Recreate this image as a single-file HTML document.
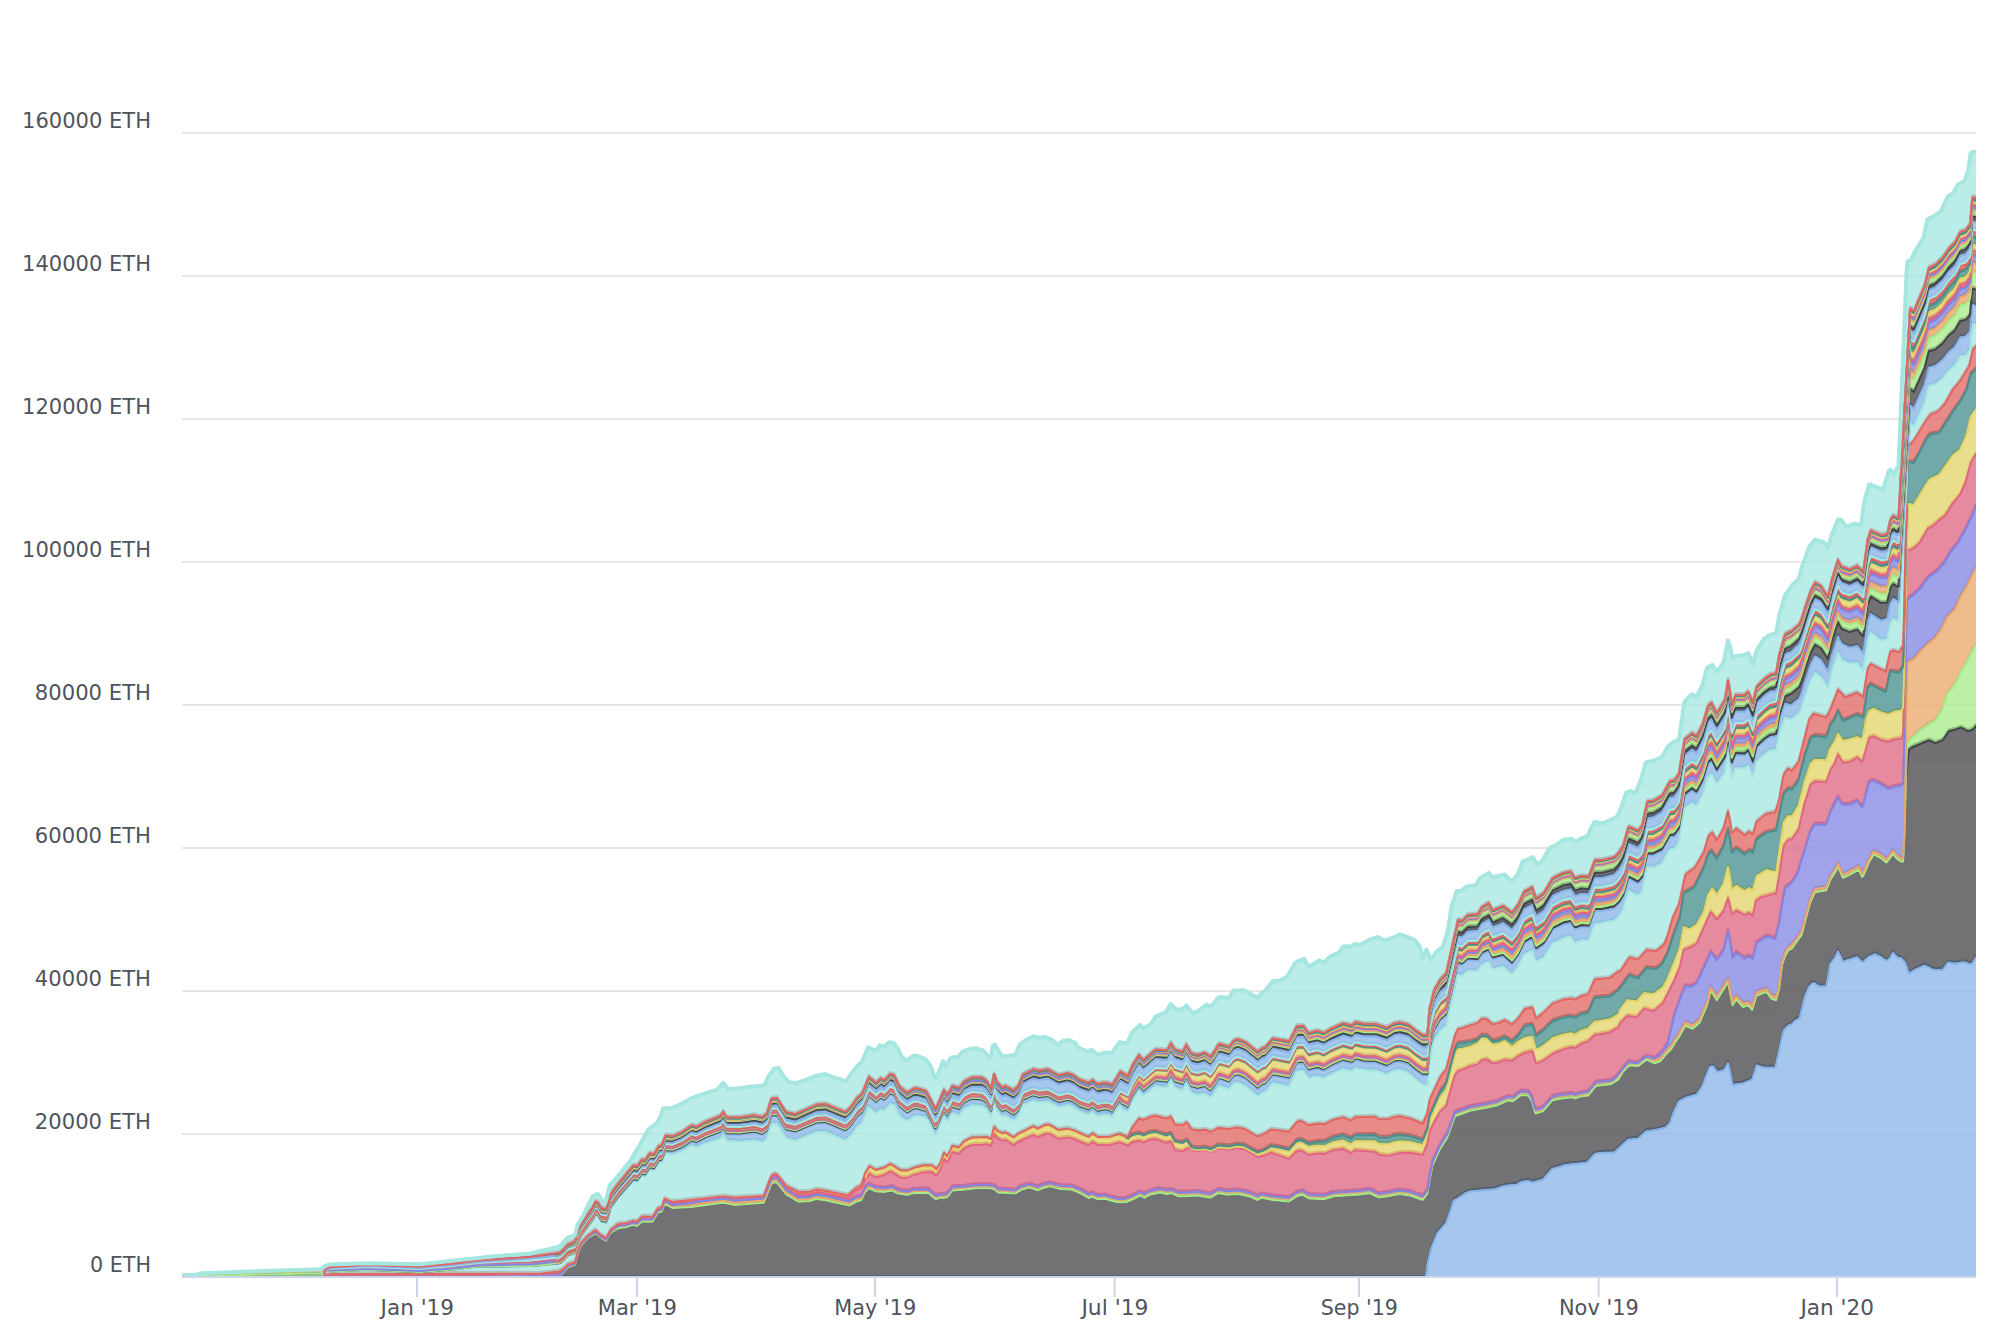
<!DOCTYPE html><html><head><meta charset="utf-8"><title>Chart</title><style>html,body{margin:0;padding:0;background:#fff}svg{display:block}text{font-family:"DejaVu Sans","Liberation Sans",sans-serif;font-size:22px;fill:#4e545c}</style></head><body>
<svg width="2002" height="1332" viewBox="0 0 2002 1332">
<rect width="2002" height="1332" fill="#fff"/>
<rect x="182" y="132" width="1794" height="2" fill="#e6e6e6"/>
<rect x="182" y="275" width="1794" height="2" fill="#e6e6e6"/>
<rect x="182" y="418" width="1794" height="2" fill="#e6e6e6"/>
<rect x="182" y="561" width="1794" height="2" fill="#e6e6e6"/>
<rect x="182" y="704" width="1794" height="2" fill="#e6e6e6"/>
<rect x="182" y="847" width="1794" height="2" fill="#e6e6e6"/>
<rect x="182" y="990" width="1794" height="2" fill="#e6e6e6"/>
<rect x="182" y="1133" width="1794" height="2" fill="#e6e6e6"/>
<defs><clipPath id="cp"><rect x="182" y="0" width="1794" height="1277"/></clipPath>
<path id="p0" d="M176,1283L176,1277 182,1277 1425.8,1276.9 1427.3,1264.2 1431.1,1247.5 1437.1,1232.6 1446.1,1222 1449.8,1211.7 1453.6,1199.6 1458,1197.4 1465.6,1192.1 1470,1190.6 1495.6,1188.3 1504.6,1184.9 1516.6,1183.8 1521.1,1180.9 1528.6,1180.1 1532.4,1181.6 1542.9,1178.6 1551.9,1168.1 1555.7,1167.3 1564.7,1164.3 1575,1162.9 1586,1162.1 1588,1160.4 1594.7,1153.1 1600.7,1151.9 1614.2,1151.6 1628,1138.8 1638,1137.8 1645.8,1130.5 1654.7,1129.3 1665.3,1126.8 1669.8,1122.3 1674.1,1110.1 1678.8,1100.5 1686,1096.7 1696.5,1093.7 1702.5,1084.7 1707,1072.7 1710,1066 1713,1065.2 1717.5,1071.1 1724.3,1068.9 1728,1062.1 1730,1070.3 1732.6,1083.9 1743.1,1082.4 1752.1,1078.6 1756.6,1064.4 1764.1,1066.7 1775,1066.7 1776.1,1063 1783,1031.7 1784,1028.7 1788.1,1024.6 1791,1023.9 1795.6,1019.4 1799.4,1017.7 1804.6,996.2 1809.1,985.7 1812.1,982.6 1813.6,982.6 1815.1,982.6 1818.9,985.6 1826,985.6 1827.9,976.6 1830.2,963 1834.7,957 1838,950.4 1841,956 1842.9,960.8 1857.2,956.3 1862,961.1 1863.2,960.9 1869.2,955.6 1875.2,953.3 1881,956.2 1886.5,960 1889,958.2 1893.2,951.8 1897.7,957 1901,957.1 1904.9,961.2 1909,972.8 1913.8,969.4 1924.7,964.6 1933.8,969.1 1942.8,968.7 1948,961.6 1954.8,962.8 1963.8,961.3 1970.7,963.6 1972.3,962.2 1976,956.3 1982,956.3 1982,1283"/>
<path id="p1" d="M176,1283L176,1277 182,1277 470,1277 500,1276.2 559.5,1275.5 564,1271 567.8,1266.4 575,1264 577.5,1254.6 580.5,1245.5 588,1236.9 595.6,1232.4 600.1,1236.4 606.1,1240.1 610.6,1231.9 618.1,1227.4 625.6,1226.3 633.1,1223.9 636.8,1225.1 642.1,1220.6 652.6,1220.9 657.9,1211.6 661.6,1210.9 664.6,1202.7 672.1,1207.1 690,1206.4 723.2,1201.9 735,1204.1 763.7,1201.9 771.2,1183.2 774.2,1181.3 777.2,1181.9 786.2,1193.6 798.3,1200.8 808.8,1200.4 816.3,1198.1 825.3,1199.3 849.3,1204.7 856,1200.9 861.3,1199.4 865,1191.3 868.8,1187.4 875,1190.2 876.3,1190.5 884,1191.1 892.1,1189.7 898.1,1192.7 907.1,1194.2 914,1192.1 928.1,1191.9 935,1197.8 936.4,1198.2 940.1,1197.2 947,1196.5 950,1192.9 952,1189.9 953,1189.6 964.1,1188.9 976.2,1187.4 989.7,1187.4 994,1188.1 998,1191.5 1015.2,1192.7 1021.2,1188.9 1029.5,1186.7 1037.7,1189.4 1042.2,1187.4 1049.7,1185.5 1060.2,1188.2 1072.3,1188.9 1081.3,1192.7 1088.8,1197.2 1091.8,1195.7 1097.8,1198.4 1105.3,1197.9 1109.8,1199.4 1118,1201.4 1125.5,1201.4 1133,1198.4 1140.5,1194.6 1144.3,1196.9 1149.5,1193.9 1160,1191.6 1166,1193.1 1172,1192.4 1178,1195.3 1185.6,1195.4 1197.6,1194.6 1210.4,1196.8 1217.9,1192.4 1227.6,1193.9 1238,1193.1 1248.6,1195.3 1257.7,1199.1 1261.4,1196.9 1271,1198.8 1289,1200.6 1296.7,1195.4 1302.7,1193.9 1308.7,1197.6 1323.7,1198.4 1334,1195.4 1358,1193.9 1370,1192.4 1379,1196.7 1388,1195.4 1399.5,1193.1 1410,1194.6 1422.8,1199.1 1427.3,1193.1 1429.5,1179.9 1432.6,1164.5 1440,1148.2 1447.6,1136 1455,1115.3 1470,1109.8 1485.1,1107.2 1497.1,1104.5 1507.6,1099.7 1512.9,1100.3 1521.1,1094 1528.6,1094.8 1531.7,1100.2 1535,1111.4 1536,1112.6 1542.9,1110.5 1552.7,1099.3 1560,1097.8 1572.2,1096.3 1575,1097.7 1581.2,1095.5 1588,1094.7 1596.2,1085 1611.2,1083.4 1618.7,1078.2 1623.2,1070.7 1629.2,1064.7 1638,1065.4 1646.5,1058.7 1654.7,1062.4 1660.8,1060.1 1666.8,1052.6 1671.3,1048.1 1675.8,1040.6 1678.8,1036.4 1685.3,1024.9 1692.8,1027.8 1699.5,1021.9 1707,1004.7 1710.8,989.6 1716.8,999.3 1728,981.4 1732.6,1004.5 1736.3,998.6 1743.1,1006.1 1748,1004.7 1749.1,1005.5 1752.1,1009 1756.6,994.8 1766,991.2 1767.1,992.1 1771.6,997.9 1776.1,999.3 1779.1,988.1 1782.1,964.1 1785.1,955.1 1788.1,949.8 1791.9,947.5 1801.6,934.1 1809.1,905.6 1812.1,897.3 1815.1,891.3 1826,889.7 1827.9,885.5 1830.2,879.1 1834.7,872.3 1838,865.8 1842.9,876.9 1849.7,873.9 1858.7,868.7 1862,876 1863.2,875.1 1869.2,861.1 1873.7,853.6 1881,857.3 1886.5,861.8 1893.2,852.9 1896.2,857.4 1901,860.8 1903,860.5 1904,842.9 1906.7,770.7 1909,749 1910.8,747.2 1913,746 1928.8,739.5 1930.2,739.8 1935.3,742.3 1942.8,739.2 1948.8,730.3 1954.8,728.8 1961,726.6 1968.3,730.3 1973,728.5 1976,725 1982,725 1982,1283"/>
<path id="p2" d="M324.6,1283L324.6,1276.9 470,1276.9 500,1276.1 559.5,1275.4 564,1270.9 567.8,1266.3 575,1263.9 577.5,1254.5 580.5,1245.4 588,1236.8 595.6,1232.3 600.1,1236.3 606.1,1240 610.6,1231.8 618.1,1227.3 625.6,1226.2 633.1,1223.8 636.8,1225 642.1,1220.5 652.6,1220.8 657.9,1211.5 661.6,1210.8 664.6,1202.6 672.1,1207 690,1206.3 723.2,1201.8 735,1204 763.7,1201.8 771.2,1183.1 774.2,1181.2 777.2,1181.8 786.2,1193.5 798.3,1200.7 808.8,1200.3 816.3,1198 825.3,1199.2 849.3,1204.6 856,1200.8 861.3,1199.3 865,1191.2 868.8,1187.3 875,1190.1 876.3,1190.4 884,1191 892.1,1189.6 898.1,1192.6 907.1,1194.1 914,1192 928.1,1191.8 935,1197.7 936.4,1198.1 940.1,1197.1 947,1196.4 950,1192.8 952,1189.8 953,1189.5 964.1,1188.8 976.2,1187.3 989.7,1187.3 994,1188 998,1191.4 1015.2,1192.6 1021.2,1188.8 1029.5,1186.6 1037.7,1189.3 1042.2,1187.3 1049.7,1185.4 1060.2,1188.1 1072.3,1188.8 1081.3,1192.6 1088.8,1197.1 1091.8,1195.6 1097.8,1198.3 1105.3,1197.8 1109.8,1199.3 1118,1201.3 1125.5,1201.3 1133,1198.3 1140.5,1194.5 1144.3,1196.8 1149.5,1193.8 1160,1191.5 1166,1193 1172,1192.3 1178,1195.2 1185.6,1195.3 1197.6,1194.5 1210.4,1196.7 1217.9,1192.3 1227.6,1193.8 1238,1193 1248.6,1195.2 1257.7,1199 1261.4,1196.8 1271,1198.7 1289,1200.5 1296.7,1195.3 1302.7,1193.8 1308.7,1197.5 1323.7,1198.3 1334,1195.3 1358,1193.8 1370,1192.3 1379,1196.6 1388,1195.3 1399.5,1193 1410,1194.5 1422.8,1199 1427.3,1193 1429.5,1179.8 1432.6,1164.4 1440,1148.1 1447.6,1135.9 1455,1115.2 1470,1109.7 1485.1,1107.1 1497.1,1104.4 1507.6,1099.6 1512.9,1100.2 1521.1,1093.9 1528.6,1094.7 1531.7,1100.1 1535,1111.3 1536,1112.5 1542.9,1110.4 1552.7,1099.2 1560,1097.7 1572.2,1096.2 1575,1097.6 1581.2,1095.4 1588,1094.6 1596.2,1084.9 1611.2,1083.3 1618.7,1078.1 1623.2,1070.6 1629.2,1064.6 1638,1065.3 1646.5,1058.6 1654.7,1062.3 1660.8,1060 1666.8,1052.5 1671.3,1048 1675.8,1040.5 1678.8,1036.3 1685.3,1024.8 1692.8,1027.7 1699.5,1021.8 1707,1004.6 1710.8,989.5 1716.8,999.2 1728,981.3 1732.6,1004.4 1736.3,998.5 1743.1,1006 1748,1004.6 1749.1,1005.4 1752.1,1008.9 1756.6,994.7 1766,991.1 1767.1,992 1771.6,997.8 1776.1,999.2 1779.1,988 1782.1,964 1785.1,955 1788.1,949.7 1791.9,947.4 1801.6,934 1809.1,905.5 1812.1,897.2 1815.1,891.2 1826,889.6 1827.9,885.4 1830.2,879 1834.7,872.2 1838,865.7 1842.9,876.8 1849.7,873.8 1858.7,868.6 1862,875.9 1863.2,875 1869.2,861 1873.7,853.5 1881,857.2 1886.5,861.7 1893.2,852.8 1896.2,857.3 1901,860.7 1903,860.4 1904,842.8 1904.9,815.8 1906.7,745.2 1909,740 1913.8,735.8 1920.2,729.5 1928,724.1 1935.3,719.9 1942.8,707.6 1947.3,692.6 1954.8,683.6 1961,671.3 1968.3,658.1 1973,648.8 1976,644 1982,644 1982,1283"/>
<path id="p3" d="M324.6,1283L324.6,1276.8 470,1276.6 500,1275.8 559.5,1274.9 564,1270.2 567.8,1265.5 575,1262.9 577.5,1253.3 580.5,1244.2 588,1236 595.6,1230.8 600.1,1235.3 606.1,1239 610.6,1230.8 618.1,1225.3 625.6,1224.3 633.1,1222 636.8,1223 642.1,1218.5 652.6,1218.8 657.9,1209.5 661.6,1208.8 664.6,1200.6 672.1,1205 690,1204.2 705.2,1201.9 723.2,1199.7 735,1201.9 763.7,1199.7 771.2,1181 774.2,1179.1 777.2,1179.7 786.2,1191.4 798.3,1198.6 808.8,1198.2 816.3,1195.9 825.3,1197.1 849.3,1202.5 856,1198.7 861.3,1197.2 865,1189.1 868.8,1185.2 875,1188 876.3,1188.3 884,1188.9 892.1,1187.5 898.1,1190.5 907.1,1192 914,1189.9 928.1,1189.7 935,1195.6 936.4,1196 940.1,1195 947,1194.3 950,1190.7 952,1187.7 953,1187.4 964.1,1186.7 976.2,1185.2 989.7,1185.2 994,1185.9 998,1189.3 1015.2,1190.4 1021.2,1186.6 1029.5,1184.4 1037.7,1187 1042.2,1185.1 1049.7,1183.1 1060.2,1185.7 1072.3,1186.5 1081.3,1190.2 1088.8,1194.6 1091.8,1193.1 1097.8,1195.8 1105.3,1195.3 1109.8,1196.8 1118,1198.7 1125.5,1198.7 1133,1195.7 1140.5,1191.9 1144.3,1194.1 1149.5,1191.1 1160,1188.8 1166,1190.2 1172,1189.5 1178,1192.4 1185.6,1192.4 1197.6,1191.6 1210.4,1193.8 1217.9,1189.3 1227.6,1190.8 1238,1190 1248.6,1192.2 1257.7,1196 1261.4,1193.8 1271,1195.7 1289,1197.5 1296.7,1192.3 1302.7,1190.8 1308.7,1194.5 1323.7,1195.3 1334,1192.3 1358,1190.8 1370,1189.3 1379,1193.6 1388,1192.3 1399.5,1190 1410,1191.5 1422.8,1196 1427.3,1190 1429.5,1176.8 1432.6,1161.4 1440,1145.1 1447.6,1132.9 1455,1112.2 1470,1106.7 1485.1,1104.1 1497.1,1101.4 1507.6,1096.6 1512.9,1097.2 1521.1,1090.9 1528.6,1091.7 1531.7,1097.1 1535,1108.3 1536,1109.5 1542.9,1107.4 1552.7,1096.2 1560,1094.7 1572.2,1093.2 1575,1094.6 1581.2,1092.4 1588,1091.6 1596.2,1081.9 1611.2,1080.3 1618.7,1075.1 1623.2,1067.6 1629.2,1061.6 1638,1062.3 1646.5,1055.6 1654.7,1059.3 1660.8,1057 1666.8,1049.5 1671.3,1045 1675.8,1037.5 1678.8,1033.3 1685.3,1021.8 1692.8,1024.7 1699.5,1018.8 1707,1001.6 1710.8,986.5 1716.8,996.2 1728,978.3 1732.6,1001.4 1736.3,995.5 1743.1,1003 1748,1001.6 1749.1,1002.4 1752.1,1005.9 1756.6,991.7 1766,988.1 1767.1,989 1771.6,994.8 1776.1,996.2 1779.1,985 1782.1,961 1785.1,952 1788.1,946.7 1791.9,944.4 1801.6,931 1809.1,902.5 1812.1,894.2 1815.1,888.2 1826,886.6 1827.9,882.4 1830.2,876 1834.7,869.2 1838,862.7 1842.9,873.8 1849.7,870.8 1858.7,865.6 1862,872.9 1863.2,872 1869.2,858 1873.7,850.5 1881,854.2 1886.5,858.7 1893.2,849.8 1896.2,854.3 1901,857.7 1903,857.4 1904,839.8 1904.9,812.8 1906.7,664.1 1907.6,662.4 1909,660.8 1913.8,658.4 1920.2,650.7 1927.3,643.6 1935.3,637 1941.3,628 1947.3,616.1 1954.8,608.5 1961,594.7 1968.3,583 1973,572.2 1976,567.4 1982,567.4 1982,1283"/>
<path id="p4" d="M324.6,1283L324.6,1276.6 470,1276.4 500,1275.6 559.5,1274.6 564,1269.9 567.8,1265.2 575,1262.9 577.5,1253.3 580.5,1244.2 588,1236 595.6,1230.8 600.1,1235.3 606.1,1239 610.6,1230.8 618.1,1225 625.6,1224.2 633.1,1222 636.8,1222.8 642.1,1218.2 652.6,1218.4 657.9,1209.5 661.6,1208.8 664.6,1199.9 672.1,1204.1 680,1203.6 690,1202.5 698,1200.7 723.2,1197.8 735,1199.6 763.7,1197.4 771.2,1178.7 774.2,1176.9 777.2,1177.4 786.2,1189.1 798.3,1196.4 808.8,1196 816.3,1193.8 825.3,1195 849.3,1200.4 856,1196.7 861.3,1195.2 865,1187.2 868.8,1183.4 875,1186.3 876.3,1186.6 884,1187.4 892.1,1186.1 898.1,1189.2 907.1,1190.8 914,1188.7 928.1,1188.6 935,1194.5 936.4,1194.8 940.1,1193.9 947,1193.2 950,1189.6 952,1186.6 953,1186.3 964.1,1185.7 976.2,1184.2 989.7,1184.2 994,1184.9 998,1188.3 1015.2,1189.5 1021.2,1185.7 1029.5,1183.4 1037.7,1186.1 1042.2,1184.2 1049.7,1182.2 1060.2,1184.9 1072.3,1185.6 1081.3,1189.4 1088.8,1193.8 1091.8,1192.3 1097.8,1195 1105.3,1194.6 1109.8,1196 1118,1198 1125.5,1197.9 1133,1194.9 1140.5,1191.2 1144.3,1193.4 1149.5,1190.4 1160,1188.1 1166,1189.6 1172,1188.9 1178,1191.8 1185.6,1191.8 1197.6,1191.1 1210.4,1193.3 1217.9,1188.8 1227.6,1190.3 1238,1189.5 1248.6,1191.7 1257.7,1195.5 1261.4,1193.3 1271,1195.2 1289,1197 1296.7,1191.8 1302.7,1190.3 1308.7,1194 1323.7,1194.8 1334,1191.8 1358,1190.3 1370,1188.8 1379,1193.1 1388,1191.8 1399.5,1189.5 1410,1191 1422.8,1195.5 1427.3,1189.5 1429.5,1176.3 1432.6,1160.9 1440,1144.6 1447.6,1132.4 1455,1111.7 1470,1106.2 1485.1,1103.6 1497.1,1100.9 1507.6,1096.1 1512.9,1096.7 1521.1,1090.4 1528.6,1091.2 1531.7,1096.6 1535,1107.8 1536,1109 1542.9,1106.9 1552.7,1095.7 1560,1094.2 1572.2,1092.7 1575,1094.1 1581.2,1091.9 1588,1091.1 1596.2,1081.4 1611.2,1079.8 1614.2,1077.8 1615,1076.7 1615.8,1076.6 1628,1061.4 1629.2,1061.1 1634,1062 1638,1062 1646.5,1055.6 1654.7,1057.7 1663.1,1050.3 1668,1041.5 1674.1,1015.3 1679.9,998.8 1685.3,985.2 1690.9,986.1 1696.5,982.7 1707,960.1 1710.8,951.1 1716.8,959.3 1723.5,949.6 1728,930.1 1730,939.7 1732.6,957 1736.3,951.8 1744.6,957.8 1748,955.7 1749.1,955.9 1752.8,957.8 1756.6,942 1767.1,935.3 1775,938.2 1776.1,935.1 1779.1,922.5 1782.1,903 1785.1,887.2 1791,882.8 1797.1,873.7 1810.6,830.2 1815.1,823.4 1826,824.1 1827.9,819.3 1830.2,812 1838,796.4 1842.2,803.8 1849.7,803.8 1857.2,800.1 1862,806.3 1863.2,803.9 1869.2,781.3 1873.7,779.8 1881,783.5 1888,788.1 1894.7,785.8 1901,785.1 1903,782.7 1904,750.5 1906.7,602.5 1907.6,599.3 1909,597.5 1913.8,593.9 1920.2,587.6 1928,576.9 1937.7,569.9 1944.3,562 1950.3,551.5 1957.8,542.5 1965.6,528.4 1972.3,515 1976,505 1982,505 1982,1283"/>
<path id="p5" d="M795.3,1283L795.3,1191.8 798.3,1193.3 808.8,1193.3 816.3,1191.1 825.3,1192.3 847.8,1196.9 856,1189.5 861.3,1187.2 865,1177.9 868,1175.3 869.5,1172.8 875,1176.1 876.3,1176.3 884,1174.3 890,1170.7 892.1,1171.3 901.1,1176.9 907.1,1176.8 914,1173.9 923,1171.4 931.9,1171.1 936.4,1174.7 940.1,1169.4 943.9,1158 947,1161.7 950,1156.4 952,1151.3 953,1151.3 958.9,1153 964.1,1147.5 971.7,1144.2 982.2,1143.7 986.7,1143.2 991.2,1145.2 994,1133.2 994.9,1133.6 997.2,1137.1 1002.4,1139.6 1005.4,1139 1013.7,1144.2 1018.2,1141 1033.2,1134.1 1037.7,1136.5 1045,1133.1 1046,1133 1049.7,1132.9 1058.7,1138 1067.7,1136.4 1075.3,1138.5 1079.8,1140.7 1088.8,1144.2 1092.5,1140.8 1097.8,1144.1 1109,1144.3 1119.5,1141.4 1127.8,1144.8 1132.3,1141.3 1139,1139.8 1143.5,1141.4 1149.5,1138.8 1155.6,1138.1 1166,1141.7 1170.9,1140.5 1175,1149.1 1181,1150.2 1182.6,1150.4 1186.3,1147.9 1187,1147.9 1190,1146.5 1191.6,1148.8 1197.6,1149.9 1205,1149 1210.4,1150.9 1214,1149.5 1217.9,1147.4 1220,1147.3 1229,1148.7 1236.6,1147 1244,1148.2 1257.7,1156 1265,1154.6 1271,1151.8 1289,1157.9 1296.7,1150.2 1301,1149.6 1308.7,1154 1317.7,1152.4 1325,1152.7 1332.7,1149.4 1343,1148 1350.8,1152.2 1355,1149.2 1374.8,1150.9 1379,1153.8 1388,1154.9 1399.5,1152.1 1410,1151.8 1422.8,1154 1427.3,1143.3 1429.5,1130.3 1440,1110.9 1446.1,1105.3 1450.6,1088.9 1455,1074.4 1458,1070.2 1464.1,1068.1 1470,1065.4 1477.6,1063.4 1482,1059.2 1487,1058.6 1493,1062.6 1498.6,1061.6 1504.6,1058.9 1512,1059.7 1518,1055.4 1524.9,1052 1531.7,1050.3 1532.4,1050.3 1536,1062.6 1536.9,1062.7 1543.7,1059.3 1552.7,1053 1563.2,1048.4 1571.4,1046.2 1575,1047.3 1581.2,1042.9 1588,1040.5 1594.7,1034 1596.2,1034.1 1609.7,1031.4 1618.7,1026.3 1620,1022.2 1627.2,1015 1636.8,1016.2 1644,1007.8 1653.3,1010.1 1654.7,1009.2 1663.1,1001.9 1674.1,980 1679.9,966.1 1683.7,948.9 1689.7,946.5 1696.5,943.1 1710.8,911.2 1716.8,918.7 1723.5,910.5 1728,897.2 1730,904.4 1731.8,913.4 1736.3,909.7 1744.6,914.2 1749.1,912 1752.8,914.9 1755.8,900.1 1761.1,896.2 1776.1,892.4 1779.1,875.2 1783,849.2 1784,844.6 1788.1,839.1 1791.9,838.3 1798.6,828.6 1804.6,802.5 1810.6,783.7 1815.1,780.6 1826,781.3 1827.9,776.8 1830.2,770 1834.7,762.4 1838,753.6 1842.9,761.8 1849.7,761 1857.2,756.6 1862,760.7 1863.2,758.3 1869.2,737 1873.7,735.5 1881,739.2 1888,740.8 1894.7,738.5 1901,737.8 1903,733.7 1904,701.2 1906.7,554.5 1907.6,549.3 1909,549.6 1913.8,547.2 1915.3,546 1920.2,541.1 1928,527.4 1930.2,526.7 1935.3,523 1939.2,519.2 1945.2,514.6 1952.7,502.6 1960.2,493.6 1965.6,481.5 1970.7,462.1 1976,453.1 1982,453.1 1982,1283"/>
<path id="q5" d="M795.3,1194.5L795.3,1191.8 798.3,1193.3 808.8,1193.3 816.3,1191.1 825.3,1192.3 847.8,1196.9 856,1189.5 861.3,1187.2 865,1177.9 868,1175.3 869.5,1172.8 875,1176.1 876.3,1176.3 884,1174.3 890,1170.7 892.1,1171.3 901.1,1176.9 907.1,1176.8 914,1173.9 923,1171.4 931.9,1171.1 936.4,1174.7 940.1,1169.4 943.9,1158 947,1161.7 950,1156.4 952,1151.3 953,1151.3 958.9,1153 964.1,1147.5 971.7,1144.2 982.2,1143.7 986.7,1143.2 991.2,1145.2 994,1133.2 994.9,1133.6 997.2,1137.1 1002.4,1139.6 1005.4,1139 1013.7,1144.2 1018.2,1141 1033.2,1134.1 1037.7,1136.5 1045,1133.1 1046,1133 1049.7,1132.9 1058.7,1138 1067.7,1136.4 1075.3,1138.5 1079.8,1140.7 1088.8,1144.2 1092.5,1140.8 1097.8,1144.1 1109,1144.3 1119.5,1141.4 1127.8,1144.8 1132.3,1141.3 1139,1139.8 1143.5,1141.4 1149.5,1138.8 1155.6,1138.1 1166,1141.7 1170.9,1140.5 1175,1149.1 1181,1150.2 1182.6,1150.4 1186.3,1147.9 1187,1147.9 1190,1146.5 1191.6,1148.8 1197.6,1149.9 1205,1149 1210.4,1150.9 1214,1149.5 1217.9,1147.4 1220,1147.3 1229,1148.7 1236.6,1147 1244,1148.2 1257.7,1156 1265,1154.6 1271,1151.8 1289,1157.9 1296.7,1150.2 1301,1149.6 1308.7,1154 1317.7,1152.4 1325,1152.7 1332.7,1149.4 1343,1148 1350.8,1152.2 1355,1149.2 1374.8,1150.9 1379,1153.8 1388,1154.9 1399.5,1152.1 1410,1151.8 1422.8,1154 1427.3,1143.3 1429.5,1130.3 1440,1110.9 1446.1,1105.3 1450.6,1088.9 1455,1074.4 1458,1070.2 1464.1,1068.1 1470,1065.4 1477.6,1063.4 1482,1059.2 1487,1058.6 1493,1062.6 1498.6,1061.6 1504.6,1058.9 1512,1059.7 1518,1055.4 1524.9,1052 1531.7,1050.3 1532.4,1050.3 1536,1062.6 1536.9,1062.7 1543.7,1059.3 1552.7,1053 1563.2,1048.4 1571.4,1046.2 1575,1047.3 1581.2,1042.9 1588,1040.5 1594.7,1034 1596.2,1034.1 1609.7,1031.4 1618.7,1026.3 1620,1022.2 1627.2,1015 1636.8,1016.2 1644,1007.8 1653.3,1010.1 1654.7,1009.2 1663.1,1001.9 1674.1,980 1679.9,966.1 1683.7,948.9 1689.7,946.5 1696.5,943.1 1710.8,911.2 1716.8,918.7 1723.5,910.5 1728,897.2 1730,904.4 1731.8,913.4 1736.3,909.7 1744.6,914.2 1749.1,912 1752.8,914.9 1755.8,900.1 1761.1,896.2 1776.1,892.4 1779.1,875.2 1783,849.2 1784,844.6 1788.1,839.1 1791.9,838.3 1798.6,828.6 1804.6,802.5 1810.6,783.7 1815.1,780.6 1826,781.3 1827.9,776.8 1830.2,770 1834.7,762.4 1838,753.6 1842.9,761.8 1849.7,761 1857.2,756.6 1862,760.7 1863.2,758.3 1869.2,737 1873.7,735.5 1881,739.2 1888,740.8 1894.7,738.5 1901,737.8 1903,733.7 1904,701.2 1906.7,554.5 1907.6,549.3 1909,549.6 1913.8,547.2 1915.3,546 1920.2,541.1 1928,527.4 1930.2,526.7 1935.3,523 1939.2,519.2 1945.2,514.6 1952.7,502.6 1960.2,493.6 1965.6,481.5 1970.7,462.1 1976,453.1 1982,453.1 1982,1283"/>
<path id="p6" d="M866,1283L866,1172.6 869.5,1166.8 875,1170.1 876.3,1170.3 884,1168.4 890,1164.8 892.1,1165.5 901.1,1171.2 907.1,1171.2 914,1168.5 923,1166.2 925.1,1166 931.9,1166 936.4,1169.7 940.1,1164.5 943.9,1153.3 947,1157 950,1151.8 952,1146.8 953,1146.7 958.9,1148 964.1,1142.1 971.7,1138.2 982.2,1138 986.7,1137.5 991.2,1139.6 994,1127.7 994.9,1128.1 997.2,1131.5 1002.4,1133.7 1005.4,1133 1013.7,1138 1018.2,1134.5 1033.2,1127 1037.7,1129.3 1045,1125.6 1046,1125.5 1049.7,1125.5 1058.7,1130.8 1067.7,1129.3 1075.3,1131.6 1079.8,1133.8 1088.8,1137.5 1092.5,1134.1 1097.8,1137.6 1109,1137.8 1119.5,1135.1 1127.8,1138.7 1132.3,1135.4 1139,1134.1 1143.5,1135.8 1149.5,1133.2 1155.6,1132.4 1166,1135.8 1170.9,1134.3 1175,1142.1 1182.6,1143.4 1186.3,1140.9 1187,1140.9 1191.6,1147.8 1197.6,1149 1205,1148.1 1210.4,1150 1214,1148.7 1217.9,1146.4 1220,1146.2 1229,1147.4 1236.6,1145.5 1244,1146.3 1257.7,1153.5 1265,1151 1271,1147.2 1280,1148.8 1289,1151.1 1296.7,1142.6 1301,1141.6 1308.7,1146.1 1317.7,1144.7 1325,1145.2 1332.7,1141.6 1343,1139.6 1350.8,1143.5 1355,1140.2 1374.8,1140.4 1379,1143 1388,1143.4 1394,1141.5 1399.5,1140.4 1410,1141.1 1422.8,1144.2 1427.3,1133.4 1429.5,1120.4 1440,1096.7 1446.1,1088.5 1455,1053.8 1458,1048.4 1464.1,1047.4 1470,1045.9 1477.6,1042.5 1482,1037.4 1487,1038.3 1492,1043.3 1493,1043.8 1498.6,1042.8 1504.6,1040.1 1512,1045.7 1518,1040.9 1524.9,1037.1 1531.7,1035.9 1532.4,1035.9 1536,1048.6 1536.9,1048.6 1543.7,1044.5 1552.7,1037.2 1563.2,1033.7 1571.4,1032.3 1575,1033.8 1581.2,1029.7 1588,1027.7 1594.7,1020.6 1596.2,1020.7 1609.7,1018.6 1618.7,1013.2 1620,1008.9 1627.2,999.3 1636.8,1000.5 1644,992.2 1653.3,993.3 1654.7,992.5 1663.1,986.2 1668,976.6 1674.1,962 1679.9,946.9 1683.7,926.1 1689.7,928.4 1696.5,923.9 1704,910.5 1707.8,894.6 1712.3,887.2 1716.8,893.9 1723.5,882.7 1728,866 1730,876.1 1731.8,888.7 1736.3,884.9 1744.6,890.2 1749.1,887.2 1752.8,889.4 1756.6,875.2 1766,869.4 1767.1,869.3 1776.1,871.4 1783,825.3 1784,820.6 1788.1,815.1 1791.9,815.8 1798.6,804.6 1804.6,780.7 1810.6,762.6 1815.1,758.8 1826,759.5 1827.9,754.7 1830.2,747.5 1834.7,740.7 1838,732.6 1842.9,740 1849.7,738.5 1857.2,736.3 1862,738.3 1863.2,734.2 1866.2,717.5 1869.2,710 1873.7,707.8 1881,711.4 1888,713.7 1894.7,710.8 1901,710.1 1903,706.5 1904,677.7 1907.6,504 1909,503 1913,504 1913.8,503.9 1926.4,483.1 1930.2,477.9 1939.2,474.1 1952.7,454.6 1960.2,448.6 1965.6,436.4 1967,431.6 1970.7,415.6 1976,408.1 1982,408.1 1982,1283"/>
<path id="q6" d="M866,1177L866,1172.6 869.5,1166.8 875,1170.1 876.3,1170.3 884,1168.4 890,1164.8 892.1,1165.5 901.1,1171.2 907.1,1171.2 914,1168.5 923,1166.2 925.1,1166 931.9,1166 936.4,1169.7 940.1,1164.5 943.9,1153.3 947,1157 950,1151.8 952,1146.8 953,1146.7 958.9,1148 964.1,1142.1 971.7,1138.2 982.2,1138 986.7,1137.5 991.2,1139.6 994,1127.7 994.9,1128.1 997.2,1131.5 1002.4,1133.7 1005.4,1133 1013.7,1138 1018.2,1134.5 1033.2,1127 1037.7,1129.3 1045,1125.6 1046,1125.5 1049.7,1125.5 1058.7,1130.8 1067.7,1129.3 1075.3,1131.6 1079.8,1133.8 1088.8,1137.5 1092.5,1134.1 1097.8,1137.6 1109,1137.8 1119.5,1135.1 1127.8,1138.7 1132.3,1135.4 1139,1134.1 1143.5,1135.8 1149.5,1133.2 1155.6,1132.4 1166,1135.8 1170.9,1134.3 1175,1142.1 1182.6,1143.4 1186.3,1140.9 1187,1140.9 1191.6,1147.8 1197.6,1149 1205,1148.1 1210.4,1150 1214,1148.7 1217.9,1146.4 1220,1146.2 1229,1147.4 1236.6,1145.5 1244,1146.3 1257.7,1153.5 1265,1151 1271,1147.2 1280,1148.8 1289,1151.1 1296.7,1142.6 1301,1141.6 1308.7,1146.1 1317.7,1144.7 1325,1145.2 1332.7,1141.6 1343,1139.6 1350.8,1143.5 1355,1140.2 1374.8,1140.4 1379,1143 1388,1143.4 1394,1141.5 1399.5,1140.4 1410,1141.1 1422.8,1144.2 1427.3,1133.4 1429.5,1120.4 1440,1096.7 1446.1,1088.5 1455,1053.8 1458,1048.4 1464.1,1047.4 1470,1045.9 1477.6,1042.5 1482,1037.4 1487,1038.3 1492,1043.3 1493,1043.8 1498.6,1042.8 1504.6,1040.1 1512,1045.7 1518,1040.9 1524.9,1037.1 1531.7,1035.9 1532.4,1035.9 1536,1048.6 1536.9,1048.6 1543.7,1044.5 1552.7,1037.2 1563.2,1033.7 1571.4,1032.3 1575,1033.8 1581.2,1029.7 1588,1027.7 1594.7,1020.6 1596.2,1020.7 1609.7,1018.6 1618.7,1013.2 1620,1008.9 1627.2,999.3 1636.8,1000.5 1644,992.2 1653.3,993.3 1654.7,992.5 1663.1,986.2 1668,976.6 1674.1,962 1679.9,946.9 1683.7,926.1 1689.7,928.4 1696.5,923.9 1704,910.5 1707.8,894.6 1712.3,887.2 1716.8,893.9 1723.5,882.7 1728,866 1730,876.1 1731.8,888.7 1736.3,884.9 1744.6,890.2 1749.1,887.2 1752.8,889.4 1756.6,875.2 1766,869.4 1767.1,869.3 1776.1,871.4 1783,825.3 1784,820.6 1788.1,815.1 1791.9,815.8 1798.6,804.6 1804.6,780.7 1810.6,762.6 1815.1,758.8 1826,759.5 1827.9,754.7 1830.2,747.5 1834.7,740.7 1838,732.6 1842.9,740 1849.7,738.5 1857.2,736.3 1862,738.3 1863.2,734.2 1866.2,717.5 1869.2,710 1873.7,707.8 1881,711.4 1888,713.7 1894.7,710.8 1901,710.1 1903,706.5 1904,677.7 1907.6,504 1909,503 1913,504 1913.8,503.9 1926.4,483.1 1930.2,477.9 1939.2,474.1 1952.7,454.6 1960.2,448.6 1965.6,436.4 1967,431.6 1970.7,415.6 1976,408.1 1982,408.1 1982,1283"/>
<path id="p7" d="M1127,1283L1127,1137.2 1127.8,1137.4 1132.3,1134 1139,1132.6 1143.5,1134.3 1149.5,1131.7 1155.6,1130.9 1166,1134.3 1170.9,1132.8 1175,1140.6 1182.6,1141.9 1186.3,1139.4 1187,1139.4 1191.6,1146.3 1197.6,1147.4 1205,1146.5 1210.4,1148.3 1214,1146.9 1217.9,1144.6 1220,1144.4 1229,1145.5 1236.6,1143.5 1244,1144.3 1257.7,1151.5 1265,1148.9 1271,1145.1 1280,1146.5 1289,1148.5 1296.7,1139.7 1301,1138.6 1308.7,1142.7 1317.7,1140.7 1325,1140.7 1332.7,1136.7 1343,1134.2 1350.8,1137.7 1355,1134.2 1374.8,1134.1 1379,1136.5 1388,1136.9 1394,1134.8 1399.5,1134 1410,1135.3 1422.8,1139.2 1427.3,1128.3 1429.5,1115.2 1440,1091.2 1446.1,1082.9 1455,1047.9 1458,1042.4 1464.1,1041.9 1470,1040.9 1477.6,1038.7 1482,1034.4 1487,1035.1 1492,1039.8 1493,1040.4 1498.6,1039 1504.6,1036.1 1512,1040.6 1518,1034.9 1524.9,1025.1 1532.4,1023.7 1536,1034.6 1536.9,1034.5 1543.7,1029.1 1552.7,1020.3 1563.2,1016.7 1571.4,1015.3 1575,1016.8 1581.2,1013.2 1588,1011.7 1594.7,996.9 1609.7,995.6 1618.7,989 1629.2,974.7 1630.8,974.6 1638,977.7 1646.5,966.9 1656,968.1 1662,963.3 1668,951.4 1674.1,932 1679.9,916.9 1683.7,892.4 1694,886.7 1696.5,882.1 1704,866.2 1708.5,852.7 1711.5,850.4 1716.8,857.9 1723.5,845.2 1728,828.4 1730,839 1731.8,851.9 1736.3,847.4 1744.6,853.4 1749.1,849.7 1752.8,851.9 1756.6,838.4 1766,831.9 1776.1,829.4 1783,795.6 1784,792.2 1788.1,788.1 1791.9,788.8 1798.6,779.1 1804.6,755.1 1810.6,737.1 1815.1,734.8 1826,736.2 1827.9,731.5 1830.2,724.2 1834.7,718.1 1838,710.1 1842.9,720 1857.2,713.8 1863.2,716.6 1867.7,686.7 1870.7,683.7 1885.7,691.2 1890.2,670.3 1899.2,671.7 1903,665.6 1904,636.9 1907.6,462 1909,461 1913,462 1913.8,461.8 1921.1,448.7 1926.4,438.1 1930.2,433.6 1939.2,432 1952.7,411 1960.2,400.5 1965.6,391.1 1967,387.1 1970.7,373.5 1976,368.3 1982,368.3 1982,1283"/>
<path id="q7" d="M1127,1138L1127,1137.2 1127.8,1137.4 1132.3,1134 1139,1132.6 1143.5,1134.3 1149.5,1131.7 1155.6,1130.9 1166,1134.3 1170.9,1132.8 1175,1140.6 1182.6,1141.9 1186.3,1139.4 1187,1139.4 1191.6,1146.3 1197.6,1147.4 1205,1146.5 1210.4,1148.3 1214,1146.9 1217.9,1144.6 1220,1144.4 1229,1145.5 1236.6,1143.5 1244,1144.3 1257.7,1151.5 1265,1148.9 1271,1145.1 1280,1146.5 1289,1148.5 1296.7,1139.7 1301,1138.6 1308.7,1142.7 1317.7,1140.7 1325,1140.7 1332.7,1136.7 1343,1134.2 1350.8,1137.7 1355,1134.2 1374.8,1134.1 1379,1136.5 1388,1136.9 1394,1134.8 1399.5,1134 1410,1135.3 1422.8,1139.2 1427.3,1128.3 1429.5,1115.2 1440,1091.2 1446.1,1082.9 1455,1047.9 1458,1042.4 1464.1,1041.9 1470,1040.9 1477.6,1038.7 1482,1034.4 1487,1035.1 1492,1039.8 1493,1040.4 1498.6,1039 1504.6,1036.1 1512,1040.6 1518,1034.9 1524.9,1025.1 1532.4,1023.7 1536,1034.6 1536.9,1034.5 1543.7,1029.1 1552.7,1020.3 1563.2,1016.7 1571.4,1015.3 1575,1016.8 1581.2,1013.2 1588,1011.7 1594.7,996.9 1609.7,995.6 1618.7,989 1629.2,974.7 1630.8,974.6 1638,977.7 1646.5,966.9 1656,968.1 1662,963.3 1668,951.4 1674.1,932 1679.9,916.9 1683.7,892.4 1694,886.7 1696.5,882.1 1704,866.2 1708.5,852.7 1711.5,850.4 1716.8,857.9 1723.5,845.2 1728,828.4 1730,839 1731.8,851.9 1736.3,847.4 1744.6,853.4 1749.1,849.7 1752.8,851.9 1756.6,838.4 1766,831.9 1776.1,829.4 1783,795.6 1784,792.2 1788.1,788.1 1791.9,788.8 1798.6,779.1 1804.6,755.1 1810.6,737.1 1815.1,734.8 1826,736.2 1827.9,731.5 1830.2,724.2 1834.7,718.1 1838,710.1 1842.9,720 1857.2,713.8 1863.2,716.6 1867.7,686.7 1870.7,683.7 1885.7,691.2 1890.2,670.3 1899.2,671.7 1903,665.6 1904,636.9 1907.6,462 1909,461 1913,462 1913.8,461.8 1921.1,448.7 1926.4,438.1 1930.2,433.6 1939.2,432 1952.7,411 1960.2,400.5 1965.6,391.1 1967,387.1 1970.7,373.5 1976,368.3 1982,368.3 1982,1283"/>
<path id="p8" d="M324.6,1283L324.6,1274.4 330,1273.3 540,1272.7 559.5,1270.4 564,1267.5 567.8,1263.7 575,1261.5 577.5,1251.8 580.5,1242.8 588,1234.5 592.6,1231.2 595.6,1229.2 600.1,1233.7 606.1,1237.3 610.6,1229.1 618.1,1223.1 625.6,1222.4 633.1,1220.1 636.8,1220.9 642.1,1215.6 652.6,1215.9 657.9,1207.4 661.6,1206.6 664.6,1197.7 672.1,1200.9 705.2,1197.6 723.2,1195.4 735,1196.8 763.7,1194.9 771.2,1175.2 774.2,1172.9 777.2,1173.6 786.2,1184.8 798.3,1190.9 808.8,1190.9 816.3,1188.6 825.3,1189.8 847.8,1194.4 856,1186.9 861.3,1184.6 865,1172.8 869.5,1165.2 875,1168.5 876.3,1168.7 884,1166.8 890,1163.2 892.1,1163.9 901.1,1169.6 907.1,1169.6 914,1166.9 923,1164.5 931.9,1164.4 936.4,1168.1 940.1,1162.9 943.9,1151.7 947,1155.4 950,1150.2 952,1145.2 953,1145.1 958.9,1146.4 964.1,1140.4 971.7,1136.6 982.2,1136.3 986.7,1135.9 991.2,1138 994,1126.1 994.9,1126.4 997.2,1129.9 1002.4,1132.1 1005.4,1131.4 1013.7,1136.3 1018.2,1132.9 1033.2,1125.4 1037.7,1127.6 1045,1124 1046,1123.8 1049.7,1123.8 1058.7,1129.1 1067.7,1127.6 1075.3,1129.9 1079.8,1132.1 1088.8,1135.8 1092.5,1132.4 1097.8,1135.9 1109,1135.9 1119.5,1132.8 1127.8,1136.2 1132.3,1126.5 1139,1117.6 1143.5,1119 1149.5,1116.1 1155.6,1114.8 1166,1117.5 1170.9,1115.8 1175,1123.4 1182.6,1124.3 1186.3,1121.6 1187,1121.6 1191.6,1128.3 1197.6,1129.5 1205,1128.8 1210.4,1130.8 1214,1129.4 1217.9,1127.2 1220,1127 1229,1128.3 1236.6,1126.5 1244,1127.7 1257.7,1135.5 1265,1132.6 1271,1128.5 1289,1130.7 1296.7,1121.3 1301,1119.8 1308.7,1124.3 1317.7,1122.8 1325,1123.2 1332.7,1119 1343,1116.4 1350.8,1119.7 1355,1116.2 1374.8,1115.7 1379,1118.1 1388,1118.3 1394,1116.1 1399.5,1115.2 1410,1117.5 1422.8,1122.7 1427.3,1112.2 1429.5,1099.3 1440,1076.3 1446.1,1068.5 1455,1034.4 1458,1028.3 1464.1,1026.6 1470,1024.4 1477.6,1022.1 1482,1017.7 1487,1018.3 1492,1023 1493,1023.5 1498.6,1022.1 1504.6,1019.1 1512,1023.5 1518,1017.8 1524.9,1007.9 1532.4,1006.4 1536,1017.2 1536.9,1017 1543.7,1011.6 1552.7,1002.6 1563.2,998.8 1571.4,997.4 1575,998.8 1581.2,995.1 1588,993.5 1594.7,978.6 1609.7,977.1 1618.7,970.4 1620,970.7 1629.2,956.9 1630.8,956.6 1638,958.7 1646.5,949.1 1656,950.3 1664,943.5 1665.3,940.8 1668,933.6 1672.9,916.6 1678.8,903.6 1685.3,874.2 1686,873.1 1694,867.7 1696.5,863.9 1704,850.9 1708.5,835.2 1712.3,831.4 1716.8,839.6 1723.5,827.7 1728,810.2 1730,820 1731.8,832.1 1736.3,827.6 1744.6,834.3 1749.1,830.6 1752.8,833.6 1756.6,820.8 1766,812.9 1775,811.2 1776.1,808.7 1779.1,799.1 1783,777 1784,773 1788.1,767.6 1791.9,769.8 1798.6,760.8 1809.1,718.9 1813.6,712.8 1826,716.4 1827.9,713.5 1830.2,708.9 1838,688.8 1845.2,696.2 1857.2,691.7 1863.2,696.1 1867.7,667.7 1870.7,663.2 1885.7,670.7 1890.2,651.2 1893.2,649.7 1899.2,651.2 1903,645.1 1904,616.8 1907.6,444.4 1909,443.1 1910.8,442.9 1913.8,439.8 1926.4,419.1 1930.2,413.8 1937.7,410.8 1945.2,402.5 1952.7,389 1960.2,380 1969.2,365 1973,348.5 1976,345.5 1982,345.5 1982,1283"/>
<path id="p9" d="M176,1283L176,1275.8 182,1275.8 200,1274.9 321,1272.4 324.6,1270.4 326,1270.1 330,1269.8 332,1270.7 367,1269 420,1271.4 455,1268.4 478,1265.7 530,1265.2 559.5,1262.7 562.5,1260.7 567.8,1255 575,1252.5 577.5,1243 580.5,1236.4 588,1225.5 592.6,1219.7 595.6,1213.9 597.8,1214.8 601.6,1221.1 606.1,1222 608,1217.5 610.6,1207.3 618.1,1197.3 633.1,1180.4 635,1180.2 636.8,1181.3 642.1,1174.9 645.1,1175.8 649.6,1169.1 654.1,1170 658.6,1162.5 661.6,1161.9 665.4,1152.4 672.1,1153.8 681.1,1150.9 691.7,1144.7 696.2,1146.6 705.2,1142.7 720.2,1138 723.2,1133.9 726.9,1140.1 739.7,1141.1 754.7,1139.4 762.2,1141.6 766.7,1138.4 771.2,1123.6 777.2,1123 786.2,1137.5 794,1139.5 795.3,1139.8 816.3,1131.2 825.3,1130.8 845,1139.5 846.3,1139 851,1134.6 857,1126.3 862,1122.2 868.8,1106.1 876.3,1112.6 880.8,1108.4 884,1110 887,1106.9 890,1103.1 894.3,1104.2 899,1113.8 900,1115.3 907.1,1120.3 913.1,1116.1 917,1115.1 926,1117 928.1,1120 935,1133.2 936.4,1132.7 943.9,1115.4 947,1120.5 950,1116.5 952,1112.3 953,1112.3 958.9,1114.5 964.1,1108 971.7,1104.5 982.2,1105.1 986.7,1108.4 991.2,1116 994,1102.2 994.9,1103.5 997.2,1110.5 1002.4,1116 1005.4,1114.8 1013.7,1119.7 1018.2,1115.5 1022.7,1104.5 1033.2,1099.9 1039.2,1101.7 1048.2,1100.6 1058.7,1106.5 1067.7,1104.2 1073.8,1106.4 1079.8,1110.8 1088.8,1113.7 1092.5,1110.7 1097.8,1115.2 1103.8,1113.7 1109,1114.3 1112,1116.1 1118,1106.6 1120.3,1105.2 1122,1107.9 1127.8,1111.1 1132.3,1100.5 1139,1089.9 1143.5,1094.9 1155.6,1085.3 1166.8,1087 1170.9,1079.9 1175,1086.8 1176.6,1087.5 1182.6,1089.8 1186.3,1082.7 1191.6,1092.1 1197.6,1094.1 1205,1092.5 1210.4,1096.9 1214,1092.6 1217.9,1085.9 1220,1085.1 1229,1088.5 1233.6,1082.9 1238,1081.8 1245.6,1085.4 1257.7,1095.6 1262.2,1092 1265,1091.3 1272.7,1082.3 1289,1085.5 1296.7,1070.6 1302.7,1070 1303.5,1070 1308.7,1077.5 1317.7,1075.4 1323.7,1077.7 1331,1073.5 1343,1068.3 1352,1070.5 1355,1067.2 1358,1067.6 1364,1069.3 1376,1069.7 1386.8,1073.7 1394,1069.6 1399.5,1068.9 1408.5,1072 1416,1078.7 1422.8,1083.9 1427.3,1084.3 1429.5,1058.1 1434.1,1039.9 1440,1030.1 1446.1,1025 1458,973.7 1461.8,975.2 1467.8,970 1477.6,970.4 1482,963.7 1488.9,960.8 1492,967.4 1493,968.6 1503.1,965.6 1512,973.4 1518,965.9 1524.1,953.6 1532.4,949.6 1536,960.7 1536.9,960.7 1543.7,956.5 1552.7,942.3 1560,939.2 1563.2,937.4 1570.7,935.5 1575,941.7 1575.9,941.7 1581.2,939.4 1588.7,939.7 1594.7,922.9 1602.2,922.4 1605,921.5 1614.2,919.7 1618.7,915.5 1623.2,908.2 1628,891.4 1629.2,890 1638,894.7 1642,890.1 1647.3,866.6 1653.3,866.6 1662,862.3 1669.8,848.4 1674.1,848.1 1675.8,845.9 1678.8,841.6 1684.5,807.5 1692,802.1 1696.5,805.4 1702.5,793.9 1707.8,776.3 1711.5,772.8 1716.8,783.7 1725,770.9 1728,751.6 1730,762.4 1731.8,776.6 1735.6,767.2 1744.6,767.8 1748,764.7 1749.1,766.4 1752.8,775.9 1756.6,760.5 1764.1,753.6 1770,749.6 1775,749 1776.1,749.4 1779.1,733.3 1785.1,716.6 1791,718.5 1799.4,712.2 1801.6,706.9 1804.6,697.2 1810.6,679.7 1815.1,671.8 1821.1,676 1827.9,687.3 1831.7,671 1838,651.7 1841,657.9 1842.2,659.1 1849.7,662.8 1857.2,661.9 1863.2,670 1867.7,639.5 1870.7,631.6 1881,639.9 1887.2,637.9 1890.2,623 1893.2,617.9 1897.7,620.3 1898.5,620.2 1906.7,481.5 1907.6,444.4 1909,440.5 1910,422.5 1910.8,422.8 1913.8,425.7 1924.7,401.6 1928.8,385 1935.3,383.4 1942.8,377.5 1948.8,369.7 1954.8,364.7 1960.2,355.2 1965.6,354.5 1970,349.5 1972.3,323.3 1973,323 1976,324.2 1982,324.2 1982,1283"/>
<path id="p10" d="M556,1283L556,1262.7 559.5,1262.4 562.5,1260.3 567.8,1254.6 575,1252.1 577.5,1242.5 580.5,1235.8 588,1225 592.6,1219 595.6,1213.2 597.8,1214.1 601.6,1220.4 606.1,1221.3 608,1216.7 610.6,1206.5 618.1,1196.4 633.1,1179.3 635,1179 636.8,1180 642.1,1173.4 645.1,1174.2 649.6,1167.3 654.1,1167.9 658.6,1160.3 661.6,1159.6 665.4,1149.9 672.1,1150.8 681.1,1147.3 691.7,1140.3 696.2,1141.9 705.2,1137.3 720.2,1131.6 723.2,1127.2 726.9,1133.2 739.7,1133.5 754.7,1131.6 762.2,1133.7 766.7,1130.4 771.2,1115.6 777.2,1114.9 786.2,1129.2 795.3,1131.4 816.3,1122.5 825.3,1121.9 845,1130.1 846.3,1129.5 851,1124.9 857,1116.3 862,1112 868.8,1095.6 876.3,1101.8 880.8,1097.4 884,1099.4 887,1096.7 890,1093.2 894.3,1094.7 899,1104.9 900,1106.5 907.1,1112.3 913.1,1108.7 917,1108.1 926,1111 928.1,1114.2 935,1128.2 936.4,1127.6 943.9,1110.2 947,1115.2 950,1111.1 952,1106.8 953,1106.8 958.9,1108.8 964.1,1102.1 971.7,1098.5 982.2,1099.4 986.7,1102.7 991.2,1110.4 994,1096.6 994.9,1098 997.2,1105.1 1002.4,1110.7 1005.4,1109.5 1013.7,1114.6 1018.2,1110.5 1022.7,1099.6 1033.2,1095.2 1039.2,1097.1 1048.2,1096.1 1058.7,1102 1067.7,1099.7 1073.8,1101.9 1079.8,1106.3 1088.8,1109.2 1092.5,1106.2 1097.8,1110.7 1103.8,1109.2 1109,1109.8 1112,1111.6 1118,1102.1 1120.3,1100.7 1122,1103.4 1127.8,1106.6 1132.3,1096 1139,1085.4 1143.5,1090.4 1155.6,1080.5 1166.8,1081.9 1170.9,1074.6 1175,1081.4 1176.6,1082.1 1182.6,1084.2 1186.3,1077 1191.6,1086.3 1197.6,1088.1 1205,1086.3 1210.4,1090.5 1214,1086.1 1217.9,1079.3 1220,1078.5 1229,1081.6 1233.6,1075.9 1238,1074.7 1245.6,1078 1257.7,1088.1 1262.2,1084.4 1265,1083.7 1272.7,1074.7 1289,1077.8 1296.7,1062.9 1302.7,1062.3 1303.5,1062.3 1308.7,1069.7 1317.7,1067.6 1323.7,1069.9 1331,1065.6 1343,1060.4 1352,1062.5 1355,1059.2 1358,1059.6 1364,1061.3 1376,1061.7 1386.8,1065.7 1394,1061.6 1399.5,1060.7 1408.5,1063.4 1416,1069.7 1422.8,1074.6 1427.3,1074.8 1429.5,1048.5 1434.1,1030 1440,1020 1446.1,1014.6 1458,962.7 1461.8,964.3 1467.8,959.1 1477.6,959.8 1482,953.1 1488.9,950.3 1492,957 1493,958.2 1503.1,955.4 1512,963.4 1518,955.4 1524.1,942.6 1524.9,942 1532.4,937.9 1536,948.7 1536.9,948.7 1543.7,943.9 1552.7,928.9 1563.2,923.5 1570.7,921.9 1575,928.2 1575.9,928.2 1581.2,926.1 1588.7,926.6 1594.7,910 1602.2,909.8 1614.2,907.4 1618.7,903.2 1623.2,896 1628,879.3 1629.2,877.9 1638,882.7 1642,878.1 1647.3,854.6 1653.3,854.6 1662,850.2 1669.8,836.3 1674.1,835.8 1678.8,829.3 1684.5,795.1 1692,789.6 1696.5,792.8 1702.5,781.3 1707.8,763.5 1711.5,760 1716.8,770.8 1725,757.9 1728,738.5 1730,749.3 1731.8,763.5 1735.6,754 1744.6,754.5 1748,751.3 1749.1,753 1752.8,762.5 1756.6,747 1764.1,740 1770,735.9 1775,735.3 1776.1,735.6 1779.1,719.5 1785.1,702.7 1791,704.5 1799.4,697.4 1801.6,691.8 1804.6,681.8 1810.6,663.7 1815.1,655.3 1818.9,657.6 1821.1,659.3 1827.9,670.8 1831.7,654.6 1838,635.5 1841,641.8 1842.2,643.1 1849.7,646.9 1857.2,645 1863.2,652.3 1867.7,621.2 1870.7,613 1881,619.9 1887.2,617.9 1890.2,603 1893.2,597.9 1894,598.1 1897.7,600.9 1898.5,600.9 1910,404.5 1910.8,404.7 1913.8,407.6 1924.7,383.3 1928.8,366.7 1935.3,365 1942.8,358.9 1948.8,351.1 1954.8,346 1960.2,336.5 1965.6,335.6 1970,330.5 1972.3,304.3 1973,304.1 1976,305.2 1982,305.2 1982,1283"/>
<path id="q10" d="M556,1263L556,1262.7 559.5,1262.4 562.5,1260.3 567.8,1254.6 575,1252.1 577.5,1242.5 580.5,1235.8 588,1225 592.6,1219 595.6,1213.2 597.8,1214.1 601.6,1220.4 606.1,1221.3 608,1216.7 610.6,1206.5 618.1,1196.4 633.1,1179.3 635,1179 636.8,1180 642.1,1173.4 645.1,1174.2 649.6,1167.3 654.1,1167.9 658.6,1160.3 661.6,1159.6 665.4,1149.9 672.1,1150.8 681.1,1147.3 691.7,1140.3 696.2,1141.9 705.2,1137.3 720.2,1131.6 723.2,1127.2 726.9,1133.2 739.7,1133.5 754.7,1131.6 762.2,1133.7 766.7,1130.4 771.2,1115.6 777.2,1114.9 786.2,1129.2 795.3,1131.4 816.3,1122.5 825.3,1121.9 845,1130.1 846.3,1129.5 851,1124.9 857,1116.3 862,1112 868.8,1095.6 876.3,1101.8 880.8,1097.4 884,1099.4 887,1096.7 890,1093.2 894.3,1094.7 899,1104.9 900,1106.5 907.1,1112.3 913.1,1108.7 917,1108.1 926,1111 928.1,1114.2 935,1128.2 936.4,1127.6 943.9,1110.2 947,1115.2 950,1111.1 952,1106.8 953,1106.8 958.9,1108.8 964.1,1102.1 971.7,1098.5 982.2,1099.4 986.7,1102.7 991.2,1110.4 994,1096.6 994.9,1098 997.2,1105.1 1002.4,1110.7 1005.4,1109.5 1013.7,1114.6 1018.2,1110.5 1022.7,1099.6 1033.2,1095.2 1039.2,1097.1 1048.2,1096.1 1058.7,1102 1067.7,1099.7 1073.8,1101.9 1079.8,1106.3 1088.8,1109.2 1092.5,1106.2 1097.8,1110.7 1103.8,1109.2 1109,1109.8 1112,1111.6 1118,1102.1 1120.3,1100.7 1122,1103.4 1127.8,1106.6 1132.3,1096 1139,1085.4 1143.5,1090.4 1155.6,1080.5 1166.8,1081.9 1170.9,1074.6 1175,1081.4 1176.6,1082.1 1182.6,1084.2 1186.3,1077 1191.6,1086.3 1197.6,1088.1 1205,1086.3 1210.4,1090.5 1214,1086.1 1217.9,1079.3 1220,1078.5 1229,1081.6 1233.6,1075.9 1238,1074.7 1245.6,1078 1257.7,1088.1 1262.2,1084.4 1265,1083.7 1272.7,1074.7 1289,1077.8 1296.7,1062.9 1302.7,1062.3 1303.5,1062.3 1308.7,1069.7 1317.7,1067.6 1323.7,1069.9 1331,1065.6 1343,1060.4 1352,1062.5 1355,1059.2 1358,1059.6 1364,1061.3 1376,1061.7 1386.8,1065.7 1394,1061.6 1399.5,1060.7 1408.5,1063.4 1416,1069.7 1422.8,1074.6 1427.3,1074.8 1429.5,1048.5 1434.1,1030 1440,1020 1446.1,1014.6 1458,962.7 1461.8,964.3 1467.8,959.1 1477.6,959.8 1482,953.1 1488.9,950.3 1492,957 1493,958.2 1503.1,955.4 1512,963.4 1518,955.4 1524.1,942.6 1524.9,942 1532.4,937.9 1536,948.7 1536.9,948.7 1543.7,943.9 1552.7,928.9 1563.2,923.5 1570.7,921.9 1575,928.2 1575.9,928.2 1581.2,926.1 1588.7,926.6 1594.7,910 1602.2,909.8 1614.2,907.4 1618.7,903.2 1623.2,896 1628,879.3 1629.2,877.9 1638,882.7 1642,878.1 1647.3,854.6 1653.3,854.6 1662,850.2 1669.8,836.3 1674.1,835.8 1678.8,829.3 1684.5,795.1 1692,789.6 1696.5,792.8 1702.5,781.3 1707.8,763.5 1711.5,760 1716.8,770.8 1725,757.9 1728,738.5 1730,749.3 1731.8,763.5 1735.6,754 1744.6,754.5 1748,751.3 1749.1,753 1752.8,762.5 1756.6,747 1764.1,740 1770,735.9 1775,735.3 1776.1,735.6 1779.1,719.5 1785.1,702.7 1791,704.5 1799.4,697.4 1801.6,691.8 1804.6,681.8 1810.6,663.7 1815.1,655.3 1818.9,657.6 1821.1,659.3 1827.9,670.8 1831.7,654.6 1838,635.5 1841,641.8 1842.2,643.1 1849.7,646.9 1857.2,645 1863.2,652.3 1867.7,621.2 1870.7,613 1881,619.9 1887.2,617.9 1890.2,603 1893.2,597.9 1894,598.1 1897.7,600.9 1898.5,600.9 1910,404.5 1910.8,404.7 1913.8,407.6 1924.7,383.3 1928.8,366.7 1935.3,365 1942.8,358.9 1948.8,351.1 1954.8,346 1960.2,336.5 1965.6,335.6 1970,330.5 1972.3,304.3 1973,304.1 1976,305.2 1982,305.2 1982,1283"/>
<path id="p11" d="M176,1283L176,1275.8 182,1275.8 200,1274.9 321,1272.3 324.6,1270.3 326,1270 330,1269.7 332,1270.6 367,1268.8 420,1271.2 455,1268.3 478,1265.5 530,1265 540,1264.3 559.5,1262.1 562.5,1260 567.8,1254.2 575,1251.6 577.5,1242 580.5,1235.3 588,1224.4 592.6,1218.4 595.6,1212.5 597.8,1213.5 601.6,1219.7 606.1,1220.5 608,1215.9 610.6,1205.7 618.1,1195.6 633.1,1178.3 635,1178 636.8,1179 642.1,1172.4 645.1,1173.2 649.6,1166.3 654.1,1166.9 658.6,1159.3 661.6,1158.6 665.4,1148.9 672.1,1149.8 681.1,1146.3 691.7,1139.3 696.2,1140.9 705.2,1136.3 720.2,1130.6 723.2,1126.2 726.9,1132.2 739.7,1132.5 754.7,1130.6 762.2,1132.7 766.7,1129.4 771.2,1114.6 773,1114.3 777.2,1113.9 786.2,1128.2 795.3,1130.4 816.3,1121.5 825.3,1120.9 845,1129.1 846.3,1128.5 851,1123.9 857,1115.3 862,1111 868.8,1094.6 876.3,1100.8 880.8,1096.4 884,1098.4 887,1095.7 890,1092.2 894.3,1093.7 899,1103.9 900,1105.5 907.1,1111.3 913.1,1107.7 917,1107.1 926,1110 928.1,1113.2 935,1127.2 936.4,1126.6 943.9,1109.2 947,1114.2 950,1110.1 952,1105.8 953,1105.8 958.9,1107.8 964.1,1101.1 971.7,1097.5 982.2,1098.4 986.7,1101.7 991.2,1109.4 994,1095.6 994.9,1097 997.2,1104.1 1002.4,1109.7 1005.4,1108.5 1013.7,1113.6 1018.2,1109.5 1022.7,1098.6 1033.2,1094.2 1039.2,1096.1 1048.2,1095.1 1058.7,1101 1067.7,1098.7 1073.8,1100.9 1079.8,1105.3 1088.8,1108.2 1092.5,1105.2 1097.8,1109.7 1103.8,1108.2 1109,1108.8 1112,1110.6 1118,1101 1120.3,1099.7 1122,1102.3 1127.8,1105.6 1132.3,1094.9 1139,1084.2 1143.5,1089.2 1155.6,1079.3 1166.8,1080.6 1170.9,1073.4 1175,1080.2 1176.6,1080.9 1182.6,1082.9 1186.3,1075.7 1191.6,1085 1197.6,1086.8 1205,1084.9 1210.4,1089.2 1214,1084.7 1217.9,1077.9 1220,1077.1 1229,1080.2 1233.6,1074.5 1238,1073.2 1245.6,1076.5 1257.7,1086.6 1262.2,1082.9 1265,1082.2 1272.7,1073.2 1289,1076.3 1296.7,1061.3 1302.7,1060.7 1303.5,1060.7 1308.7,1068.1 1317.7,1066 1323.7,1068.2 1331,1063.9 1343,1058.7 1352,1060.9 1355,1057.5 1358,1057.9 1364,1059.6 1376,1060 1386.8,1064 1394,1059.8 1399.5,1058.9 1408.5,1061.6 1416,1067.9 1422.8,1072.8 1427.3,1073 1429.5,1046.7 1434.1,1028.2 1440,1018.2 1446.1,1012.8 1458,960.8 1461.8,962.4 1467.8,957.3 1477.6,957.9 1482,951.2 1488.9,948.4 1492,955.1 1493,956.3 1503.1,953.5 1512,961.5 1518,953.5 1524.1,940.6 1524.9,940.1 1532.4,936 1536,946.7 1536.9,946.7 1543.7,941.9 1552.7,926.9 1563.2,921.5 1570.7,919.8 1575,926.1 1575.9,926.1 1581.2,924 1588.7,924.6 1594.7,907.9 1602.2,907.7 1614.2,905.2 1618.7,901.1 1623.2,893.9 1628,877.1 1629.2,875.8 1638,880.6 1642,875.9 1647.3,852.5 1653.3,852.4 1662,848 1669.8,834.1 1674.1,833.6 1678.8,827.1 1684.5,793 1692,787.4 1696.5,790.7 1702.5,779.1 1707.8,761.4 1711.5,757.9 1716.8,768.7 1725,755.8 1728,736.5 1730,747.2 1731.8,761.4 1735.6,751.9 1744.6,752.5 1748,749.3 1749.1,751 1752.8,760.5 1756.6,745 1764.1,738 1770,733.9 1776.1,733.1 1779.1,715.5 1785.1,695.2 1791,693 1799.4,685.9 1801.6,680.3 1804.6,670.3 1810.6,652.2 1815.1,643.8 1821.1,647.5 1827.9,658 1831.7,641.3 1838,621.3 1841,627.1 1842.2,628.2 1849.7,631.1 1857.2,628.6 1863.2,635.6 1867.7,604.1 1870.7,595.7 1881,601.9 1887.2,601.5 1890.2,587.4 1893.2,583 1897.7,585.7 1898.5,585.6 1910,388 1910.8,388.2 1913.8,391.1 1924.7,366.8 1928.8,350.2 1935.3,348.5 1942.8,342.4 1948.8,334.6 1954.8,329.5 1960.2,320 1965.6,319.1 1970,314 1972.3,287.8 1973,287.6 1976,288.7 1982,288.7 1982,1283"/>
<path id="p12" d="M176,1283L176,1275.8 182,1275.8 200,1274.8 321,1272.3 324.6,1270.2 326,1269.9 330,1269.6 332,1270.5 367,1268.8 420,1271.1 455,1268.2 478,1265.4 530,1264.9 540,1264.2 559.5,1261.8 562.5,1259.7 567.8,1253.8 575,1251.2 577.5,1241.6 580.5,1234.8 588,1223.8 592.6,1217.8 595.6,1211.9 597.8,1212.8 601.6,1218.9 606.1,1219.7 608,1215.2 610.6,1204.9 618.1,1194.7 633.1,1177.3 635,1177 636.8,1178 642.1,1171.4 645.1,1172.2 649.6,1165.3 654.1,1165.9 658.6,1158.3 661.6,1157.6 665.4,1147.9 672.1,1148.8 681.1,1145.3 691.7,1138.3 696.2,1139.9 705.2,1135.3 720.2,1129.6 723.2,1125.2 726.9,1131.2 739.7,1131.5 754.7,1129.6 762.2,1131.7 766.7,1128.4 771.2,1113.6 773,1113.3 777.2,1112.9 786.2,1127.2 795.3,1129.4 816.3,1120.5 825.3,1119.9 845,1128.1 846.3,1127.5 851,1122.9 857,1114.3 862,1110 868.8,1093.6 876.3,1099.8 880.8,1095.4 884,1097.4 887,1094.7 890,1091.2 894.3,1092.7 899,1102.9 900,1104.5 907.1,1110.3 913.1,1106.7 917,1106.1 926,1109 928.1,1112.2 935,1126.2 936.4,1125.6 943.9,1108.2 947,1113.2 950,1109.1 952,1104.8 953,1104.8 958.9,1106.8 964.1,1100.1 971.7,1096.5 982.2,1097.4 986.7,1100.7 991.2,1108.4 994,1094.6 994.9,1096 997.2,1103.1 1002.4,1108.7 1005.4,1107.5 1013.7,1112.6 1018.2,1108.5 1022.7,1097.6 1033.2,1093.2 1039.2,1095.1 1048.2,1094.1 1058.7,1100 1067.7,1097.7 1073.8,1099.9 1079.8,1104.3 1088.8,1107.2 1092.5,1104.2 1097.8,1108.7 1103.8,1107.2 1109,1107.8 1112,1109.6 1118,1100 1120.3,1098.7 1122,1101.3 1127.8,1104.6 1132.3,1093.9 1139,1083.2 1143.5,1088.2 1155.6,1078.3 1166.8,1079.6 1170.9,1072.4 1175,1079.2 1176.6,1079.9 1182.6,1081.9 1186.3,1074.7 1191.6,1084 1197.6,1085.8 1205,1083.9 1210.4,1088.2 1214,1083.7 1217.9,1076.9 1220,1076.1 1229,1079.2 1233.6,1073.5 1238,1072.2 1245.6,1075.5 1257.7,1085.6 1262.2,1081.9 1265,1081.2 1272.7,1072.2 1289,1075.2 1296.7,1060.3 1302.7,1059.6 1303.5,1059.6 1308.7,1067.1 1317.7,1064.9 1323.7,1067.1 1331,1062.8 1343,1057.6 1352,1059.7 1355,1056.4 1358,1056.8 1364,1058.4 1376,1058.8 1386.8,1062.8 1394,1058.6 1399.5,1057.7 1408.5,1060.3 1416,1066.6 1422.8,1071.5 1427.3,1071.6 1429.5,1045.3 1434.1,1026.8 1440,1016.8 1446.1,1011.3 1458,959.3 1461.8,960.9 1467.8,955.7 1477.6,956.3 1482,949.6 1488.9,946.7 1492,953.4 1493,954.6 1503.1,951.7 1512,959.6 1518,951.6 1524.1,938.6 1532.4,933.9 1536,944.7 1536.9,944.6 1543.7,939.8 1552.7,924.7 1563.2,919.3 1570.7,917.7 1575,924 1575.9,924 1581.2,921.9 1588.7,922.5 1594.7,905.9 1602.2,905.7 1614.2,902.9 1618.7,898.6 1623.2,891.3 1628,874.4 1629.2,873 1638,877.6 1642,872.9 1647.3,849.5 1653.3,849.4 1662,845 1669.8,830.9 1674.1,830.3 1678.8,823.7 1684.5,789.4 1692,783.7 1696.5,786.9 1702.5,775.2 1707.8,757.3 1711.5,753.7 1716.8,764.4 1725,751.3 1728,731.9 1730,742.6 1731.8,756.8 1735.6,747.2 1744.6,747.5 1748,744.3 1749.1,745.9 1752.8,755.4 1756.6,739.8 1764.1,732.6 1770,728.4 1776.1,727.4 1779.1,709.7 1785.1,689.4 1791,687 1799.4,679.6 1801.6,674 1804.6,663.8 1810.6,645.5 1815.1,637 1821.1,640.5 1827.9,651 1831.7,634.3 1838,614.3 1841,620.1 1842.2,621.2 1849.7,624 1857.2,621.3 1863.2,627.9 1867.7,596.3 1870.7,587.8 1881,593.5 1887.2,592.9 1890.2,578.7 1893.2,574.2 1897.7,576.7 1898.5,576.6 1910,376.8 1910.8,376.9 1913.8,379.5 1924.7,354.4 1928.8,337.5 1935.3,335.2 1942.8,328.6 1948.8,320.3 1954.8,314.7 1960.2,304.7 1965.6,303.5 1970,298 1972.3,271.6 1973,271.3 1976,272.2 1982,272.2 1982,1283"/>
<path id="p13" d="M556,1283L556,1261.9 559.5,1261.5 562.5,1259.3 567.8,1253.4 575,1250.7 577.5,1241 580.5,1234.2 588,1223.1 592.6,1217 595.6,1211.1 597.8,1212 601.6,1218.1 606.1,1218.8 608,1214.2 610.6,1204 618.1,1193.6 633.1,1176.1 635,1175.8 636.8,1176.8 642.1,1170.2 645.1,1171 649.6,1164.1 654.1,1164.7 658.6,1157.1 661.6,1156.4 665.4,1146.7 672.1,1147.6 681.1,1144.1 691.7,1137.1 696.2,1138.7 705.2,1134.1 720.2,1128.4 723.2,1124 726.9,1130 739.7,1130.3 754.7,1128.4 762.2,1130.5 766.7,1127.2 771.2,1112.4 777.2,1111.7 786.2,1126 795.3,1128.2 816.3,1119.3 825.3,1118.7 845,1126.9 846.3,1126.3 851,1121.7 857,1113.1 862,1108.8 868.8,1092.4 876.3,1098.6 880.8,1094.2 884,1096.2 887,1093.5 890,1090 894.3,1091.5 899,1101.7 900,1103.3 907.1,1109.1 913.1,1105.5 917,1104.9 926,1107.8 928.1,1111 935,1125 936.4,1124.4 943.9,1107 947,1112 950,1107.9 952,1103.6 953,1103.6 958.9,1105.6 964.1,1098.9 971.7,1095.3 982.2,1096.2 986.7,1099.5 991.2,1107.2 994,1093.4 994.9,1094.8 997.2,1101.9 1002.4,1107.5 1005.4,1106.3 1013.7,1111.4 1018.2,1107.3 1022.7,1096.4 1033.2,1092 1039.2,1093.9 1048.2,1092.9 1058.7,1098.8 1067.7,1096.5 1073.8,1098.7 1079.8,1103.1 1088.8,1106 1092.5,1103 1097.8,1107.5 1103.8,1106 1109,1106.6 1112,1108.4 1118,1098.8 1120.3,1097.5 1122,1100.1 1127.8,1103.4 1132.3,1092.7 1139,1082 1143.5,1087 1155.6,1077.1 1166.8,1078.4 1170.9,1071.2 1175,1078 1176.6,1078.7 1182.6,1080.7 1186.3,1073.5 1191.6,1082.8 1197.6,1084.6 1205,1082.7 1210.4,1087 1214,1082.5 1217.9,1075.7 1220,1074.9 1229,1078 1233.6,1072.3 1238,1071 1245.6,1074.3 1257.7,1084.4 1262.2,1080.7 1265,1080 1272.7,1071 1289,1074.1 1296.7,1059.1 1302.7,1058.5 1303.5,1058.5 1308.7,1065.9 1317.7,1063.8 1323.7,1066 1331,1061.7 1343,1056.5 1352,1058.7 1355,1055.3 1358,1055.7 1364,1057.4 1376,1057.8 1386.8,1061.8 1394,1057.6 1399.5,1056.7 1408.5,1059.2 1416,1065.5 1422.8,1070.3 1427.3,1070.4 1429.5,1044.1 1434.1,1025.5 1440,1015.4 1446.1,1009.9 1458,957.8 1461.8,959.2 1467.8,953.8 1477.6,953.9 1482,947.1 1488.9,943.9 1492,950.4 1493,951.6 1503.1,948.3 1512,955.8 1518,947.8 1524.1,934.9 1532.4,930.3 1536,941.1 1536.9,941 1543.7,936.2 1552.7,921.2 1563.2,915.8 1570.7,914.3 1575,920.7 1575.9,920.7 1581.2,918.6 1588.7,919.3 1594.7,902.8 1602.2,902.6 1614.2,899.9 1618.7,895.6 1623.2,888.3 1628,871.4 1629.2,870 1638,874.6 1642,869.9 1647.3,846.5 1653.3,846.4 1662,842 1669.8,827.8 1674.1,827.2 1678.8,820.6 1684.5,786.2 1692,780.5 1696.5,783.6 1702.5,771.8 1707.8,753.9 1711.5,750.4 1716.8,761 1725,747.8 1728,728.4 1730,739.1 1731.8,753.2 1735.6,743.6 1744.6,743.9 1748,740.6 1749.1,742.3 1752.8,751.6 1756.6,736 1764.1,728.8 1770,724.6 1776.1,723.5 1779.1,705.8 1785.1,685.4 1791,683 1799.4,675.8 1801.6,670.1 1804.6,660 1810.6,641.8 1815.1,633.4 1821.1,637 1827.9,647.6 1831.7,631 1838,611.1 1841,617 1842.2,618.1 1849.7,620.9 1857.2,617.3 1863.2,623.2 1867.7,591 1870.7,582 1881,586.5 1887.2,585.9 1890.2,571.7 1893.2,567.2 1897.7,569.7 1898.5,569.6 1910,370.2 1910.8,370.3 1913.8,372.8 1924.7,347.3 1928.8,330.2 1935.3,327.7 1942.8,320.8 1948.8,312.3 1954.8,306.5 1960.2,296.3 1965.6,294.8 1970,289.2 1972.3,262.7 1973,262.4 1976,263.2 1982,263.2 1982,1283"/>
<path id="q13" d="M556,1262.2L556,1261.9 559.5,1261.5 562.5,1259.3 567.8,1253.4 575,1250.7 577.5,1241 580.5,1234.2 588,1223.1 592.6,1217 595.6,1211.1 597.8,1212 601.6,1218.1 606.1,1218.8 608,1214.2 610.6,1204 618.1,1193.6 633.1,1176.1 635,1175.8 636.8,1176.8 642.1,1170.2 645.1,1171 649.6,1164.1 654.1,1164.7 658.6,1157.1 661.6,1156.4 665.4,1146.7 672.1,1147.6 681.1,1144.1 691.7,1137.1 696.2,1138.7 705.2,1134.1 720.2,1128.4 723.2,1124 726.9,1130 739.7,1130.3 754.7,1128.4 762.2,1130.5 766.7,1127.2 771.2,1112.4 777.2,1111.7 786.2,1126 795.3,1128.2 816.3,1119.3 825.3,1118.7 845,1126.9 846.3,1126.3 851,1121.7 857,1113.1 862,1108.8 868.8,1092.4 876.3,1098.6 880.8,1094.2 884,1096.2 887,1093.5 890,1090 894.3,1091.5 899,1101.7 900,1103.3 907.1,1109.1 913.1,1105.5 917,1104.9 926,1107.8 928.1,1111 935,1125 936.4,1124.4 943.9,1107 947,1112 950,1107.9 952,1103.6 953,1103.6 958.9,1105.6 964.1,1098.9 971.7,1095.3 982.2,1096.2 986.7,1099.5 991.2,1107.2 994,1093.4 994.9,1094.8 997.2,1101.9 1002.4,1107.5 1005.4,1106.3 1013.7,1111.4 1018.2,1107.3 1022.7,1096.4 1033.2,1092 1039.2,1093.9 1048.2,1092.9 1058.7,1098.8 1067.7,1096.5 1073.8,1098.7 1079.8,1103.1 1088.8,1106 1092.5,1103 1097.8,1107.5 1103.8,1106 1109,1106.6 1112,1108.4 1118,1098.8 1120.3,1097.5 1122,1100.1 1127.8,1103.4 1132.3,1092.7 1139,1082 1143.5,1087 1155.6,1077.1 1166.8,1078.4 1170.9,1071.2 1175,1078 1176.6,1078.7 1182.6,1080.7 1186.3,1073.5 1191.6,1082.8 1197.6,1084.6 1205,1082.7 1210.4,1087 1214,1082.5 1217.9,1075.7 1220,1074.9 1229,1078 1233.6,1072.3 1238,1071 1245.6,1074.3 1257.7,1084.4 1262.2,1080.7 1265,1080 1272.7,1071 1289,1074.1 1296.7,1059.1 1302.7,1058.5 1303.5,1058.5 1308.7,1065.9 1317.7,1063.8 1323.7,1066 1331,1061.7 1343,1056.5 1352,1058.7 1355,1055.3 1358,1055.7 1364,1057.4 1376,1057.8 1386.8,1061.8 1394,1057.6 1399.5,1056.7 1408.5,1059.2 1416,1065.5 1422.8,1070.3 1427.3,1070.4 1429.5,1044.1 1434.1,1025.5 1440,1015.4 1446.1,1009.9 1458,957.8 1461.8,959.2 1467.8,953.8 1477.6,953.9 1482,947.1 1488.9,943.9 1492,950.4 1493,951.6 1503.1,948.3 1512,955.8 1518,947.8 1524.1,934.9 1532.4,930.3 1536,941.1 1536.9,941 1543.7,936.2 1552.7,921.2 1563.2,915.8 1570.7,914.3 1575,920.7 1575.9,920.7 1581.2,918.6 1588.7,919.3 1594.7,902.8 1602.2,902.6 1614.2,899.9 1618.7,895.6 1623.2,888.3 1628,871.4 1629.2,870 1638,874.6 1642,869.9 1647.3,846.5 1653.3,846.4 1662,842 1669.8,827.8 1674.1,827.2 1678.8,820.6 1684.5,786.2 1692,780.5 1696.5,783.6 1702.5,771.8 1707.8,753.9 1711.5,750.4 1716.8,761 1725,747.8 1728,728.4 1730,739.1 1731.8,753.2 1735.6,743.6 1744.6,743.9 1748,740.6 1749.1,742.3 1752.8,751.6 1756.6,736 1764.1,728.8 1770,724.6 1776.1,723.5 1779.1,705.8 1785.1,685.4 1791,683 1799.4,675.8 1801.6,670.1 1804.6,660 1810.6,641.8 1815.1,633.4 1821.1,637 1827.9,647.6 1831.7,631 1838,611.1 1841,617 1842.2,618.1 1849.7,620.9 1857.2,617.3 1863.2,623.2 1867.7,591 1870.7,582 1881,586.5 1887.2,585.9 1890.2,571.7 1893.2,567.2 1897.7,569.7 1898.5,569.6 1910,370.2 1910.8,370.3 1913.8,372.8 1924.7,347.3 1928.8,330.2 1935.3,327.7 1942.8,320.8 1948.8,312.3 1954.8,306.5 1960.2,296.3 1965.6,294.8 1970,289.2 1972.3,262.7 1973,262.4 1976,263.2 1982,263.2 1982,1283"/>
<path id="p14" d="M324.6,1283L324.6,1270.1 330,1269 332,1269.6 367,1267.9 420,1270.1 455,1267.2 478,1264.4 530,1263.4 540,1262.6 559.5,1260.3 562.5,1258.1 567.8,1252.3 575,1249.7 577.5,1240 580.5,1233.3 588,1222.3 592.6,1216.3 595.6,1210.4 597.8,1211.3 601.6,1217.5 606.1,1218.3 608,1213.7 610.6,1203.5 618.1,1193.3 633.1,1175.9 635,1175.6 636.8,1176.6 642.1,1170 645.1,1170.8 649.6,1163.9 654.1,1164.5 658.6,1156.9 661.6,1156.2 665.4,1146.5 672.1,1147.4 681.1,1143.9 691.7,1136.9 696.2,1138.5 705.2,1133.9 720.2,1128.2 723.2,1123.8 726.9,1129.8 739.7,1130.1 754.7,1128.2 762.2,1130.3 766.7,1127 771.2,1112.2 773,1111.9 777.2,1111.5 786.2,1125.8 795.3,1128 816.3,1119.1 825.3,1118.5 845,1126.7 846.3,1126.1 851,1121.5 857,1112.9 862,1108.6 868.8,1092.2 876.3,1098.4 880.8,1094 884,1096 887,1093.3 890,1089.8 894.3,1091.3 899,1101.5 900,1103.1 907.1,1108.9 913.1,1105.3 917,1104.7 926,1107.6 928.1,1110.8 935,1124.8 936.4,1124.2 943.9,1106.8 947,1111.8 950,1107.7 952,1103.4 953,1103.4 958.9,1105.4 964.1,1098.7 971.7,1095.1 982.2,1096 986.7,1099.3 991.2,1107 994,1093.2 994.9,1094.6 997.2,1101.7 1002.4,1107.3 1005.4,1106.1 1013.7,1111.2 1018.2,1107.1 1022.7,1096.2 1033.2,1091.8 1039.2,1093.7 1048.2,1092.7 1058.7,1098.6 1067.7,1096.3 1073.8,1098.5 1079.8,1102.9 1088.8,1105.8 1092.5,1102.8 1097.8,1107.3 1103.8,1105.8 1109,1106.4 1112,1108.1 1118,1098.5 1120.3,1097.2 1122,1099.8 1127.8,1103 1132.3,1092.3 1139,1081.6 1143.5,1086.6 1155.6,1076.6 1166.8,1077.9 1170.9,1070.6 1175,1077.4 1176.6,1078.1 1182.6,1080.1 1186.3,1072.9 1191.6,1082.1 1197.6,1083.9 1205,1082 1210.4,1086.2 1214,1081.7 1217.9,1074.9 1220,1074.1 1229,1077.1 1233.6,1071.4 1238,1070.1 1245.6,1073.4 1257.7,1083.4 1262.2,1079.7 1265,1079 1272.7,1070 1289,1073.1 1296.7,1058.1 1302.7,1057.5 1303.5,1057.5 1308.7,1064.9 1317.7,1062.8 1323.7,1065 1331,1060.7 1343,1055.5 1352,1057.7 1355,1054.3 1358,1054.7 1364,1056.4 1376,1056.8 1386.8,1060.8 1394,1056.6 1399.5,1055.6 1408.5,1058.1 1416,1064.3 1422.8,1069 1427.3,1069.1 1429.5,1042.8 1434.1,1024.2 1440,1014 1446.1,1008.5 1458,956.3 1461.8,957.5 1467.8,951.7 1477.6,951.4 1482,944.2 1488.9,940.7 1492,947 1493,948.1 1503.1,944.2 1512,951.3 1518,943.2 1524.1,930.3 1532.4,925.6 1536,936.3 1536.9,936.2 1543.7,931.3 1552.7,916.2 1563.2,910.9 1570.7,909.5 1575,916 1575.9,916 1581.2,914.1 1588.7,914.9 1594.7,898.5 1602.2,898.6 1614.2,895.9 1618.7,891.6 1623.2,884.3 1628,867.4 1629.2,866 1638,870.4 1642,865.6 1647.3,842 1653.3,841.7 1662,836.9 1669.8,822.6 1674.1,822 1678.8,815.3 1684.5,780.9 1692,775 1696.5,778 1702.5,766.2 1707.8,748.2 1711.5,744.6 1716.8,755.1 1725,741.8 1728,722.4 1730,733 1731.8,747.1 1735.6,737.5 1744.6,737.6 1748,734.3 1749.1,735.9 1752.8,745.2 1756.6,729.6 1764.1,722.2 1770,717.9 1776.1,716.8 1779.1,699 1785.1,678.5 1791,676 1799.4,668.3 1801.6,662.6 1810.6,633.9 1815.1,625.2 1821.1,628.5 1827.9,638.9 1831.7,622.1 1838,602 1841,607.8 1842.2,608.9 1849.7,611.4 1857.2,607.8 1863.2,613.8 1867.7,581.7 1870.7,572.8 1881,577.3 1887.2,576.8 1890.2,562.6 1893.2,558.1 1897.7,560.7 1898.5,560.6 1910,361.3 1910.8,361.5 1913.8,364.1 1924.7,338.8 1928.8,321.8 1935.3,319.4 1942.8,312.6 1948.8,304.2 1954.8,298.6 1960.2,288.5 1965.6,287.1 1970,281.6 1972.3,255.2 1973,254.9 1976,255.7 1982,255.7 1982,1283"/>
<path id="p15" d="M556,1283L556,1260.5 559.5,1260.1 562.5,1258 567.8,1252.1 575,1249.5 577.5,1239.8 580.5,1233.1 588,1222.1 592.6,1216 595.6,1210.1 597.8,1211 601.6,1217.2 606.1,1218 608,1213.4 610.6,1203.1 618.1,1192.9 633.1,1175.5 635,1175.2 636.8,1176.2 642.1,1169.6 645.1,1170.4 649.6,1163.5 654.1,1164.1 658.6,1156.5 661.6,1155.8 665.4,1146.1 672.1,1147 681.1,1143.5 691.7,1136.5 696.2,1138.1 705.2,1133.5 720.2,1127.8 723.2,1123.4 726.9,1129.4 739.7,1129.7 754.7,1127.8 762.2,1129.9 766.7,1126.6 771.2,1111.8 777.2,1111.1 786.2,1125.4 795.3,1127.6 816.3,1118.7 825.3,1118.1 845,1126.3 846.3,1125.7 851,1121.1 857,1112.5 862,1108.2 868.8,1091.8 876.3,1098 880.8,1093.6 884,1095.6 887,1092.9 890,1089.4 894.3,1090.9 899,1101.1 900,1102.7 907.1,1108.5 913.1,1104.9 917,1104.3 926,1107.2 928.1,1110.4 935,1124.4 936.4,1123.8 943.9,1106.4 947,1111.4 950,1107.3 952,1103 953,1103 958.9,1105 964.1,1098.3 971.7,1094.7 982.2,1095.6 986.7,1098.9 991.2,1106.6 994,1092.8 994.9,1094.2 997.2,1101.3 1002.4,1106.9 1005.4,1105.7 1013.7,1110.8 1018.2,1106.7 1022.7,1095.8 1033.2,1091.4 1039.2,1093.3 1048.2,1092.3 1058.7,1098.2 1067.7,1095.9 1073.8,1098.1 1079.8,1102.5 1088.8,1105.4 1092.5,1102.4 1097.8,1106.9 1103.8,1105.4 1109,1105.9 1112,1107.6 1118,1098 1120.3,1096.7 1122,1099.3 1127.8,1102.5 1132.3,1091.8 1139,1081 1143.5,1086 1155.6,1075.9 1166.8,1077.1 1170.9,1069.8 1175,1076.6 1176.6,1077.2 1182.6,1079.3 1186.3,1072 1191.6,1081.2 1197.6,1082.9 1205,1081 1210.4,1085.2 1214,1080.7 1217.9,1073.8 1220,1073 1229,1076 1233.6,1070.2 1238,1068.9 1245.6,1072.2 1257.7,1082.2 1262.2,1078.5 1265,1077.8 1272.7,1068.8 1289,1071.9 1296.7,1056.9 1302.7,1056.3 1303.5,1056.3 1308.7,1063.7 1317.7,1061.6 1323.7,1063.8 1331,1059.5 1343,1054.3 1352,1056.5 1355,1053.1 1358,1053.5 1364,1055.2 1376,1055.6 1386.8,1059.6 1394,1055.4 1399.5,1054.4 1408.5,1056.9 1416,1063 1422.8,1067.7 1427.3,1067.8 1429.5,1041.4 1434.1,1022.8 1440,1012.6 1446.1,1007.1 1458,954.8 1461.8,956 1467.8,950.1 1477.6,949.6 1482,942.4 1488.9,938.8 1492,945.1 1493,946.2 1503.1,942.2 1512,949.1 1518,941 1524.1,928 1532.4,923.3 1536,934 1536.9,933.9 1543.7,929 1552.7,913.9 1563.2,908.5 1570.7,907.1 1575,913.6 1575.9,913.6 1581.2,911.7 1588.7,912.5 1594.7,896.1 1602.2,896.1 1614.2,893.4 1618.7,889.1 1623.2,881.7 1628,864.8 1629.2,863.4 1638,867.9 1642,863.1 1647.3,839.4 1653.3,839.1 1662,834.3 1669.8,820 1674.1,819.4 1678.8,812.6 1684.5,778.2 1692,772.3 1696.5,775.3 1702.5,763.5 1707.8,745.5 1711.5,741.8 1716.8,752.4 1725,739.1 1728,719.6 1730,730.3 1731.8,744.4 1735.6,734.7 1744.6,734.8 1748,731.5 1749.1,733.1 1752.8,742.4 1756.6,726.8 1764.1,719.4 1770,715 1776.1,713.9 1779.1,696.2 1785.1,675.6 1791,673.1 1799.4,665.4 1801.6,659.7 1810.6,630.9 1815.1,622.3 1821.1,625.6 1827.9,635.9 1831.7,619.2 1838,599 1841,604.8 1842.2,605.9 1849.7,608.4 1857.2,604.7 1863.2,610.6 1867.7,578.4 1870.7,569.4 1881,573.8 1887.2,573.2 1890.2,558.9 1893.2,554.4 1897.7,557 1898.5,556.8 1910,357.4 1910.8,357.5 1913.8,360 1924.7,334.6 1928.8,317.5 1935.3,315 1942.8,308.2 1948.8,299.7 1954.8,293.9 1960.2,283.7 1965.6,282.3 1970,276.7 1972.3,250.2 1973,249.9 1976,250.7 1982,250.7 1982,1283"/>
<path id="q15" d="M556,1260.6L556,1260.5 559.5,1260.1 562.5,1258 567.8,1252.1 575,1249.5 577.5,1239.8 580.5,1233.1 588,1222.1 592.6,1216 595.6,1210.1 597.8,1211 601.6,1217.2 606.1,1218 608,1213.4 610.6,1203.1 618.1,1192.9 633.1,1175.5 635,1175.2 636.8,1176.2 642.1,1169.6 645.1,1170.4 649.6,1163.5 654.1,1164.1 658.6,1156.5 661.6,1155.8 665.4,1146.1 672.1,1147 681.1,1143.5 691.7,1136.5 696.2,1138.1 705.2,1133.5 720.2,1127.8 723.2,1123.4 726.9,1129.4 739.7,1129.7 754.7,1127.8 762.2,1129.9 766.7,1126.6 771.2,1111.8 777.2,1111.1 786.2,1125.4 795.3,1127.6 816.3,1118.7 825.3,1118.1 845,1126.3 846.3,1125.7 851,1121.1 857,1112.5 862,1108.2 868.8,1091.8 876.3,1098 880.8,1093.6 884,1095.6 887,1092.9 890,1089.4 894.3,1090.9 899,1101.1 900,1102.7 907.1,1108.5 913.1,1104.9 917,1104.3 926,1107.2 928.1,1110.4 935,1124.4 936.4,1123.8 943.9,1106.4 947,1111.4 950,1107.3 952,1103 953,1103 958.9,1105 964.1,1098.3 971.7,1094.7 982.2,1095.6 986.7,1098.9 991.2,1106.6 994,1092.8 994.9,1094.2 997.2,1101.3 1002.4,1106.9 1005.4,1105.7 1013.7,1110.8 1018.2,1106.7 1022.7,1095.8 1033.2,1091.4 1039.2,1093.3 1048.2,1092.3 1058.7,1098.2 1067.7,1095.9 1073.8,1098.1 1079.8,1102.5 1088.8,1105.4 1092.5,1102.4 1097.8,1106.9 1103.8,1105.4 1109,1105.9 1112,1107.6 1118,1098 1120.3,1096.7 1122,1099.3 1127.8,1102.5 1132.3,1091.8 1139,1081 1143.5,1086 1155.6,1075.9 1166.8,1077.1 1170.9,1069.8 1175,1076.6 1176.6,1077.2 1182.6,1079.3 1186.3,1072 1191.6,1081.2 1197.6,1082.9 1205,1081 1210.4,1085.2 1214,1080.7 1217.9,1073.8 1220,1073 1229,1076 1233.6,1070.2 1238,1068.9 1245.6,1072.2 1257.7,1082.2 1262.2,1078.5 1265,1077.8 1272.7,1068.8 1289,1071.9 1296.7,1056.9 1302.7,1056.3 1303.5,1056.3 1308.7,1063.7 1317.7,1061.6 1323.7,1063.8 1331,1059.5 1343,1054.3 1352,1056.5 1355,1053.1 1358,1053.5 1364,1055.2 1376,1055.6 1386.8,1059.6 1394,1055.4 1399.5,1054.4 1408.5,1056.9 1416,1063 1422.8,1067.7 1427.3,1067.8 1429.5,1041.4 1434.1,1022.8 1440,1012.6 1446.1,1007.1 1458,954.8 1461.8,956 1467.8,950.1 1477.6,949.6 1482,942.4 1488.9,938.8 1492,945.1 1493,946.2 1503.1,942.2 1512,949.1 1518,941 1524.1,928 1532.4,923.3 1536,934 1536.9,933.9 1543.7,929 1552.7,913.9 1563.2,908.5 1570.7,907.1 1575,913.6 1575.9,913.6 1581.2,911.7 1588.7,912.5 1594.7,896.1 1602.2,896.1 1614.2,893.4 1618.7,889.1 1623.2,881.7 1628,864.8 1629.2,863.4 1638,867.9 1642,863.1 1647.3,839.4 1653.3,839.1 1662,834.3 1669.8,820 1674.1,819.4 1678.8,812.6 1684.5,778.2 1692,772.3 1696.5,775.3 1702.5,763.5 1707.8,745.5 1711.5,741.8 1716.8,752.4 1725,739.1 1728,719.6 1730,730.3 1731.8,744.4 1735.6,734.7 1744.6,734.8 1748,731.5 1749.1,733.1 1752.8,742.4 1756.6,726.8 1764.1,719.4 1770,715 1776.1,713.9 1779.1,696.2 1785.1,675.6 1791,673.1 1799.4,665.4 1801.6,659.7 1810.6,630.9 1815.1,622.3 1821.1,625.6 1827.9,635.9 1831.7,619.2 1838,599 1841,604.8 1842.2,605.9 1849.7,608.4 1857.2,604.7 1863.2,610.6 1867.7,578.4 1870.7,569.4 1881,573.8 1887.2,573.2 1890.2,558.9 1893.2,554.4 1897.7,557 1898.5,556.8 1910,357.4 1910.8,357.5 1913.8,360 1924.7,334.6 1928.8,317.5 1935.3,315 1942.8,308.2 1948.8,299.7 1954.8,293.9 1960.2,283.7 1965.6,282.3 1970,276.7 1972.3,250.2 1973,249.9 1976,250.7 1982,250.7 1982,1283"/>
<path id="p16" d="M556,1283L556,1260.2 559.5,1259.7 562.5,1257.5 567.8,1251.6 575,1248.8 577.5,1239.2 580.5,1232.4 588,1221.3 592.6,1215.2 595.6,1209.2 597.8,1210.1 601.6,1216.2 606.1,1216.9 608,1212.3 610.6,1202 618.1,1191.7 633.1,1174.1 635,1173.8 636.8,1174.7 642.1,1168.1 645.1,1168.9 649.6,1162 654.1,1162.7 658.6,1155 661.6,1154.3 665.4,1144.6 672.1,1145.4 681.1,1141.9 691.7,1134.9 696.2,1136.4 705.2,1131.8 720.2,1126.1 723.2,1121.7 726.9,1127.6 739.7,1127.9 754.7,1126 762.2,1128.1 766.7,1124.8 771.2,1110 777.2,1109.3 786.2,1123.6 795.3,1125.8 816.3,1116.9 825.3,1116.3 845,1124.5 846.3,1123.9 851,1119.3 857,1110.7 862,1106.4 868.8,1090 876.3,1096.2 880.8,1091.8 884,1093.8 887,1091.1 890,1087.6 894.3,1089.1 899,1099.3 900,1100.9 907.1,1106.7 913.1,1103.1 917,1102.5 926,1105.4 928.1,1108.6 935,1122.6 936.4,1122 943.9,1104.6 947,1109.6 950,1105.5 952,1101.2 953,1101.2 958.9,1103.2 964.1,1096.5 971.7,1092.9 982.2,1093.8 986.7,1097.1 991.2,1104.8 994,1091 994.9,1092.4 997.2,1099.5 1002.4,1105.1 1005.4,1103.9 1013.7,1109 1018.2,1104.9 1022.7,1094 1033.2,1089.6 1039.2,1091.5 1048.2,1090.5 1058.7,1096.4 1067.7,1094.1 1073.8,1096.3 1079.8,1100.7 1088.8,1103.6 1092.5,1100.6 1097.8,1105.1 1103.8,1103.6 1109,1104.1 1112,1105.8 1120.3,1092.4 1127.8,1096.5 1132.3,1085.8 1139,1075 1143.5,1080 1155.6,1069.5 1166.8,1070.3 1170.9,1062.8 1175,1069.5 1176.6,1070 1182.6,1071.8 1186.3,1064.4 1191.6,1073.4 1197.6,1074.9 1205,1072.7 1210.4,1076.7 1214,1072.1 1217.9,1065.1 1220,1064.2 1229,1066.8 1233.6,1060.9 1238,1059.4 1245.6,1062.4 1257.7,1072.3 1262.2,1068.7 1265,1068.1 1272.7,1059.2 1289,1062.6 1296.7,1047.8 1303.5,1047.3 1308.7,1054.9 1317.7,1052.9 1323.7,1055.2 1331,1051.1 1343,1046.1 1352,1048.4 1355,1045.1 1358,1045.5 1364,1047.2 1376,1047.6 1386.8,1051.6 1394,1047.4 1399.5,1046.4 1408.5,1048.9 1416,1055 1422.8,1059.7 1427.3,1059.8 1429.5,1033.4 1434.1,1014.8 1440,1004.6 1446.1,999.7 1458,948.8 1461.8,950.1 1467.8,944.3 1477.6,944 1482,936.9 1488.9,933.4 1492,939.7 1493,940.8 1503.1,937 1512,944.1 1518,936.1 1524.1,923.2 1532.4,918.5 1536,929.3 1536.9,929.2 1543.7,924.3 1552.7,909.3 1563.2,904 1570.7,902.6 1575,909.1 1575.9,909.1 1581.2,907.2 1588.7,908 1594.7,891.6 1602.2,891.6 1614.2,888.6 1618.7,884.1 1623.2,876.6 1628,859.6 1629.2,858.1 1638,862.3 1642,857.4 1647.3,833.6 1653.3,833.2 1662,828.3 1669.8,813.9 1674.1,813.2 1678.8,806.5 1684.5,772 1692,766.1 1696.5,769.1 1702.5,757.2 1707.8,739.1 1711.5,735.5 1716.8,746 1725,732.6 1728,713.1 1730,723.7 1731.8,737.8 1735.6,728.1 1744.6,728.2 1748,724.8 1749.1,726.4 1752.8,735.7 1756.6,720 1764.1,712.6 1770,708.2 1776.1,707 1779.1,689.3 1785.1,668.7 1791,666.1 1799.4,658.4 1801.6,652.7 1810.6,623.9 1815.1,615.3 1821.1,618.6 1827.9,628.9 1831.7,612.2 1838,592 1841,597.8 1842.2,598.9 1849.7,601.4 1857.2,597.8 1863.2,603.7 1867.7,571.5 1870.7,562.6 1881,567.1 1887.2,566.5 1890.2,552.3 1893.2,547.8 1897.7,550.3 1898.5,550.2 1910,350.9 1910.8,351 1913.8,353.6 1924.7,328.2 1928.8,311.1 1935.3,308.7 1942.8,301.9 1948.8,293.5 1954.8,287.8 1960.2,277.6 1965.6,276.2 1970,270.7 1972.3,244.2 1973,243.9 1976,244.7 1982,244.7 1982,1283"/>
<path id="q16" d="M556,1260.5L556,1260.2 559.5,1259.7 562.5,1257.5 567.8,1251.6 575,1248.8 577.5,1239.2 580.5,1232.4 588,1221.3 592.6,1215.2 595.6,1209.2 597.8,1210.1 601.6,1216.2 606.1,1216.9 608,1212.3 610.6,1202 618.1,1191.7 633.1,1174.1 635,1173.8 636.8,1174.7 642.1,1168.1 645.1,1168.9 649.6,1162 654.1,1162.7 658.6,1155 661.6,1154.3 665.4,1144.6 672.1,1145.4 681.1,1141.9 691.7,1134.9 696.2,1136.4 705.2,1131.8 720.2,1126.1 723.2,1121.7 726.9,1127.6 739.7,1127.9 754.7,1126 762.2,1128.1 766.7,1124.8 771.2,1110 777.2,1109.3 786.2,1123.6 795.3,1125.8 816.3,1116.9 825.3,1116.3 845,1124.5 846.3,1123.9 851,1119.3 857,1110.7 862,1106.4 868.8,1090 876.3,1096.2 880.8,1091.8 884,1093.8 887,1091.1 890,1087.6 894.3,1089.1 899,1099.3 900,1100.9 907.1,1106.7 913.1,1103.1 917,1102.5 926,1105.4 928.1,1108.6 935,1122.6 936.4,1122 943.9,1104.6 947,1109.6 950,1105.5 952,1101.2 953,1101.2 958.9,1103.2 964.1,1096.5 971.7,1092.9 982.2,1093.8 986.7,1097.1 991.2,1104.8 994,1091 994.9,1092.4 997.2,1099.5 1002.4,1105.1 1005.4,1103.9 1013.7,1109 1018.2,1104.9 1022.7,1094 1033.2,1089.6 1039.2,1091.5 1048.2,1090.5 1058.7,1096.4 1067.7,1094.1 1073.8,1096.3 1079.8,1100.7 1088.8,1103.6 1092.5,1100.6 1097.8,1105.1 1103.8,1103.6 1109,1104.1 1112,1105.8 1120.3,1092.4 1127.8,1096.5 1132.3,1085.8 1139,1075 1143.5,1080 1155.6,1069.5 1166.8,1070.3 1170.9,1062.8 1175,1069.5 1176.6,1070 1182.6,1071.8 1186.3,1064.4 1191.6,1073.4 1197.6,1074.9 1205,1072.7 1210.4,1076.7 1214,1072.1 1217.9,1065.1 1220,1064.2 1229,1066.8 1233.6,1060.9 1238,1059.4 1245.6,1062.4 1257.7,1072.3 1262.2,1068.7 1265,1068.1 1272.7,1059.2 1289,1062.6 1296.7,1047.8 1303.5,1047.3 1308.7,1054.9 1317.7,1052.9 1323.7,1055.2 1331,1051.1 1343,1046.1 1352,1048.4 1355,1045.1 1358,1045.5 1364,1047.2 1376,1047.6 1386.8,1051.6 1394,1047.4 1399.5,1046.4 1408.5,1048.9 1416,1055 1422.8,1059.7 1427.3,1059.8 1429.5,1033.4 1434.1,1014.8 1440,1004.6 1446.1,999.7 1458,948.8 1461.8,950.1 1467.8,944.3 1477.6,944 1482,936.9 1488.9,933.4 1492,939.7 1493,940.8 1503.1,937 1512,944.1 1518,936.1 1524.1,923.2 1532.4,918.5 1536,929.3 1536.9,929.2 1543.7,924.3 1552.7,909.3 1563.2,904 1570.7,902.6 1575,909.1 1575.9,909.1 1581.2,907.2 1588.7,908 1594.7,891.6 1602.2,891.6 1614.2,888.6 1618.7,884.1 1623.2,876.6 1628,859.6 1629.2,858.1 1638,862.3 1642,857.4 1647.3,833.6 1653.3,833.2 1662,828.3 1669.8,813.9 1674.1,813.2 1678.8,806.5 1684.5,772 1692,766.1 1696.5,769.1 1702.5,757.2 1707.8,739.1 1711.5,735.5 1716.8,746 1725,732.6 1728,713.1 1730,723.7 1731.8,737.8 1735.6,728.1 1744.6,728.2 1748,724.8 1749.1,726.4 1752.8,735.7 1756.6,720 1764.1,712.6 1770,708.2 1776.1,707 1779.1,689.3 1785.1,668.7 1791,666.1 1799.4,658.4 1801.6,652.7 1810.6,623.9 1815.1,615.3 1821.1,618.6 1827.9,628.9 1831.7,612.2 1838,592 1841,597.8 1842.2,598.9 1849.7,601.4 1857.2,597.8 1863.2,603.7 1867.7,571.5 1870.7,562.6 1881,567.1 1887.2,566.5 1890.2,552.3 1893.2,547.8 1897.7,550.3 1898.5,550.2 1910,350.9 1910.8,351 1913.8,353.6 1924.7,328.2 1928.8,311.1 1935.3,308.7 1942.8,301.9 1948.8,293.5 1954.8,287.8 1960.2,277.6 1965.6,276.2 1970,270.7 1972.3,244.2 1973,243.9 1976,244.7 1982,244.7 1982,1283"/>
<path id="p17" d="M556,1283L556,1260 559.5,1259.6 562.5,1257.4 567.8,1251.5 575,1248.7 577.5,1239 580.5,1232.3 588,1221.1 592.6,1215 595.6,1209.1 597.8,1209.9 601.6,1216 606.1,1216.7 608,1212.1 610.6,1201.8 618.1,1191.5 633.1,1173.9 635,1173.6 636.8,1174.5 642.1,1167.9 645.1,1168.7 649.6,1161.8 654.1,1162.5 658.6,1154.8 661.6,1154.1 665.4,1144.4 672.1,1145.2 681.1,1141.7 691.7,1134.7 696.2,1136.2 705.2,1131.6 720.2,1125.9 723.2,1121.5 726.9,1127.4 739.7,1127.7 754.7,1125.8 762.2,1127.9 766.7,1124.6 771.2,1109.8 777.2,1109.1 786.2,1123.4 795.3,1125.6 816.3,1116.7 825.3,1116.1 845,1124.3 846.3,1123.7 851,1119.1 857,1110.5 862,1106.2 868.8,1089.8 876.3,1096 880.8,1091.6 884,1093.6 887,1090.9 890,1087.4 894.3,1088.9 899,1099.1 900,1100.7 907.1,1106.5 913.1,1102.9 917,1102.3 926,1105.2 928.1,1108.4 935,1122.4 936.4,1121.8 943.9,1104.4 947,1109.4 950,1105.3 952,1101 953,1101 958.9,1103 964.1,1096.3 971.7,1092.7 982.2,1093.6 986.7,1096.9 991.2,1104.6 994,1090.8 994.9,1092.2 997.2,1099.3 1002.4,1104.9 1005.4,1103.7 1013.7,1108.8 1018.2,1104.7 1022.7,1093.8 1033.2,1089.4 1039.2,1091.3 1048.2,1090.3 1058.7,1096.2 1067.7,1093.9 1073.8,1096.1 1079.8,1100.5 1088.8,1103.4 1092.5,1100.4 1097.8,1104.9 1103.8,1103.4 1109,1103.8 1112,1105.5 1120.3,1092.1 1127.8,1096.1 1132.3,1085.4 1139,1074.6 1143.5,1079.5 1155.6,1069 1166.8,1069.7 1170.9,1062.3 1175,1068.9 1176.6,1069.4 1182.6,1071.2 1186.3,1063.8 1191.6,1072.7 1197.6,1074.2 1205,1072 1210.4,1075.9 1214,1071.2 1217.9,1064.2 1220,1063.3 1229,1065.9 1233.6,1060 1238,1058.5 1245.6,1061.4 1257.7,1071.3 1262.2,1067.7 1265,1067.1 1272.7,1058.3 1289,1061.6 1296.7,1046.9 1303.5,1046.4 1308.7,1053.9 1317.7,1051.9 1323.7,1054.3 1331,1050.2 1343,1045.2 1352,1047.5 1355,1044.2 1358,1044.7 1364,1046.3 1376,1046.7 1386.8,1050.7 1394,1046.6 1399.5,1045.6 1408.5,1048 1416,1054.2 1422.8,1058.9 1427.3,1059 1429.5,1032.6 1434.1,1014 1440,1003.8 1446.1,999 1458,948.3 1461.8,949.6 1467.8,944 1477.6,943.7 1482,936.6 1488.9,933.1 1492,939.4 1493,940.5 1503.1,936.7 1512,943.8 1518,935.8 1524.1,922.9 1532.4,918.2 1536,929 1536.9,928.9 1543.7,924 1552.7,909 1563.2,903.7 1570.7,902.3 1575,908.8 1575.9,908.8 1581.2,906.9 1588.7,907.7 1594.7,891.3 1602.2,891.3 1614.2,888.3 1618.7,883.8 1623.2,876.3 1628,859.3 1629.2,857.8 1638,862 1642,857.1 1647.3,833.3 1653.3,832.9 1662,828 1669.8,813.5 1674.1,812.8 1678.8,806 1684.5,771.4 1692,765.4 1696.5,768.4 1702.5,756.4 1707.8,738.3 1711.5,734.6 1716.8,745.1 1725,731.6 1728,712.1 1730,722.7 1731.8,736.8 1735.6,727 1744.6,727 1748,723.5 1749.1,725.2 1752.8,734.4 1756.6,718.7 1764.1,711.2 1770,706.7 1776.1,705.5 1779.1,687.7 1785.1,667 1791,664.4 1799.4,656.6 1801.6,650.9 1810.6,622 1815.1,613.3 1821.1,616.6 1827.9,626.9 1831.7,610.2 1838,590 1841,595.8 1842.2,596.9 1849.7,599.4 1857.2,595.6 1863.2,601.4 1867.7,569.2 1870.7,560.2 1881,564.5 1887.2,563.7 1890.2,549.5 1893.2,544.9 1897.7,547.4 1898.5,547.2 1910,345.8 1910.8,345.9 1913.8,348.3 1924.7,322.5 1928.8,305.3 1935.3,302.7 1942.8,295.6 1948.8,286.9 1954.8,281 1960.2,270.7 1965.6,269.1 1970,263.4 1972.3,236.8 1973,236.5 1976,237.2 1982,237.2 1982,1283"/>
<path id="q17" d="M556,1260.2L556,1260 559.5,1259.6 562.5,1257.4 567.8,1251.5 575,1248.7 577.5,1239 580.5,1232.3 588,1221.1 592.6,1215 595.6,1209.1 597.8,1209.9 601.6,1216 606.1,1216.7 608,1212.1 610.6,1201.8 618.1,1191.5 633.1,1173.9 635,1173.6 636.8,1174.5 642.1,1167.9 645.1,1168.7 649.6,1161.8 654.1,1162.5 658.6,1154.8 661.6,1154.1 665.4,1144.4 672.1,1145.2 681.1,1141.7 691.7,1134.7 696.2,1136.2 705.2,1131.6 720.2,1125.9 723.2,1121.5 726.9,1127.4 739.7,1127.7 754.7,1125.8 762.2,1127.9 766.7,1124.6 771.2,1109.8 777.2,1109.1 786.2,1123.4 795.3,1125.6 816.3,1116.7 825.3,1116.1 845,1124.3 846.3,1123.7 851,1119.1 857,1110.5 862,1106.2 868.8,1089.8 876.3,1096 880.8,1091.6 884,1093.6 887,1090.9 890,1087.4 894.3,1088.9 899,1099.1 900,1100.7 907.1,1106.5 913.1,1102.9 917,1102.3 926,1105.2 928.1,1108.4 935,1122.4 936.4,1121.8 943.9,1104.4 947,1109.4 950,1105.3 952,1101 953,1101 958.9,1103 964.1,1096.3 971.7,1092.7 982.2,1093.6 986.7,1096.9 991.2,1104.6 994,1090.8 994.9,1092.2 997.2,1099.3 1002.4,1104.9 1005.4,1103.7 1013.7,1108.8 1018.2,1104.7 1022.7,1093.8 1033.2,1089.4 1039.2,1091.3 1048.2,1090.3 1058.7,1096.2 1067.7,1093.9 1073.8,1096.1 1079.8,1100.5 1088.8,1103.4 1092.5,1100.4 1097.8,1104.9 1103.8,1103.4 1109,1103.8 1112,1105.5 1120.3,1092.1 1127.8,1096.1 1132.3,1085.4 1139,1074.6 1143.5,1079.5 1155.6,1069 1166.8,1069.7 1170.9,1062.3 1175,1068.9 1176.6,1069.4 1182.6,1071.2 1186.3,1063.8 1191.6,1072.7 1197.6,1074.2 1205,1072 1210.4,1075.9 1214,1071.2 1217.9,1064.2 1220,1063.3 1229,1065.9 1233.6,1060 1238,1058.5 1245.6,1061.4 1257.7,1071.3 1262.2,1067.7 1265,1067.1 1272.7,1058.3 1289,1061.6 1296.7,1046.9 1303.5,1046.4 1308.7,1053.9 1317.7,1051.9 1323.7,1054.3 1331,1050.2 1343,1045.2 1352,1047.5 1355,1044.2 1358,1044.7 1364,1046.3 1376,1046.7 1386.8,1050.7 1394,1046.6 1399.5,1045.6 1408.5,1048 1416,1054.2 1422.8,1058.9 1427.3,1059 1429.5,1032.6 1434.1,1014 1440,1003.8 1446.1,999 1458,948.3 1461.8,949.6 1467.8,944 1477.6,943.7 1482,936.6 1488.9,933.1 1492,939.4 1493,940.5 1503.1,936.7 1512,943.8 1518,935.8 1524.1,922.9 1532.4,918.2 1536,929 1536.9,928.9 1543.7,924 1552.7,909 1563.2,903.7 1570.7,902.3 1575,908.8 1575.9,908.8 1581.2,906.9 1588.7,907.7 1594.7,891.3 1602.2,891.3 1614.2,888.3 1618.7,883.8 1623.2,876.3 1628,859.3 1629.2,857.8 1638,862 1642,857.1 1647.3,833.3 1653.3,832.9 1662,828 1669.8,813.5 1674.1,812.8 1678.8,806 1684.5,771.4 1692,765.4 1696.5,768.4 1702.5,756.4 1707.8,738.3 1711.5,734.6 1716.8,745.1 1725,731.6 1728,712.1 1730,722.7 1731.8,736.8 1735.6,727 1744.6,727 1748,723.5 1749.1,725.2 1752.8,734.4 1756.6,718.7 1764.1,711.2 1770,706.7 1776.1,705.5 1779.1,687.7 1785.1,667 1791,664.4 1799.4,656.6 1801.6,650.9 1810.6,622 1815.1,613.3 1821.1,616.6 1827.9,626.9 1831.7,610.2 1838,590 1841,595.8 1842.2,596.9 1849.7,599.4 1857.2,595.6 1863.2,601.4 1867.7,569.2 1870.7,560.2 1881,564.5 1887.2,563.7 1890.2,549.5 1893.2,544.9 1897.7,547.4 1898.5,547.2 1910,345.8 1910.8,345.9 1913.8,348.3 1924.7,322.5 1928.8,305.3 1935.3,302.7 1942.8,295.6 1948.8,286.9 1954.8,281 1960.2,270.7 1965.6,269.1 1970,263.4 1972.3,236.8 1973,236.5 1976,237.2 1982,237.2 1982,1283"/>
<path id="p18" d="M556,1283L556,1259.9 559.5,1259.5 562.5,1257.3 567.8,1251.3 575,1248.6 577.5,1238.9 580.5,1232.1 588,1221 592.6,1214.9 595.6,1208.9 597.8,1209.8 601.6,1215.8 606.1,1216.6 608,1212 610.6,1201.7 618.1,1191.3 633.1,1173.7 635,1173.4 636.8,1174.3 642.1,1167.7 645.1,1168.5 649.6,1161.6 654.1,1162.3 658.6,1154.6 661.6,1153.9 665.4,1144.2 672.1,1145 681.1,1141.5 691.7,1134.5 696.2,1136 705.2,1131.4 720.2,1125.7 723.2,1121.3 726.9,1127.2 739.7,1127.5 754.7,1125.6 762.2,1127.7 766.7,1124.4 771.2,1109.6 777.2,1108.9 786.2,1123.2 795.3,1125.4 816.3,1116.5 825.3,1115.9 845,1124.1 846.3,1123.5 851,1118.9 857,1110.3 862,1106 868.8,1089.6 876.3,1095.8 880.8,1091.4 884,1093.4 887,1090.7 890,1087.2 894.3,1088.7 899,1098.9 900,1100.5 907.1,1106.3 913.1,1102.7 917,1102.1 926,1105 928.1,1108.2 935,1122.2 936.4,1121.6 943.9,1104.2 947,1109.2 950,1105.1 952,1100.8 953,1100.8 958.9,1102.8 964.1,1096.1 971.7,1092.5 982.2,1093.4 986.7,1096.7 991.2,1104.4 994,1090.6 994.9,1092 997.2,1099.1 1002.4,1104.7 1005.4,1103.5 1013.7,1108.6 1018.2,1104.5 1022.7,1093.6 1033.2,1089.2 1039.2,1091.1 1048.2,1090.1 1058.7,1096 1067.7,1093.7 1073.8,1095.9 1079.8,1100.3 1088.8,1103.2 1092.5,1100.2 1097.8,1104.7 1103.8,1103.1 1109,1103.6 1112,1105.2 1120.3,1091.7 1127.8,1095.8 1132.3,1085 1139,1074.2 1143.5,1079.1 1155.6,1068.5 1166.8,1069.2 1170.9,1061.7 1175,1068.3 1176.6,1068.8 1182.6,1070.5 1186.3,1063.1 1191.6,1072 1197.6,1073.5 1205,1071.2 1210.4,1075.1 1214,1070.4 1217.9,1063.4 1220,1062.5 1229,1065 1233.6,1059 1238,1057.5 1245.6,1060.4 1257.7,1070.3 1262.2,1066.7 1265,1066 1272.7,1057.2 1289,1060.5 1296.7,1045.7 1303.5,1045.2 1308.7,1052.7 1317.7,1050.7 1323.7,1053.1 1331,1048.9 1343,1043.9 1352,1046.2 1355,1042.9 1358,1043.3 1364,1044.9 1376,1045.3 1386.8,1049.2 1394,1045.1 1399.5,1044.1 1408.5,1046.5 1416,1052.6 1422.8,1057.3 1427.3,1057.3 1429.5,1031 1434.1,1012.4 1440,1002.2 1446.1,997.4 1458,946.6 1461.8,947.9 1467.8,942.2 1477.6,941.9 1482,934.8 1488.9,931.2 1492,937.6 1493,938.7 1503.1,934.8 1512,941.9 1518,933.9 1524.1,920.9 1532.4,916.2 1536,927 1536.9,926.9 1543.7,922 1552.7,907 1563.2,901.7 1570.7,900.2 1575,906.7 1575.9,906.7 1581.2,904.8 1588.7,905.5 1594.7,889.1 1602.2,889.1 1614.2,886.1 1618.7,881.6 1623.2,874.1 1628,857 1629.2,855.5 1638,859.7 1642,854.8 1647.3,831 1653.3,830.5 1662,825.6 1669.8,811.1 1674.1,810.4 1678.8,803.6 1684.5,769 1692,762.9 1696.5,765.9 1702.5,753.9 1707.8,735.8 1711.5,732.1 1716.8,742.5 1725,729 1728,709.5 1730,720.1 1731.8,734.2 1735.6,724.4 1744.6,724.3 1748,720.9 1749.1,722.5 1752.8,731.7 1756.6,716 1764.1,708.5 1770,704 1776.1,702.7 1779.1,684.9 1785.1,664.2 1791,661.6 1799.4,653.8 1801.6,648.1 1810.6,619.2 1815.1,610.4 1821.1,613.6 1827.9,624 1831.7,607.2 1838,587 1841,592.8 1842.2,593.9 1849.7,596.4 1857.2,592.6 1863.2,598.4 1867.7,566.2 1870.7,557.2 1881,561.5 1887.2,560.7 1890.2,546.5 1893.2,541.9 1897.7,544.4 1898.5,544.2 1910,340.7 1910.8,340.8 1913.8,343.3 1924.7,317.4 1928.8,300.2 1935.3,297.5 1942.8,290.3 1948.8,281.6 1954.8,275.7 1960.2,265.3 1965.6,263.7 1970,257.9 1972.3,231.4 1973,231 1976,231.7 1982,231.7 1982,1283"/>
<path id="q18" d="M556,1260L556,1259.9 559.5,1259.5 562.5,1257.3 567.8,1251.3 575,1248.6 577.5,1238.9 580.5,1232.1 588,1221 592.6,1214.9 595.6,1208.9 597.8,1209.8 601.6,1215.8 606.1,1216.6 608,1212 610.6,1201.7 618.1,1191.3 633.1,1173.7 635,1173.4 636.8,1174.3 642.1,1167.7 645.1,1168.5 649.6,1161.6 654.1,1162.3 658.6,1154.6 661.6,1153.9 665.4,1144.2 672.1,1145 681.1,1141.5 691.7,1134.5 696.2,1136 705.2,1131.4 720.2,1125.7 723.2,1121.3 726.9,1127.2 739.7,1127.5 754.7,1125.6 762.2,1127.7 766.7,1124.4 771.2,1109.6 777.2,1108.9 786.2,1123.2 795.3,1125.4 816.3,1116.5 825.3,1115.9 845,1124.1 846.3,1123.5 851,1118.9 857,1110.3 862,1106 868.8,1089.6 876.3,1095.8 880.8,1091.4 884,1093.4 887,1090.7 890,1087.2 894.3,1088.7 899,1098.9 900,1100.5 907.1,1106.3 913.1,1102.7 917,1102.1 926,1105 928.1,1108.2 935,1122.2 936.4,1121.6 943.9,1104.2 947,1109.2 950,1105.1 952,1100.8 953,1100.8 958.9,1102.8 964.1,1096.1 971.7,1092.5 982.2,1093.4 986.7,1096.7 991.2,1104.4 994,1090.6 994.9,1092 997.2,1099.1 1002.4,1104.7 1005.4,1103.5 1013.7,1108.6 1018.2,1104.5 1022.7,1093.6 1033.2,1089.2 1039.2,1091.1 1048.2,1090.1 1058.7,1096 1067.7,1093.7 1073.8,1095.9 1079.8,1100.3 1088.8,1103.2 1092.5,1100.2 1097.8,1104.7 1103.8,1103.1 1109,1103.6 1112,1105.2 1120.3,1091.7 1127.8,1095.8 1132.3,1085 1139,1074.2 1143.5,1079.1 1155.6,1068.5 1166.8,1069.2 1170.9,1061.7 1175,1068.3 1176.6,1068.8 1182.6,1070.5 1186.3,1063.1 1191.6,1072 1197.6,1073.5 1205,1071.2 1210.4,1075.1 1214,1070.4 1217.9,1063.4 1220,1062.5 1229,1065 1233.6,1059 1238,1057.5 1245.6,1060.4 1257.7,1070.3 1262.2,1066.7 1265,1066 1272.7,1057.2 1289,1060.5 1296.7,1045.7 1303.5,1045.2 1308.7,1052.7 1317.7,1050.7 1323.7,1053.1 1331,1048.9 1343,1043.9 1352,1046.2 1355,1042.9 1358,1043.3 1364,1044.9 1376,1045.3 1386.8,1049.2 1394,1045.1 1399.5,1044.1 1408.5,1046.5 1416,1052.6 1422.8,1057.3 1427.3,1057.3 1429.5,1031 1434.1,1012.4 1440,1002.2 1446.1,997.4 1458,946.6 1461.8,947.9 1467.8,942.2 1477.6,941.9 1482,934.8 1488.9,931.2 1492,937.6 1493,938.7 1503.1,934.8 1512,941.9 1518,933.9 1524.1,920.9 1532.4,916.2 1536,927 1536.9,926.9 1543.7,922 1552.7,907 1563.2,901.7 1570.7,900.2 1575,906.7 1575.9,906.7 1581.2,904.8 1588.7,905.5 1594.7,889.1 1602.2,889.1 1614.2,886.1 1618.7,881.6 1623.2,874.1 1628,857 1629.2,855.5 1638,859.7 1642,854.8 1647.3,831 1653.3,830.5 1662,825.6 1669.8,811.1 1674.1,810.4 1678.8,803.6 1684.5,769 1692,762.9 1696.5,765.9 1702.5,753.9 1707.8,735.8 1711.5,732.1 1716.8,742.5 1725,729 1728,709.5 1730,720.1 1731.8,734.2 1735.6,724.4 1744.6,724.3 1748,720.9 1749.1,722.5 1752.8,731.7 1756.6,716 1764.1,708.5 1770,704 1776.1,702.7 1779.1,684.9 1785.1,664.2 1791,661.6 1799.4,653.8 1801.6,648.1 1810.6,619.2 1815.1,610.4 1821.1,613.6 1827.9,624 1831.7,607.2 1838,587 1841,592.8 1842.2,593.9 1849.7,596.4 1857.2,592.6 1863.2,598.4 1867.7,566.2 1870.7,557.2 1881,561.5 1887.2,560.7 1890.2,546.5 1893.2,541.9 1897.7,544.4 1898.5,544.2 1910,340.7 1910.8,340.8 1913.8,343.3 1924.7,317.4 1928.8,300.2 1935.3,297.5 1942.8,290.3 1948.8,281.6 1954.8,275.7 1960.2,265.3 1965.6,263.7 1970,257.9 1972.3,231.4 1973,231 1976,231.7 1982,231.7 1982,1283"/>
<path id="p19" d="M324.6,1283L324.6,1269.8 330,1267.6 332,1267.8 367,1265.9 420,1267.9 455,1264.8 478,1261.9 530,1259.3 559.5,1256.1 562.5,1254 567.8,1248.2 575,1245.7 577.5,1236.1 580.5,1229.4 588,1218.4 592.6,1212.5 595.6,1206.6 597.8,1207.6 601.6,1213.8 606.1,1214.6 608,1210.1 610.6,1199.9 618.1,1189.7 633.1,1172.5 635,1172.2 636.8,1173.1 642.1,1166.5 645.1,1167.3 649.6,1160.3 654.1,1161 658.6,1153.3 661.6,1152.6 665.4,1142.9 672.1,1143.7 681.1,1140.1 691.7,1133.1 696.2,1134.7 705.2,1130 720.2,1124.2 723.2,1119.8 726.9,1125.8 739.7,1126 754.7,1124.1 762.2,1126.2 766.7,1122.9 771.2,1108.1 773,1107.8 777.2,1107.4 786.2,1121.7 795.3,1123.9 816.3,1115 825.3,1114.4 845,1122.6 846.3,1122 851,1117.4 857,1108.8 862,1104.5 868.8,1088.1 876.3,1094.3 880.8,1089.9 884,1091.9 887,1089.2 890,1085.7 894.3,1087.2 899,1097.4 900,1099 907.1,1104.8 913.1,1101.2 917,1100.6 926,1103.5 928.1,1106.7 935,1120.7 936.4,1120.1 943.9,1102.7 947,1107.7 950,1103.6 952,1099.3 953,1099.3 958.9,1101.3 964.1,1094.6 971.7,1091 982.2,1091.9 986.7,1095.2 991.2,1102.9 994,1089.1 994.9,1090.5 997.2,1097.6 1002.4,1103.2 1005.4,1102 1013.7,1107.1 1018.2,1103 1022.7,1092.1 1033.2,1087.7 1039.2,1089.6 1048.2,1088.6 1058.7,1094.5 1067.7,1092.2 1073.8,1094.4 1079.8,1098.8 1088.8,1101.7 1092.5,1098.7 1097.8,1103.2 1103.8,1101.6 1109,1102.1 1112,1103.7 1120.3,1090.2 1127.8,1094.3 1132.3,1083.5 1139,1072.7 1143.5,1077.6 1155.6,1067 1166.8,1067.7 1170.9,1060.2 1175,1066.8 1176.6,1067.3 1182.6,1069 1186.3,1061.6 1191.6,1070.5 1197.6,1072 1205,1069.7 1210.4,1073.6 1214,1068.9 1217.9,1061.9 1220,1061 1229,1063.5 1233.6,1057.5 1238,1056 1245.6,1058.9 1257.7,1068.8 1262.2,1065.2 1265,1064.5 1272.7,1055.7 1289,1059 1296.7,1044.2 1303.5,1043.7 1308.7,1051.2 1317.7,1049.2 1323.7,1051.6 1331,1047.4 1343,1042.4 1352,1044.7 1355,1041.4 1358,1041.8 1364,1043.4 1376,1043.8 1386.8,1047.7 1394,1043.6 1399.5,1042.5 1408.5,1044.8 1416,1050.9 1422.8,1055.5 1427.3,1055.5 1429.5,1029.1 1434.1,1010.5 1440,1000.2 1446.1,995.3 1458,944.4 1461.8,945.7 1467.8,940 1477.6,939.6 1482,932.4 1488.9,928.9 1492,935.2 1493,936.3 1503.1,932.4 1512,939.4 1518,931.3 1524.1,918.4 1532.4,913.6 1536,924.4 1536.9,924.3 1543.7,919.4 1552.7,904.3 1563.2,898.9 1570.7,897.4 1575,903.8 1575.9,903.9 1581.2,901.9 1588.7,902.6 1594.7,886.2 1602.2,886.1 1614.2,883.2 1618.7,878.8 1623.2,871.3 1628,854.3 1629.2,852.9 1638,857.1 1642,852.3 1647.3,828.6 1653.3,828.2 1662,823.3 1669.8,808.8 1674.1,808.1 1678.8,801.3 1684.5,766.7 1692,760.6 1696.5,763.6 1702.5,751.6 1707.8,733.5 1711.5,729.8 1716.8,740.2 1725,726.7 1728,707.2 1730,717.8 1731.8,731.9 1735.6,722.1 1744.6,722 1748,718.6 1749.1,720.2 1752.8,729.4 1756.6,713.7 1764.1,706.2 1770,701.7 1776.1,700.4 1779.1,682.6 1785.1,661.9 1791,659.3 1799.4,651.5 1801.6,645.8 1810.6,616.9 1815.1,608.1 1821.1,611.3 1827.9,621.7 1831.7,604.9 1838,584.7 1841,590.5 1842.2,591.6 1849.7,594.1 1857.2,590.3 1863.2,596.1 1867.7,563.9 1870.7,554.9 1881,559.2 1887.2,558.4 1890.2,544.2 1893.2,539.6 1897.7,542.1 1898.5,541.9 1910,338.4 1910.8,338.5 1913.8,341 1924.7,315.1 1928.8,297.9 1935.3,295.2 1942.8,288 1948.8,279.3 1954.8,273.4 1960.2,263 1965.6,261.4 1970,255.6 1972.3,229.1 1973,228.7 1976,229.4 1982,229.4 1982,1283"/>
<path id="p20" d="M324.6,1283L324.6,1269.7 330,1267 367,1265 420,1267 455,1263.8 478,1260.9 530,1257.6 559.5,1254.4 562.5,1252.3 567.8,1246.5 575,1244 577.5,1234.4 580.5,1227.7 588,1216.8 592.6,1210.9 595.6,1205 597.8,1206 601.6,1212.2 606.1,1213 608,1208.5 610.6,1198.3 618.1,1188.2 633.1,1171 635,1170.7 636.8,1171.6 642.1,1165 645.1,1165.7 649.6,1158.8 654.1,1159.4 658.6,1151.7 661.6,1151 665.4,1141.3 672.1,1142.1 681.1,1138.5 691.7,1131.4 696.2,1133 705.2,1128.3 720.2,1122.4 723.2,1118 726.9,1124 739.7,1124.1 754.7,1121.9 762.2,1123.8 766.7,1120.4 771.2,1105.5 773,1105.1 777.2,1104.6 786.2,1118.8 795.3,1120.8 816.3,1111.4 825.3,1110.6 845,1118.5 846.3,1117.9 851,1113.2 857,1104.6 862,1100.2 868.8,1083.7 876.3,1089.8 880.8,1085.4 884,1087.4 887,1084.7 890,1081.1 894.3,1082.6 899,1092.8 900,1094.3 907.1,1100.1 913.1,1096.5 917,1095.9 926,1098.8 928.1,1102 935,1115.9 936.4,1115.3 943.9,1097.8 947,1102.8 950,1098.7 952,1094.4 953,1094.4 958.9,1096.3 964.1,1089.7 971.7,1085.9 982.2,1085.9 986.7,1088.9 991.2,1096.2 994,1082.2 994.9,1083.5 997.2,1090.4 1002.4,1095.6 1005.4,1094.1 1013.7,1098.6 1018.2,1094.1 1022.7,1082.9 1033.2,1077.6 1039.2,1079.1 1048.2,1077.6 1058.7,1083.6 1067.7,1081.4 1073.8,1083.6 1079.8,1088.1 1088.8,1091.1 1092.5,1088.1 1097.8,1092.6 1103.8,1091.1 1109,1091.6 1112,1093.2 1120.3,1079.8 1127.8,1084.2 1132.3,1073.8 1139,1063.4 1143.5,1068.5 1155.6,1058.1 1166.8,1058.9 1170.9,1051.4 1175,1058 1176.6,1058.6 1182.6,1060.4 1186.3,1053 1191.6,1062 1197.6,1063.5 1205,1061.3 1210.4,1065.3 1214,1060.6 1217.9,1053.6 1220,1052.7 1229,1055.3 1233.6,1049.4 1238,1047.9 1245.6,1050.9 1257.7,1060.8 1262.2,1057.2 1265,1056.6 1272.7,1047.8 1289,1051.2 1296.7,1036.4 1303.5,1035.9 1308.7,1043.5 1317.7,1041.5 1323.7,1043.9 1331,1039.8 1343,1034.8 1352,1037.1 1355,1033.9 1358,1034.2 1364,1035.6 1376,1035.5 1386.8,1039.1 1394,1034.6 1399.5,1033.5 1408.5,1035.8 1416,1041.9 1422.8,1046.5 1427.3,1046.5 1429.5,1020.1 1434.1,1001.5 1440,991.2 1446.1,986.3 1458,935.4 1461.8,936.6 1467.8,930.7 1477.6,930 1482,922.8 1488.9,919 1492,925.3 1493,926.3 1503.1,922.1 1512,928.9 1518,921 1524.1,908.3 1524.9,907.8 1532.4,903.8 1536,914.6 1536.9,914.6 1543.7,909.9 1552.7,895 1563.2,889.9 1570.7,888.4 1575,894.8 1575.9,894.9 1581.2,892.9 1588.7,893.6 1594.7,877.2 1602.2,877.1 1614.2,873.9 1618.7,869.3 1623.2,861.7 1628,844.5 1629.2,843 1638,846.9 1642,841.7 1647.3,817.5 1653.3,816.6 1662,811.3 1669.8,796.9 1674.1,796.2 1678.8,789.4 1684.5,754.9 1692,748.9 1696.5,751.9 1702.5,740 1707.8,721.9 1711.5,718.2 1716.8,728.7 1725,715.3 1728,695.8 1730,706.4 1731.8,720.5 1735.6,710.8 1744.6,710.8 1748,707.4 1749.1,709 1752.8,718.3 1756.6,702.6 1764.1,695.1 1770,690.7 1776.1,690.3 1779.1,672.9 1785.1,653.1 1791,651.3 1799.4,642.9 1801.6,637 1810.6,607.5 1815.1,598.4 1818.9,600 1821.1,601.4 1827.9,612 1831.7,595.4 1838,575.4 1841,581.3 1842.2,582.4 1849.7,585.1 1857.2,581.5 1863.2,587.4 1867.7,555.2 1870.7,546.3 1881,550.8 1887.2,550.2 1890.2,536 1893.2,531.5 1897.7,534 1898.5,533.9 1910,329.5 1910.8,329.6 1913.8,332.1 1924.7,306.4 1928.8,289.2 1935.3,286.6 1942.8,279.6 1948.8,270.9 1954.8,265.1 1960.2,254.8 1965.6,253.2 1970,247.5 1972.3,221 1973,220.7 1976,221.4 1982,221.4 1982,1283"/>
<path id="p21" d="M556,1283L556,1254.3 559.5,1253.9 562.5,1251.8 567.8,1245.9 575,1243.3 577.5,1233.7 580.5,1226.9 588,1215.9 592.6,1209.9 595.6,1204 597.8,1204.9 601.6,1211 606.1,1211.8 608,1207.3 610.6,1197 618.1,1186.8 633.1,1169.3 635,1169 636.8,1169.9 642.1,1163.2 645.1,1163.9 649.6,1156.9 654.1,1157.5 658.6,1149.7 661.6,1148.9 665.4,1139.2 672.1,1139.9 681.1,1136.2 691.7,1129 696.2,1130.4 705.2,1125.6 720.2,1119.6 723.2,1115.2 726.9,1121.1 739.7,1121.1 754.7,1118.9 762.2,1120.8 766.7,1117.4 771.2,1102.5 777.2,1101.6 786.2,1115.8 795.3,1117.8 816.3,1108.4 825.3,1107.6 845,1115.5 846.3,1114.9 851,1110.2 857,1101.6 862,1097.2 868.8,1080.7 876.3,1086.8 880.8,1082.4 884,1084.4 887,1081.7 890,1078.1 894.3,1079.6 899,1089.8 900,1091.3 907.1,1097.1 913.1,1093.5 917,1092.9 926,1095.8 928.1,1099 935,1112.9 936.4,1112.3 943.9,1094.8 947,1099.8 950,1095.7 952,1091.4 953,1091.4 958.9,1093.3 964.1,1086.7 971.7,1082.9 982.2,1082.9 986.7,1085.9 991.2,1093.2 994,1079.2 994.9,1080.5 997.2,1087.4 1002.4,1092.6 1005.4,1091.1 1013.7,1095.6 1018.2,1091.1 1022.7,1079.9 1033.2,1074.6 1039.2,1076.1 1048.2,1074.6 1058.7,1080.6 1067.7,1078.4 1073.8,1080.6 1079.8,1085.1 1088.8,1088.1 1092.5,1085.1 1097.8,1089.6 1103.8,1088.1 1109,1088.6 1112,1090.2 1120.3,1076.8 1127.8,1081.2 1132.3,1070.8 1139,1060.4 1143.5,1065.5 1155.6,1055.1 1166.8,1055.9 1170.9,1048.4 1175,1055 1176.6,1055.6 1182.6,1057.4 1186.3,1050 1191.6,1059 1197.6,1060.5 1205,1058.3 1210.4,1062.3 1214,1057.6 1217.9,1050.6 1220,1049.7 1229,1052.3 1233.6,1046.4 1238,1044.9 1245.6,1047.9 1257.7,1057.8 1262.2,1054.2 1265,1053.6 1272.7,1044.8 1289,1048.2 1296.7,1033.4 1303.5,1032.9 1308.7,1040.5 1317.7,1038.5 1323.7,1040.9 1331,1036.8 1343,1031.8 1352,1034.1 1355,1030.9 1358,1031.2 1364,1032.6 1376,1032.5 1386.8,1036.1 1394,1031.6 1399.5,1030.4 1408.5,1032.5 1416,1038.4 1422.8,1042.8 1427.3,1042.7 1429.5,1016.3 1434.1,997.5 1440,987.1 1446.1,982.1 1458,930.9 1461.8,932 1467.8,926.1 1477.6,925.4 1482,918.1 1488.9,914.2 1492,920.5 1493,921.5 1503.1,917.2 1512,923.9 1518,916 1524.1,903.2 1524.9,902.7 1532.4,898.6 1536,909.4 1536.9,909.4 1543.7,904.6 1552.7,889.7 1563.2,884.5 1570.7,883 1575,889.4 1575.9,889.5 1581.2,887.5 1588.7,888.2 1594.7,871.8 1602.2,871.7 1614.2,868.6 1618.7,864.1 1623.2,856.6 1628,839.5 1629.2,838 1638,842 1642,836.9 1647.3,812.8 1653.3,812 1662,806.8 1669.8,792.5 1674.1,791.8 1678.8,785.1 1684.5,750.7 1692,744.7 1696.5,747.8 1702.5,735.9 1707.8,717.9 1711.5,714.2 1716.8,724.7 1725,711.4 1728,691.9 1730,702.6 1731.8,716.7 1735.6,707 1744.6,707 1748,703.7 1749.1,705.3 1752.8,714.6 1756.6,698.9 1764.1,691.5 1770,687.2 1776.1,686.1 1779.1,668.3 1785.1,647.8 1791,645.3 1799.4,637.7 1801.6,631.9 1810.6,603.2 1815.1,594.6 1821.1,597.9 1827.9,608.5 1831.7,591.9 1838,571.9 1841,577.8 1842.2,578.9 1849.7,581.6 1857.2,578 1863.2,583.9 1867.7,551.7 1870.7,542.8 1881,547.3 1887.2,546.7 1890.2,532.5 1893.2,528 1897.7,530.5 1898.5,530.4 1910,325.8 1910.8,325.9 1913.8,328.3 1924.7,302.4 1928.8,285.1 1935.3,282.4 1942.8,275.2 1948.8,266.5 1954.8,260.5 1960.2,250.1 1965.6,248.4 1970,242.7 1972.3,216.1 1973,215.7 1976,216.4 1982,216.4 1982,1283"/>
<path id="q21" d="M556,1254.7L556,1254.3 559.5,1253.9 562.5,1251.8 567.8,1245.9 575,1243.3 577.5,1233.7 580.5,1226.9 588,1215.9 592.6,1209.9 595.6,1204 597.8,1204.9 601.6,1211 606.1,1211.8 608,1207.3 610.6,1197 618.1,1186.8 633.1,1169.3 635,1169 636.8,1169.9 642.1,1163.2 645.1,1163.9 649.6,1156.9 654.1,1157.5 658.6,1149.7 661.6,1148.9 665.4,1139.2 672.1,1139.9 681.1,1136.2 691.7,1129 696.2,1130.4 705.2,1125.6 720.2,1119.6 723.2,1115.2 726.9,1121.1 739.7,1121.1 754.7,1118.9 762.2,1120.8 766.7,1117.4 771.2,1102.5 777.2,1101.6 786.2,1115.8 795.3,1117.8 816.3,1108.4 825.3,1107.6 845,1115.5 846.3,1114.9 851,1110.2 857,1101.6 862,1097.2 868.8,1080.7 876.3,1086.8 880.8,1082.4 884,1084.4 887,1081.7 890,1078.1 894.3,1079.6 899,1089.8 900,1091.3 907.1,1097.1 913.1,1093.5 917,1092.9 926,1095.8 928.1,1099 935,1112.9 936.4,1112.3 943.9,1094.8 947,1099.8 950,1095.7 952,1091.4 953,1091.4 958.9,1093.3 964.1,1086.7 971.7,1082.9 982.2,1082.9 986.7,1085.9 991.2,1093.2 994,1079.2 994.9,1080.5 997.2,1087.4 1002.4,1092.6 1005.4,1091.1 1013.7,1095.6 1018.2,1091.1 1022.7,1079.9 1033.2,1074.6 1039.2,1076.1 1048.2,1074.6 1058.7,1080.6 1067.7,1078.4 1073.8,1080.6 1079.8,1085.1 1088.8,1088.1 1092.5,1085.1 1097.8,1089.6 1103.8,1088.1 1109,1088.6 1112,1090.2 1120.3,1076.8 1127.8,1081.2 1132.3,1070.8 1139,1060.4 1143.5,1065.5 1155.6,1055.1 1166.8,1055.9 1170.9,1048.4 1175,1055 1176.6,1055.6 1182.6,1057.4 1186.3,1050 1191.6,1059 1197.6,1060.5 1205,1058.3 1210.4,1062.3 1214,1057.6 1217.9,1050.6 1220,1049.7 1229,1052.3 1233.6,1046.4 1238,1044.9 1245.6,1047.9 1257.7,1057.8 1262.2,1054.2 1265,1053.6 1272.7,1044.8 1289,1048.2 1296.7,1033.4 1303.5,1032.9 1308.7,1040.5 1317.7,1038.5 1323.7,1040.9 1331,1036.8 1343,1031.8 1352,1034.1 1355,1030.9 1358,1031.2 1364,1032.6 1376,1032.5 1386.8,1036.1 1394,1031.6 1399.5,1030.4 1408.5,1032.5 1416,1038.4 1422.8,1042.8 1427.3,1042.7 1429.5,1016.3 1434.1,997.5 1440,987.1 1446.1,982.1 1458,930.9 1461.8,932 1467.8,926.1 1477.6,925.4 1482,918.1 1488.9,914.2 1492,920.5 1493,921.5 1503.1,917.2 1512,923.9 1518,916 1524.1,903.2 1524.9,902.7 1532.4,898.6 1536,909.4 1536.9,909.4 1543.7,904.6 1552.7,889.7 1563.2,884.5 1570.7,883 1575,889.4 1575.9,889.5 1581.2,887.5 1588.7,888.2 1594.7,871.8 1602.2,871.7 1614.2,868.6 1618.7,864.1 1623.2,856.6 1628,839.5 1629.2,838 1638,842 1642,836.9 1647.3,812.8 1653.3,812 1662,806.8 1669.8,792.5 1674.1,791.8 1678.8,785.1 1684.5,750.7 1692,744.7 1696.5,747.8 1702.5,735.9 1707.8,717.9 1711.5,714.2 1716.8,724.7 1725,711.4 1728,691.9 1730,702.6 1731.8,716.7 1735.6,707 1744.6,707 1748,703.7 1749.1,705.3 1752.8,714.6 1756.6,698.9 1764.1,691.5 1770,687.2 1776.1,686.1 1779.1,668.3 1785.1,647.8 1791,645.3 1799.4,637.7 1801.6,631.9 1810.6,603.2 1815.1,594.6 1821.1,597.9 1827.9,608.5 1831.7,591.9 1838,571.9 1841,577.8 1842.2,578.9 1849.7,581.6 1857.2,578 1863.2,583.9 1867.7,551.7 1870.7,542.8 1881,547.3 1887.2,546.7 1890.2,532.5 1893.2,528 1897.7,530.5 1898.5,530.4 1910,325.8 1910.8,325.9 1913.8,328.3 1924.7,302.4 1928.8,285.1 1935.3,282.4 1942.8,275.2 1948.8,266.5 1954.8,260.5 1960.2,250.1 1965.6,248.4 1970,242.7 1972.3,216.1 1973,215.7 1976,216.4 1982,216.4 1982,1283"/>
<path id="p22" d="M556,1283L556,1254 559.5,1253.6 562.5,1251.4 567.8,1245.5 575,1242.8 577.5,1233.1 580.5,1226.3 588,1215.2 592.6,1209.1 595.6,1203.2 597.8,1204.1 601.6,1210.2 606.1,1210.9 608,1206.3 610.6,1196.1 618.1,1185.7 633.1,1168.1 635,1167.8 636.8,1168.7 642.1,1162 645.1,1162.7 649.6,1155.7 654.1,1156.3 658.6,1148.5 661.6,1147.7 665.4,1138 672.1,1138.7 681.1,1135 691.7,1127.8 696.2,1129.2 705.2,1124.4 720.2,1118.4 723.2,1114 726.9,1119.9 739.7,1119.9 754.7,1117.7 762.2,1119.6 766.7,1116.2 771.2,1101.3 777.2,1100.4 786.2,1114.6 795.3,1116.6 816.3,1107.2 825.3,1106.4 845,1114.3 846.3,1113.7 851,1109 857,1100.4 862,1096 868.8,1079.5 876.3,1085.6 880.8,1081.2 884,1083.2 887,1080.5 890,1076.9 894.3,1078.4 899,1088.6 900,1090.1 907.1,1095.9 913.1,1092.3 917,1091.7 926,1094.6 928.1,1097.8 935,1111.7 936.4,1111.1 943.9,1093.6 947,1098.6 950,1094.5 952,1090.2 953,1090.2 958.9,1092.1 964.1,1085.5 971.7,1081.7 982.2,1081.7 986.7,1084.7 991.2,1092 994,1078 994.9,1079.3 997.2,1086.2 1002.4,1091.4 1005.4,1089.9 1013.7,1094.4 1018.2,1089.9 1022.7,1078.7 1033.2,1073.4 1039.2,1074.9 1048.2,1073.4 1058.7,1079.4 1067.7,1077.2 1073.8,1079.4 1079.8,1083.9 1088.8,1086.9 1092.5,1083.9 1097.8,1088.4 1103.8,1086.9 1109,1087.4 1112,1089 1120.3,1075.6 1127.8,1080 1132.3,1069.6 1139,1059.2 1143.5,1064.3 1155.6,1053.9 1166.8,1054.7 1170.9,1047.2 1175,1053.8 1176.6,1054.4 1182.6,1056.2 1186.3,1048.8 1191.6,1057.8 1197.6,1059.3 1205,1057.1 1210.4,1061.1 1214,1056.4 1217.9,1049.4 1220,1048.5 1229,1051.1 1233.6,1045.2 1238,1043.7 1245.6,1046.7 1257.7,1056.6 1262.2,1053 1265,1052.4 1272.7,1043.5 1289,1046.9 1296.7,1032.1 1303.5,1031.6 1308.7,1039.2 1317.7,1037.2 1323.7,1039.6 1331,1035.4 1343,1030.4 1352,1032.7 1355,1029.5 1358,1029.8 1364,1031.2 1376,1031 1386.8,1034.6 1394,1030.2 1399.5,1029 1408.5,1031.1 1416,1036.9 1422.8,1041.3 1427.3,1041.2 1429.5,1014.8 1434.1,996 1440,985.6 1446.1,979.2 1458,925.4 1461.8,926.5 1467.8,920.6 1477.6,919.8 1482,912.4 1488.9,908.6 1492,914.8 1493,915.9 1503.1,911.5 1512,918.2 1518,910.2 1524.1,897.3 1532.4,892.7 1536,903.5 1536.9,903.5 1543.7,898.7 1552.7,883.7 1563.2,878.5 1570.7,877 1575,883.4 1575.9,883.5 1581.2,881.5 1588.7,882.2 1594.7,865.8 1602.2,865.7 1614.2,862.7 1618.7,858.3 1623.2,850.8 1628,833.7 1629.2,832.3 1638,836.3 1642,831.2 1647.3,807.2 1653.3,806.4 1662,801.3 1669.8,787 1674.1,786.3 1678.8,779.5 1684.5,745 1692,739.1 1696.5,742.1 1702.5,730.2 1707.8,712.1 1711.5,708.5 1716.8,719 1725,705.6 1728,686.1 1730,696.7 1731.8,710.8 1735.6,701.1 1744.6,701.2 1748,697.8 1749.1,699.4 1752.8,708.7 1756.6,693 1764.1,685.6 1770,681.2 1776.1,679.6 1779.1,661.7 1785.1,640.7 1791,637.8 1799.4,630.9 1801.6,625.4 1804.6,615.4 1810.6,597.5 1815.1,589.2 1821.1,592.9 1827.9,603.5 1831.7,586.9 1838,566.9 1841,572.8 1842.2,573.9 1849.7,576.6 1857.2,573 1863.2,578.9 1867.7,546.7 1870.7,537.8 1881,542.3 1887.2,541.7 1890.2,527.5 1893.2,523 1897.7,525.5 1898.5,525.4 1910,319.9 1910.8,320 1913.8,322.5 1924.7,296.9 1928.8,279.8 1935.3,277.2 1942.8,270.2 1948.8,261.7 1954.8,255.9 1960.2,245.6 1965.6,244.1 1970,238.5 1972.3,212 1973,211.6 1976,212.4 1982,212.4 1982,1283"/>
<path id="q22" d="M556,1254.3L556,1254 559.5,1253.6 562.5,1251.4 567.8,1245.5 575,1242.8 577.5,1233.1 580.5,1226.3 588,1215.2 592.6,1209.1 595.6,1203.2 597.8,1204.1 601.6,1210.2 606.1,1210.9 608,1206.3 610.6,1196.1 618.1,1185.7 633.1,1168.1 635,1167.8 636.8,1168.7 642.1,1162 645.1,1162.7 649.6,1155.7 654.1,1156.3 658.6,1148.5 661.6,1147.7 665.4,1138 672.1,1138.7 681.1,1135 691.7,1127.8 696.2,1129.2 705.2,1124.4 720.2,1118.4 723.2,1114 726.9,1119.9 739.7,1119.9 754.7,1117.7 762.2,1119.6 766.7,1116.2 771.2,1101.3 777.2,1100.4 786.2,1114.6 795.3,1116.6 816.3,1107.2 825.3,1106.4 845,1114.3 846.3,1113.7 851,1109 857,1100.4 862,1096 868.8,1079.5 876.3,1085.6 880.8,1081.2 884,1083.2 887,1080.5 890,1076.9 894.3,1078.4 899,1088.6 900,1090.1 907.1,1095.9 913.1,1092.3 917,1091.7 926,1094.6 928.1,1097.8 935,1111.7 936.4,1111.1 943.9,1093.6 947,1098.6 950,1094.5 952,1090.2 953,1090.2 958.9,1092.1 964.1,1085.5 971.7,1081.7 982.2,1081.7 986.7,1084.7 991.2,1092 994,1078 994.9,1079.3 997.2,1086.2 1002.4,1091.4 1005.4,1089.9 1013.7,1094.4 1018.2,1089.9 1022.7,1078.7 1033.2,1073.4 1039.2,1074.9 1048.2,1073.4 1058.7,1079.4 1067.7,1077.2 1073.8,1079.4 1079.8,1083.9 1088.8,1086.9 1092.5,1083.9 1097.8,1088.4 1103.8,1086.9 1109,1087.4 1112,1089 1120.3,1075.6 1127.8,1080 1132.3,1069.6 1139,1059.2 1143.5,1064.3 1155.6,1053.9 1166.8,1054.7 1170.9,1047.2 1175,1053.8 1176.6,1054.4 1182.6,1056.2 1186.3,1048.8 1191.6,1057.8 1197.6,1059.3 1205,1057.1 1210.4,1061.1 1214,1056.4 1217.9,1049.4 1220,1048.5 1229,1051.1 1233.6,1045.2 1238,1043.7 1245.6,1046.7 1257.7,1056.6 1262.2,1053 1265,1052.4 1272.7,1043.5 1289,1046.9 1296.7,1032.1 1303.5,1031.6 1308.7,1039.2 1317.7,1037.2 1323.7,1039.6 1331,1035.4 1343,1030.4 1352,1032.7 1355,1029.5 1358,1029.8 1364,1031.2 1376,1031 1386.8,1034.6 1394,1030.2 1399.5,1029 1408.5,1031.1 1416,1036.9 1422.8,1041.3 1427.3,1041.2 1429.5,1014.8 1434.1,996 1440,985.6 1446.1,979.2 1458,925.4 1461.8,926.5 1467.8,920.6 1477.6,919.8 1482,912.4 1488.9,908.6 1492,914.8 1493,915.9 1503.1,911.5 1512,918.2 1518,910.2 1524.1,897.3 1532.4,892.7 1536,903.5 1536.9,903.5 1543.7,898.7 1552.7,883.7 1563.2,878.5 1570.7,877 1575,883.4 1575.9,883.5 1581.2,881.5 1588.7,882.2 1594.7,865.8 1602.2,865.7 1614.2,862.7 1618.7,858.3 1623.2,850.8 1628,833.7 1629.2,832.3 1638,836.3 1642,831.2 1647.3,807.2 1653.3,806.4 1662,801.3 1669.8,787 1674.1,786.3 1678.8,779.5 1684.5,745 1692,739.1 1696.5,742.1 1702.5,730.2 1707.8,712.1 1711.5,708.5 1716.8,719 1725,705.6 1728,686.1 1730,696.7 1731.8,710.8 1735.6,701.1 1744.6,701.2 1748,697.8 1749.1,699.4 1752.8,708.7 1756.6,693 1764.1,685.6 1770,681.2 1776.1,679.6 1779.1,661.7 1785.1,640.7 1791,637.8 1799.4,630.9 1801.6,625.4 1804.6,615.4 1810.6,597.5 1815.1,589.2 1821.1,592.9 1827.9,603.5 1831.7,586.9 1838,566.9 1841,572.8 1842.2,573.9 1849.7,576.6 1857.2,573 1863.2,578.9 1867.7,546.7 1870.7,537.8 1881,542.3 1887.2,541.7 1890.2,527.5 1893.2,523 1897.7,525.5 1898.5,525.4 1910,319.9 1910.8,320 1913.8,322.5 1924.7,296.9 1928.8,279.8 1935.3,277.2 1942.8,270.2 1948.8,261.7 1954.8,255.9 1960.2,245.6 1965.6,244.1 1970,238.5 1972.3,212 1973,211.6 1976,212.4 1982,212.4 1982,1283"/>
<path id="p23" d="M556,1283L556,1253.8 559.5,1253.4 562.5,1251.2 567.8,1245.2 575,1242.5 577.5,1232.8 580.5,1226 588,1214.9 592.6,1208.8 595.6,1202.8 597.8,1203.7 601.6,1209.7 606.1,1210.5 608,1205.9 610.6,1195.6 618.1,1185.2 633.1,1167.5 635,1167.2 636.8,1168.1 642.1,1161.4 645.1,1162.1 649.6,1155.1 654.1,1155.7 658.6,1147.9 661.6,1147.1 665.4,1137.4 672.1,1138.1 681.1,1134.4 691.7,1127.2 696.2,1128.6 705.2,1123.8 720.2,1117.8 723.2,1113.4 726.9,1119.3 739.7,1119.3 754.7,1117.1 762.2,1119 766.7,1115.6 771.2,1100.7 777.2,1099.8 786.2,1114 795.3,1116 816.3,1106.6 825.3,1105.8 845,1113.7 846.3,1113.1 851,1108.4 857,1099.8 862,1095.4 868.8,1078.9 876.3,1085 880.8,1080.6 884,1082.6 887,1079.9 890,1076.3 894.3,1077.8 899,1088 900,1089.5 907.1,1095.3 913.1,1091.7 917,1091.1 926,1094 928.1,1097.2 935,1111.1 936.4,1110.5 943.9,1093 947,1098 950,1093.9 952,1089.6 953,1089.6 958.9,1091.5 964.1,1084.9 971.7,1081.1 982.2,1081.1 986.7,1084.1 991.2,1091.4 994,1077.4 994.9,1078.7 997.2,1085.6 1002.4,1090.8 1005.4,1089.3 1013.7,1093.8 1018.2,1089.3 1022.7,1078.1 1033.2,1072.8 1039.2,1074.3 1048.2,1072.8 1058.7,1078.8 1067.7,1076.6 1073.8,1078.8 1079.8,1083.3 1088.8,1086.3 1092.5,1083.3 1097.8,1087.8 1103.8,1086.3 1109,1086.8 1112,1088.4 1120.3,1074.9 1127.8,1079.4 1132.3,1068.9 1139,1058.5 1143.5,1063.6 1155.6,1053.1 1166.8,1053.9 1170.9,1046.4 1175,1053 1176.6,1053.6 1182.6,1055.4 1186.3,1048 1191.6,1056.9 1197.6,1058.4 1205,1056.2 1210.4,1060.2 1214,1055.5 1217.9,1048.5 1220,1047.6 1229,1050.2 1233.6,1044.2 1238,1042.7 1245.6,1045.7 1257.7,1055.6 1262.2,1052 1265,1051.3 1272.7,1042.5 1289,1045.8 1296.7,1031 1303.5,1030.4 1308.7,1038 1317.7,1035.9 1323.7,1038.3 1331,1034.1 1343,1029.1 1352,1031.4 1355,1028.1 1358,1028.4 1364,1029.8 1376,1029.7 1386.8,1033.3 1394,1028.9 1399.5,1027.7 1408.5,1029.8 1416,1035.7 1422.8,1040.1 1427.3,1040 1429.5,1013.6 1434.1,994.9 1440,984.5 1446.1,978.1 1458,924.3 1461.8,925.4 1467.8,919.5 1477.6,918.7 1482,911.3 1488.9,907.5 1492,913.7 1493,914.8 1503.1,910.4 1512,917.1 1518,909.1 1524.1,896.2 1532.4,891.6 1536,902.4 1536.9,902.4 1543.7,897.6 1552.7,882.6 1563.2,877.4 1570.7,875.9 1575,882.3 1575.9,882.4 1581.2,880.4 1588.7,881.1 1594.7,864.7 1602.2,864.6 1614.2,861.6 1618.7,857.2 1623.2,849.7 1628,832.6 1629.2,831.2 1638,835.2 1642,830.1 1647.3,806.1 1653.3,805.3 1662,800.2 1669.8,785.9 1674.1,785.2 1678.8,778.4 1684.5,743.9 1692,737.9 1696.5,740.9 1702.5,729 1707.8,711 1711.5,707.3 1716.8,717.8 1725,704.4 1728,684.9 1730,695.6 1731.8,709.6 1735.6,699.9 1744.6,700 1748,696.6 1749.1,698.2 1752.8,707.5 1756.6,691.8 1764.1,684.3 1770,680 1776.1,678.4 1779.1,660.4 1785.1,639.5 1791,636.5 1799.4,629.6 1801.6,624.1 1804.6,614.1 1810.6,596.2 1815.1,587.9 1821.1,591.6 1827.9,602.2 1831.7,585.5 1838,565.6 1841,571.4 1842.2,572.5 1849.7,575.3 1857.2,571.6 1863.2,577.5 1867.7,545.4 1870.7,536.4 1881,540.9 1887.2,540.3 1890.2,526.1 1893.2,521.6 1897.7,524.1 1898.5,524 1910,317.8 1910.8,317.9 1913.8,320.4 1924.7,294.7 1928.8,277.6 1935.3,275 1942.8,267.9 1948.8,259.3 1954.8,253.5 1960.2,243.2 1965.6,241.6 1970,235.9 1972.3,209.4 1973,209.1 1976,209.8 1982,209.8 1982,1283"/>
<path id="q23" d="M556,1254L556,1253.8 559.5,1253.4 562.5,1251.2 567.8,1245.2 575,1242.5 577.5,1232.8 580.5,1226 588,1214.9 592.6,1208.8 595.6,1202.8 597.8,1203.7 601.6,1209.7 606.1,1210.5 608,1205.9 610.6,1195.6 618.1,1185.2 633.1,1167.5 635,1167.2 636.8,1168.1 642.1,1161.4 645.1,1162.1 649.6,1155.1 654.1,1155.7 658.6,1147.9 661.6,1147.1 665.4,1137.4 672.1,1138.1 681.1,1134.4 691.7,1127.2 696.2,1128.6 705.2,1123.8 720.2,1117.8 723.2,1113.4 726.9,1119.3 739.7,1119.3 754.7,1117.1 762.2,1119 766.7,1115.6 771.2,1100.7 777.2,1099.8 786.2,1114 795.3,1116 816.3,1106.6 825.3,1105.8 845,1113.7 846.3,1113.1 851,1108.4 857,1099.8 862,1095.4 868.8,1078.9 876.3,1085 880.8,1080.6 884,1082.6 887,1079.9 890,1076.3 894.3,1077.8 899,1088 900,1089.5 907.1,1095.3 913.1,1091.7 917,1091.1 926,1094 928.1,1097.2 935,1111.1 936.4,1110.5 943.9,1093 947,1098 950,1093.9 952,1089.6 953,1089.6 958.9,1091.5 964.1,1084.9 971.7,1081.1 982.2,1081.1 986.7,1084.1 991.2,1091.4 994,1077.4 994.9,1078.7 997.2,1085.6 1002.4,1090.8 1005.4,1089.3 1013.7,1093.8 1018.2,1089.3 1022.7,1078.1 1033.2,1072.8 1039.2,1074.3 1048.2,1072.8 1058.7,1078.8 1067.7,1076.6 1073.8,1078.8 1079.8,1083.3 1088.8,1086.3 1092.5,1083.3 1097.8,1087.8 1103.8,1086.3 1109,1086.8 1112,1088.4 1120.3,1074.9 1127.8,1079.4 1132.3,1068.9 1139,1058.5 1143.5,1063.6 1155.6,1053.1 1166.8,1053.9 1170.9,1046.4 1175,1053 1176.6,1053.6 1182.6,1055.4 1186.3,1048 1191.6,1056.9 1197.6,1058.4 1205,1056.2 1210.4,1060.2 1214,1055.5 1217.9,1048.5 1220,1047.6 1229,1050.2 1233.6,1044.2 1238,1042.7 1245.6,1045.7 1257.7,1055.6 1262.2,1052 1265,1051.3 1272.7,1042.5 1289,1045.8 1296.7,1031 1303.5,1030.4 1308.7,1038 1317.7,1035.9 1323.7,1038.3 1331,1034.1 1343,1029.1 1352,1031.4 1355,1028.1 1358,1028.4 1364,1029.8 1376,1029.7 1386.8,1033.3 1394,1028.9 1399.5,1027.7 1408.5,1029.8 1416,1035.7 1422.8,1040.1 1427.3,1040 1429.5,1013.6 1434.1,994.9 1440,984.5 1446.1,978.1 1458,924.3 1461.8,925.4 1467.8,919.5 1477.6,918.7 1482,911.3 1488.9,907.5 1492,913.7 1493,914.8 1503.1,910.4 1512,917.1 1518,909.1 1524.1,896.2 1532.4,891.6 1536,902.4 1536.9,902.4 1543.7,897.6 1552.7,882.6 1563.2,877.4 1570.7,875.9 1575,882.3 1575.9,882.4 1581.2,880.4 1588.7,881.1 1594.7,864.7 1602.2,864.6 1614.2,861.6 1618.7,857.2 1623.2,849.7 1628,832.6 1629.2,831.2 1638,835.2 1642,830.1 1647.3,806.1 1653.3,805.3 1662,800.2 1669.8,785.9 1674.1,785.2 1678.8,778.4 1684.5,743.9 1692,737.9 1696.5,740.9 1702.5,729 1707.8,711 1711.5,707.3 1716.8,717.8 1725,704.4 1728,684.9 1730,695.6 1731.8,709.6 1735.6,699.9 1744.6,700 1748,696.6 1749.1,698.2 1752.8,707.5 1756.6,691.8 1764.1,684.3 1770,680 1776.1,678.4 1779.1,660.4 1785.1,639.5 1791,636.5 1799.4,629.6 1801.6,624.1 1804.6,614.1 1810.6,596.2 1815.1,587.9 1821.1,591.6 1827.9,602.2 1831.7,585.5 1838,565.6 1841,571.4 1842.2,572.5 1849.7,575.3 1857.2,571.6 1863.2,577.5 1867.7,545.4 1870.7,536.4 1881,540.9 1887.2,540.3 1890.2,526.1 1893.2,521.6 1897.7,524.1 1898.5,524 1910,317.8 1910.8,317.9 1913.8,320.4 1924.7,294.7 1928.8,277.6 1935.3,275 1942.8,267.9 1948.8,259.3 1954.8,253.5 1960.2,243.2 1965.6,241.6 1970,235.9 1972.3,209.4 1973,209.1 1976,209.8 1982,209.8 1982,1283"/>
<path id="p24" d="M556,1283L556,1253.7 559.5,1253.2 562.5,1251 567.8,1245.1 575,1242.3 577.5,1232.6 580.5,1225.8 588,1214.7 592.6,1208.6 595.6,1202.6 597.8,1203.5 601.6,1209.5 606.1,1210.2 608,1205.6 610.6,1195.4 618.1,1185 633.1,1167.3 635,1167 636.8,1167.9 642.1,1161.1 645.1,1161.9 649.6,1154.8 654.1,1155.4 658.6,1147.6 661.6,1146.9 665.4,1137.1 672.1,1137.9 681.1,1134.1 691.7,1126.9 696.2,1128.4 705.2,1123.6 720.2,1117.6 723.2,1113.1 726.9,1119 739.7,1119.1 754.7,1116.8 762.2,1118.8 766.7,1115.4 771.2,1100.4 777.2,1099.6 786.2,1113.8 795.3,1115.8 816.3,1106.3 825.3,1105.6 845,1113.4 846.3,1112.9 851,1108.2 857,1099.5 862,1095 868.8,1078.5 876.3,1084.6 880.8,1080.2 884,1082.1 887,1079.3 890,1075.8 894.3,1077.3 899,1087.3 900,1088.9 907.1,1094.7 913.1,1091 917,1090.3 926,1093.1 928.1,1096.3 935,1110.2 936.4,1109.6 943.9,1092 947,1097 950,1092.9 952,1088.6 953,1088.6 958.9,1090.5 964.1,1083.9 971.7,1080.1 982.2,1080.1 986.7,1083.1 991.2,1090.4 994,1076.4 994.9,1077.7 997.2,1084.6 1002.4,1089.8 1005.4,1088.3 1013.7,1092.8 1018.2,1088.3 1022.7,1077.1 1033.2,1071.8 1039.2,1073.3 1048.2,1071.8 1058.7,1077.8 1067.7,1075.6 1073.8,1077.8 1079.8,1082.3 1088.8,1085.3 1092.5,1082.3 1097.8,1086.8 1103.8,1085.3 1109,1085.7 1112,1087.4 1120.3,1073.9 1127.8,1078.3 1132.3,1067.8 1139,1057.4 1143.5,1062.5 1155.6,1052.1 1166.8,1052.8 1170.9,1045.4 1175,1051.9 1176.6,1052.5 1182.6,1054.3 1186.3,1046.9 1191.6,1055.8 1197.6,1057.3 1205,1055.1 1210.4,1059 1214,1054.3 1217.9,1047.3 1220,1046.4 1229,1049 1233.6,1043.1 1238,1041.6 1245.6,1044.5 1257.7,1054.4 1262.2,1050.7 1265,1050.1 1272.7,1041.2 1289,1044.4 1296.7,1029.6 1303.5,1029 1308.7,1036.5 1317.7,1034.5 1323.7,1036.8 1331,1032.6 1343,1027.5 1352,1029.8 1355,1026.5 1358,1026.8 1364,1028.2 1376,1028.2 1386.8,1031.8 1394,1027.4 1399.5,1026.3 1408.5,1028.4 1416,1034.3 1422.8,1038.8 1427.3,1038.7 1429.5,1012.3 1434.1,993.6 1440,983.2 1446.1,976.8 1458,923.1 1461.8,924.2 1467.8,918.3 1477.6,917.5 1482,910.1 1488.9,906.3 1492,912.5 1493,913.6 1503.1,909.2 1512,915.9 1518,907.9 1524.1,895 1532.4,890.4 1536,901.2 1536.9,901.2 1543.7,896.4 1552.7,881.4 1563.2,876.2 1570.7,874.7 1575,881.1 1575.9,881.2 1581.2,879.2 1588.7,879.9 1594.7,863.5 1602.2,863.4 1614.2,860.4 1618.7,856 1623.2,848.5 1628,831.4 1629.2,830 1638,834 1642,828.9 1647.3,804.9 1653.3,804.1 1662,799 1669.8,784.6 1674.1,784 1678.8,777.2 1684.5,742.7 1692,736.7 1696.5,739.7 1702.5,727.8 1707.8,709.7 1711.5,706.1 1716.8,716.6 1725,703.2 1728,683.7 1730,694.3 1731.8,708.4 1735.6,698.7 1744.6,698.7 1748,695.3 1749.1,696.9 1752.8,706.2 1756.6,690.5 1764.1,683.1 1770,678.7 1776.1,677.1 1779.1,659.1 1785.1,638.2 1791,635.2 1799.4,628.3 1801.6,622.8 1804.6,612.8 1810.6,594.8 1815.1,586.6 1821.1,590.3 1827.9,600.8 1831.7,584.2 1838,564.2 1841,570.1 1842.2,571.2 1849.7,573.9 1857.2,570.3 1863.2,576.2 1867.7,544 1870.7,535 1881,539.5 1887.2,538.9 1890.2,524.7 1893.2,520.2 1897.7,522.7 1898.5,522.6 1910,315.8 1910.8,315.9 1913.8,318.4 1924.7,292.6 1928.8,275.4 1935.3,272.7 1942.8,265.6 1948.8,257 1954.8,251 1960.2,240.7 1965.6,239.1 1970,233.4 1972.3,206.8 1973,206.5 1976,207.2 1982,207.2 1982,1283"/>
<path id="q24" d="M556,1253.8L556,1253.7 559.5,1253.2 562.5,1251 567.8,1245.1 575,1242.3 577.5,1232.6 580.5,1225.8 588,1214.7 592.6,1208.6 595.6,1202.6 597.8,1203.5 601.6,1209.5 606.1,1210.2 608,1205.6 610.6,1195.4 618.1,1185 633.1,1167.3 635,1167 636.8,1167.9 642.1,1161.1 645.1,1161.9 649.6,1154.8 654.1,1155.4 658.6,1147.6 661.6,1146.9 665.4,1137.1 672.1,1137.9 681.1,1134.1 691.7,1126.9 696.2,1128.4 705.2,1123.6 720.2,1117.6 723.2,1113.1 726.9,1119 739.7,1119.1 754.7,1116.8 762.2,1118.8 766.7,1115.4 771.2,1100.4 777.2,1099.6 786.2,1113.8 795.3,1115.8 816.3,1106.3 825.3,1105.6 845,1113.4 846.3,1112.9 851,1108.2 857,1099.5 862,1095 868.8,1078.5 876.3,1084.6 880.8,1080.2 884,1082.1 887,1079.3 890,1075.8 894.3,1077.3 899,1087.3 900,1088.9 907.1,1094.7 913.1,1091 917,1090.3 926,1093.1 928.1,1096.3 935,1110.2 936.4,1109.6 943.9,1092 947,1097 950,1092.9 952,1088.6 953,1088.6 958.9,1090.5 964.1,1083.9 971.7,1080.1 982.2,1080.1 986.7,1083.1 991.2,1090.4 994,1076.4 994.9,1077.7 997.2,1084.6 1002.4,1089.8 1005.4,1088.3 1013.7,1092.8 1018.2,1088.3 1022.7,1077.1 1033.2,1071.8 1039.2,1073.3 1048.2,1071.8 1058.7,1077.8 1067.7,1075.6 1073.8,1077.8 1079.8,1082.3 1088.8,1085.3 1092.5,1082.3 1097.8,1086.8 1103.8,1085.3 1109,1085.7 1112,1087.4 1120.3,1073.9 1127.8,1078.3 1132.3,1067.8 1139,1057.4 1143.5,1062.5 1155.6,1052.1 1166.8,1052.8 1170.9,1045.4 1175,1051.9 1176.6,1052.5 1182.6,1054.3 1186.3,1046.9 1191.6,1055.8 1197.6,1057.3 1205,1055.1 1210.4,1059 1214,1054.3 1217.9,1047.3 1220,1046.4 1229,1049 1233.6,1043.1 1238,1041.6 1245.6,1044.5 1257.7,1054.4 1262.2,1050.7 1265,1050.1 1272.7,1041.2 1289,1044.4 1296.7,1029.6 1303.5,1029 1308.7,1036.5 1317.7,1034.5 1323.7,1036.8 1331,1032.6 1343,1027.5 1352,1029.8 1355,1026.5 1358,1026.8 1364,1028.2 1376,1028.2 1386.8,1031.8 1394,1027.4 1399.5,1026.3 1408.5,1028.4 1416,1034.3 1422.8,1038.8 1427.3,1038.7 1429.5,1012.3 1434.1,993.6 1440,983.2 1446.1,976.8 1458,923.1 1461.8,924.2 1467.8,918.3 1477.6,917.5 1482,910.1 1488.9,906.3 1492,912.5 1493,913.6 1503.1,909.2 1512,915.9 1518,907.9 1524.1,895 1532.4,890.4 1536,901.2 1536.9,901.2 1543.7,896.4 1552.7,881.4 1563.2,876.2 1570.7,874.7 1575,881.1 1575.9,881.2 1581.2,879.2 1588.7,879.9 1594.7,863.5 1602.2,863.4 1614.2,860.4 1618.7,856 1623.2,848.5 1628,831.4 1629.2,830 1638,834 1642,828.9 1647.3,804.9 1653.3,804.1 1662,799 1669.8,784.6 1674.1,784 1678.8,777.2 1684.5,742.7 1692,736.7 1696.5,739.7 1702.5,727.8 1707.8,709.7 1711.5,706.1 1716.8,716.6 1725,703.2 1728,683.7 1730,694.3 1731.8,708.4 1735.6,698.7 1744.6,698.7 1748,695.3 1749.1,696.9 1752.8,706.2 1756.6,690.5 1764.1,683.1 1770,678.7 1776.1,677.1 1779.1,659.1 1785.1,638.2 1791,635.2 1799.4,628.3 1801.6,622.8 1804.6,612.8 1810.6,594.8 1815.1,586.6 1821.1,590.3 1827.9,600.8 1831.7,584.2 1838,564.2 1841,570.1 1842.2,571.2 1849.7,573.9 1857.2,570.3 1863.2,576.2 1867.7,544 1870.7,535 1881,539.5 1887.2,538.9 1890.2,524.7 1893.2,520.2 1897.7,522.7 1898.5,522.6 1910,315.8 1910.8,315.9 1913.8,318.4 1924.7,292.6 1928.8,275.4 1935.3,272.7 1942.8,265.6 1948.8,257 1954.8,251 1960.2,240.7 1965.6,239.1 1970,233.4 1972.3,206.8 1973,206.5 1976,207.2 1982,207.2 1982,1283"/>
<path id="p25" d="M556,1283L556,1253.6 559.5,1253.1 562.5,1250.9 567.8,1245 575,1242.2 577.5,1232.5 580.5,1225.7 588,1214.5 592.6,1208.4 595.6,1202.4 597.8,1203.3 601.6,1209.4 606.1,1210.1 608,1205.5 610.6,1195.2 618.1,1184.8 633.1,1167.1 635,1166.8 636.8,1167.7 642.1,1160.9 645.1,1161.7 649.6,1154.6 654.1,1155.2 658.6,1147.4 661.6,1146.7 665.4,1136.9 672.1,1137.7 681.1,1133.9 691.7,1126.7 696.2,1128.2 705.2,1123.4 720.2,1117.4 723.2,1112.9 726.9,1118.8 739.7,1118.9 754.7,1116.6 762.2,1118.6 766.7,1115.2 771.2,1100.2 777.2,1099.4 786.2,1113.6 795.3,1115.6 816.3,1106.1 825.3,1105.4 845,1113.2 846.3,1112.7 851,1108 857,1099.2 862,1094.6 868.8,1078 876.3,1083.9 880.8,1079.4 884,1081.3 887,1078.5 890,1074.9 894.3,1076.3 899,1086.3 900,1087.8 907.1,1093.4 913.1,1089.6 917,1088.9 926,1091.6 928.1,1094.7 935,1108.5 936.4,1107.9 943.9,1090.2 947,1095.1 950,1090.9 952,1086.6 953,1086.6 958.9,1088.5 964.1,1081.9 971.7,1078.1 982.2,1078.1 986.7,1081.1 991.2,1088.4 994,1074.4 994.9,1075.7 997.2,1082.6 1002.4,1087.8 1005.4,1086.3 1013.7,1090.8 1018.2,1086.3 1022.7,1075.1 1033.2,1069.8 1039.2,1071.3 1048.2,1069.8 1058.7,1075.8 1067.7,1073.6 1073.8,1075.8 1079.8,1080.3 1088.8,1083.3 1092.5,1080.3 1097.8,1084.8 1103.8,1083.3 1109,1083.8 1112,1085.5 1120.3,1072.1 1127.8,1076.6 1132.3,1066.1 1139,1055.8 1143.5,1060.9 1155.6,1050.6 1166.8,1051.4 1170.9,1044 1175,1050.6 1176.6,1051.2 1182.6,1053 1186.3,1045.7 1191.6,1054.7 1197.6,1056.2 1205,1054.1 1210.4,1058 1214,1053.4 1217.9,1046.4 1220,1045.5 1229,1048.2 1233.6,1042.3 1238,1040.8 1245.6,1043.8 1257.7,1053.7 1262.2,1050 1265,1049.4 1272.7,1040.4 1289,1043.6 1296.7,1028.7 1302.7,1028.1 1303.5,1028.1 1308.7,1035.6 1317.7,1033.5 1323.7,1035.8 1331,1031.5 1343,1026.4 1352,1028.6 1355,1025.3 1358,1025.6 1364,1027 1376,1027 1386.8,1030.7 1394,1026.3 1399.5,1025.1 1408.5,1027.3 1416,1033.2 1422.8,1037.7 1427.3,1037.7 1429.5,1011.2 1434.1,992.5 1440,982.1 1446.1,975.8 1458,922.1 1461.8,923.2 1467.8,917.3 1477.6,916.5 1482,909.1 1488.9,905.3 1492,911.5 1493,912.6 1503.1,908.2 1512,914.9 1518,906.9 1524.1,894 1532.4,889.4 1536,900.2 1536.9,900.2 1543.7,895.4 1552.7,880.4 1563.2,875.2 1570.7,873.7 1575,880.1 1575.9,880.2 1581.2,878.2 1588.7,878.9 1594.7,862.5 1602.2,862.4 1614.2,859.4 1618.7,855 1623.2,847.5 1628,830.4 1629.2,829 1638,833 1642,827.9 1647.3,803.9 1653.3,803.1 1662,798 1669.8,783.6 1674.1,782.9 1678.8,776.2 1684.5,741.6 1692,735.7 1696.5,738.7 1702.5,726.7 1707.8,708.7 1711.5,705 1716.8,715.5 1725,702.1 1728,682.5 1730,693.2 1731.8,707.3 1735.6,697.5 1744.6,697.5 1748,694.2 1749.1,695.8 1752.8,705.1 1756.6,689.3 1764.1,681.9 1770,677.5 1776.1,675.9 1779.1,657.9 1785.1,637 1791,634 1799.4,627.1 1801.6,621.6 1804.6,611.6 1810.6,593.6 1815.1,585.3 1821.1,589 1827.9,599.6 1831.7,582.9 1838,562.9 1841,568.8 1842.2,569.9 1849.7,572.6 1857.2,568.9 1863.2,574.8 1867.7,542.6 1870.7,533.7 1881,538.1 1887.2,537.5 1890.2,523.3 1893.2,518.8 1897.7,521.3 1898.5,521.2 1910,313.8 1910.8,313.9 1913.8,316.3 1924.7,290.4 1928.8,273.2 1935.3,270.5 1942.8,263.3 1948.8,254.6 1954.8,248.6 1960.2,238.2 1965.6,236.6 1970,230.8 1972.3,204.3 1973,203.9 1976,204.6 1982,204.6 1982,1283"/>
<path id="q25" d="M556,1253.7L556,1253.6 559.5,1253.1 562.5,1250.9 567.8,1245 575,1242.2 577.5,1232.5 580.5,1225.7 588,1214.5 592.6,1208.4 595.6,1202.4 597.8,1203.3 601.6,1209.4 606.1,1210.1 608,1205.5 610.6,1195.2 618.1,1184.8 633.1,1167.1 635,1166.8 636.8,1167.7 642.1,1160.9 645.1,1161.7 649.6,1154.6 654.1,1155.2 658.6,1147.4 661.6,1146.7 665.4,1136.9 672.1,1137.7 681.1,1133.9 691.7,1126.7 696.2,1128.2 705.2,1123.4 720.2,1117.4 723.2,1112.9 726.9,1118.8 739.7,1118.9 754.7,1116.6 762.2,1118.6 766.7,1115.2 771.2,1100.2 777.2,1099.4 786.2,1113.6 795.3,1115.6 816.3,1106.1 825.3,1105.4 845,1113.2 846.3,1112.7 851,1108 857,1099.2 862,1094.6 868.8,1078 876.3,1083.9 880.8,1079.4 884,1081.3 887,1078.5 890,1074.9 894.3,1076.3 899,1086.3 900,1087.8 907.1,1093.4 913.1,1089.6 917,1088.9 926,1091.6 928.1,1094.7 935,1108.5 936.4,1107.9 943.9,1090.2 947,1095.1 950,1090.9 952,1086.6 953,1086.6 958.9,1088.5 964.1,1081.9 971.7,1078.1 982.2,1078.1 986.7,1081.1 991.2,1088.4 994,1074.4 994.9,1075.7 997.2,1082.6 1002.4,1087.8 1005.4,1086.3 1013.7,1090.8 1018.2,1086.3 1022.7,1075.1 1033.2,1069.8 1039.2,1071.3 1048.2,1069.8 1058.7,1075.8 1067.7,1073.6 1073.8,1075.8 1079.8,1080.3 1088.8,1083.3 1092.5,1080.3 1097.8,1084.8 1103.8,1083.3 1109,1083.8 1112,1085.5 1120.3,1072.1 1127.8,1076.6 1132.3,1066.1 1139,1055.8 1143.5,1060.9 1155.6,1050.6 1166.8,1051.4 1170.9,1044 1175,1050.6 1176.6,1051.2 1182.6,1053 1186.3,1045.7 1191.6,1054.7 1197.6,1056.2 1205,1054.1 1210.4,1058 1214,1053.4 1217.9,1046.4 1220,1045.5 1229,1048.2 1233.6,1042.3 1238,1040.8 1245.6,1043.8 1257.7,1053.7 1262.2,1050 1265,1049.4 1272.7,1040.4 1289,1043.6 1296.7,1028.7 1302.7,1028.1 1303.5,1028.1 1308.7,1035.6 1317.7,1033.5 1323.7,1035.8 1331,1031.5 1343,1026.4 1352,1028.6 1355,1025.3 1358,1025.6 1364,1027 1376,1027 1386.8,1030.7 1394,1026.3 1399.5,1025.1 1408.5,1027.3 1416,1033.2 1422.8,1037.7 1427.3,1037.7 1429.5,1011.2 1434.1,992.5 1440,982.1 1446.1,975.8 1458,922.1 1461.8,923.2 1467.8,917.3 1477.6,916.5 1482,909.1 1488.9,905.3 1492,911.5 1493,912.6 1503.1,908.2 1512,914.9 1518,906.9 1524.1,894 1532.4,889.4 1536,900.2 1536.9,900.2 1543.7,895.4 1552.7,880.4 1563.2,875.2 1570.7,873.7 1575,880.1 1575.9,880.2 1581.2,878.2 1588.7,878.9 1594.7,862.5 1602.2,862.4 1614.2,859.4 1618.7,855 1623.2,847.5 1628,830.4 1629.2,829 1638,833 1642,827.9 1647.3,803.9 1653.3,803.1 1662,798 1669.8,783.6 1674.1,782.9 1678.8,776.2 1684.5,741.6 1692,735.7 1696.5,738.7 1702.5,726.7 1707.8,708.7 1711.5,705 1716.8,715.5 1725,702.1 1728,682.5 1730,693.2 1731.8,707.3 1735.6,697.5 1744.6,697.5 1748,694.2 1749.1,695.8 1752.8,705.1 1756.6,689.3 1764.1,681.9 1770,677.5 1776.1,675.9 1779.1,657.9 1785.1,637 1791,634 1799.4,627.1 1801.6,621.6 1804.6,611.6 1810.6,593.6 1815.1,585.3 1821.1,589 1827.9,599.6 1831.7,582.9 1838,562.9 1841,568.8 1842.2,569.9 1849.7,572.6 1857.2,568.9 1863.2,574.8 1867.7,542.6 1870.7,533.7 1881,538.1 1887.2,537.5 1890.2,523.3 1893.2,518.8 1897.7,521.3 1898.5,521.2 1910,313.8 1910.8,313.9 1913.8,316.3 1924.7,290.4 1928.8,273.2 1935.3,270.5 1942.8,263.3 1948.8,254.6 1954.8,248.6 1960.2,238.2 1965.6,236.6 1970,230.8 1972.3,204.3 1973,203.9 1976,204.6 1982,204.6 1982,1283"/>
<path id="p26" d="M556,1283L556,1253.5 559.5,1253 562.5,1250.8 567.8,1244.8 575,1242.1 577.5,1232.4 580.5,1225.6 588,1214.4 592.6,1208.3 595.6,1202.3 597.8,1203.2 601.6,1209.2 606.1,1209.9 608,1205.3 610.6,1195 618.1,1184.6 633.1,1166.9 635,1166.6 636.8,1167.5 642.1,1160.8 645.1,1161.5 649.6,1154.5 654.1,1155.1 658.6,1147.3 661.6,1146.5 665.4,1136.8 672.1,1137.5 681.1,1133.8 691.7,1126.6 696.2,1128 705.2,1123.2 720.2,1117.2 723.2,1112.8 726.9,1118.7 739.7,1118.7 754.7,1116.5 762.2,1118.4 766.7,1115 771.2,1100.1 777.2,1099.2 786.2,1113.4 795.3,1115.4 816.3,1106 825.3,1105.2 845,1113.1 846.3,1112.5 851,1107.8 857,1099 862,1094.5 868.8,1077.8 876.3,1083.8 880.8,1079.3 884,1081.1 887,1078.3 890,1074.7 894.3,1076.1 899,1086.1 900,1087.7 907.1,1093.3 913.1,1089.5 917,1088.8 926,1091.4 928.1,1094.6 935,1108.3 936.4,1107.7 943.9,1090 947,1094.9 950,1090.8 952,1086.4 953,1086.5 958.9,1088.4 964.1,1081.7 971.7,1077.9 982.2,1077.9 986.7,1081 991.2,1088.3 994,1074.3 994.9,1075.6 997.2,1082.4 1002.4,1087.6 1005.4,1086.2 1013.7,1090.7 1018.2,1086.2 1022.7,1074.9 1033.2,1069.7 1039.2,1071.1 1048.2,1069.6 1058.7,1075.6 1067.7,1073.4 1073.8,1075.7 1079.8,1080.2 1088.8,1083.1 1092.5,1080.2 1097.8,1084.7 1103.8,1083.2 1109,1083.7 1112,1085.3 1120.3,1071.9 1127.8,1076.3 1132.3,1065.9 1139,1055.5 1143.5,1060.7 1155.6,1050.3 1166.8,1051.1 1170.9,1043.7 1175,1050.3 1176.6,1050.9 1182.6,1052.6 1186.3,1045.3 1191.6,1054.2 1197.6,1055.8 1205,1053.6 1210.4,1057.6 1214,1052.9 1217.9,1045.9 1220,1045 1229,1047.7 1233.6,1041.8 1238,1040.3 1245.6,1043.3 1257.7,1053.1 1262.2,1049.4 1265,1048.7 1272.7,1039.7 1289,1042.8 1296.7,1027.8 1302.7,1027.2 1303.5,1027.2 1308.7,1034.7 1317.7,1032.5 1323.7,1034.8 1331,1030.5 1343,1025.3 1352,1027.4 1355,1024.1 1358,1024.4 1364,1025.9 1376,1025.9 1386.8,1029.5 1394,1025.2 1399.5,1024 1408.5,1026.2 1416,1032.2 1422.8,1036.6 1427.3,1036.6 1429.5,1010.2 1434.1,991.5 1440,981.1 1446.1,974.8 1458,921.1 1461.8,922.2 1467.8,916.3 1477.6,915.5 1482,908.1 1488.9,904.3 1492,910.5 1493,911.6 1503.1,907.2 1512,913.9 1518,905.9 1524.1,893 1532.4,888.4 1536,899.2 1536.9,899.2 1543.7,894.4 1552.7,879.4 1563.2,874.2 1570.7,872.7 1575,879.1 1575.9,879.2 1581.2,877.2 1588.7,877.9 1594.7,861.5 1602.2,861.4 1614.2,858.4 1618.7,854 1623.2,846.5 1628,829.4 1629.2,828 1638,832 1642,826.9 1647.3,802.9 1653.3,802.1 1662,797 1669.8,782.6 1674.1,781.9 1678.8,775.1 1684.5,740.6 1692,734.6 1696.5,737.6 1702.5,725.7 1707.8,707.6 1711.5,703.9 1716.8,714.4 1725,701 1728,681.4 1730,692.1 1731.8,706.2 1735.6,696.4 1744.6,696.4 1748,693 1749.1,694.6 1752.8,703.9 1756.6,688.2 1764.1,680.7 1770,676.3 1776.1,674.7 1779.1,656.7 1785.1,635.7 1791,632.8 1799.4,625.9 1801.6,620.3 1804.6,610.3 1810.6,592.3 1815.1,584.1 1821.1,587.7 1827.9,598.3 1831.7,581.6 1838,561.6 1841,567.5 1842.2,568.6 1849.7,571.3 1857.2,567.6 1863.2,573.5 1867.7,541.3 1870.7,532.3 1881,536.8 1887.2,536.1 1890.2,521.9 1893.2,517.4 1897.7,520 1898.5,519.8 1910,311.8 1910.8,311.9 1913.8,314.3 1924.7,288.3 1928.8,271 1935.3,268.2 1942.8,261 1948.8,252.2 1954.8,246.2 1960.2,235.8 1965.6,234.1 1970,228.3 1972.3,201.7 1973,201.3 1976,202 1982,202 1982,1283"/>
<path id="q26" d="M556,1253.6L556,1253.5 559.5,1253 562.5,1250.8 567.8,1244.8 575,1242.1 577.5,1232.4 580.5,1225.6 588,1214.4 592.6,1208.3 595.6,1202.3 597.8,1203.2 601.6,1209.2 606.1,1209.9 608,1205.3 610.6,1195 618.1,1184.6 633.1,1166.9 635,1166.6 636.8,1167.5 642.1,1160.8 645.1,1161.5 649.6,1154.5 654.1,1155.1 658.6,1147.3 661.6,1146.5 665.4,1136.8 672.1,1137.5 681.1,1133.8 691.7,1126.6 696.2,1128 705.2,1123.2 720.2,1117.2 723.2,1112.8 726.9,1118.7 739.7,1118.7 754.7,1116.5 762.2,1118.4 766.7,1115 771.2,1100.1 777.2,1099.2 786.2,1113.4 795.3,1115.4 816.3,1106 825.3,1105.2 845,1113.1 846.3,1112.5 851,1107.8 857,1099 862,1094.5 868.8,1077.8 876.3,1083.8 880.8,1079.3 884,1081.1 887,1078.3 890,1074.7 894.3,1076.1 899,1086.1 900,1087.7 907.1,1093.3 913.1,1089.5 917,1088.8 926,1091.4 928.1,1094.6 935,1108.3 936.4,1107.7 943.9,1090 947,1094.9 950,1090.8 952,1086.4 953,1086.5 958.9,1088.4 964.1,1081.7 971.7,1077.9 982.2,1077.9 986.7,1081 991.2,1088.3 994,1074.3 994.9,1075.6 997.2,1082.4 1002.4,1087.6 1005.4,1086.2 1013.7,1090.7 1018.2,1086.2 1022.7,1074.9 1033.2,1069.7 1039.2,1071.1 1048.2,1069.6 1058.7,1075.6 1067.7,1073.4 1073.8,1075.7 1079.8,1080.2 1088.8,1083.1 1092.5,1080.2 1097.8,1084.7 1103.8,1083.2 1109,1083.7 1112,1085.3 1120.3,1071.9 1127.8,1076.3 1132.3,1065.9 1139,1055.5 1143.5,1060.7 1155.6,1050.3 1166.8,1051.1 1170.9,1043.7 1175,1050.3 1176.6,1050.9 1182.6,1052.6 1186.3,1045.3 1191.6,1054.2 1197.6,1055.8 1205,1053.6 1210.4,1057.6 1214,1052.9 1217.9,1045.9 1220,1045 1229,1047.7 1233.6,1041.8 1238,1040.3 1245.6,1043.3 1257.7,1053.1 1262.2,1049.4 1265,1048.7 1272.7,1039.7 1289,1042.8 1296.7,1027.8 1302.7,1027.2 1303.5,1027.2 1308.7,1034.7 1317.7,1032.5 1323.7,1034.8 1331,1030.5 1343,1025.3 1352,1027.4 1355,1024.1 1358,1024.4 1364,1025.9 1376,1025.9 1386.8,1029.5 1394,1025.2 1399.5,1024 1408.5,1026.2 1416,1032.2 1422.8,1036.6 1427.3,1036.6 1429.5,1010.2 1434.1,991.5 1440,981.1 1446.1,974.8 1458,921.1 1461.8,922.2 1467.8,916.3 1477.6,915.5 1482,908.1 1488.9,904.3 1492,910.5 1493,911.6 1503.1,907.2 1512,913.9 1518,905.9 1524.1,893 1532.4,888.4 1536,899.2 1536.9,899.2 1543.7,894.4 1552.7,879.4 1563.2,874.2 1570.7,872.7 1575,879.1 1575.9,879.2 1581.2,877.2 1588.7,877.9 1594.7,861.5 1602.2,861.4 1614.2,858.4 1618.7,854 1623.2,846.5 1628,829.4 1629.2,828 1638,832 1642,826.9 1647.3,802.9 1653.3,802.1 1662,797 1669.8,782.6 1674.1,781.9 1678.8,775.1 1684.5,740.6 1692,734.6 1696.5,737.6 1702.5,725.7 1707.8,707.6 1711.5,703.9 1716.8,714.4 1725,701 1728,681.4 1730,692.1 1731.8,706.2 1735.6,696.4 1744.6,696.4 1748,693 1749.1,694.6 1752.8,703.9 1756.6,688.2 1764.1,680.7 1770,676.3 1776.1,674.7 1779.1,656.7 1785.1,635.7 1791,632.8 1799.4,625.9 1801.6,620.3 1804.6,610.3 1810.6,592.3 1815.1,584.1 1821.1,587.7 1827.9,598.3 1831.7,581.6 1838,561.6 1841,567.5 1842.2,568.6 1849.7,571.3 1857.2,567.6 1863.2,573.5 1867.7,541.3 1870.7,532.3 1881,536.8 1887.2,536.1 1890.2,521.9 1893.2,517.4 1897.7,520 1898.5,519.8 1910,311.8 1910.8,311.9 1913.8,314.3 1924.7,288.3 1928.8,271 1935.3,268.2 1942.8,261 1948.8,252.2 1954.8,246.2 1960.2,235.8 1965.6,234.1 1970,228.3 1972.3,201.7 1973,201.3 1976,202 1982,202 1982,1283"/>
<path id="p27" d="M556,1283L556,1253.2 559.5,1252.7 562.5,1250.5 567.8,1244.5 575,1241.6 577.5,1231.9 580.5,1225.1 588,1213.8 592.6,1207.6 595.6,1201.7 597.8,1202.5 601.6,1208.5 606.1,1209.2 608,1204.5 610.6,1194.2 618.1,1183.8 633.1,1165.9 635,1165.6 636.8,1166.5 642.1,1159.8 645.1,1160.5 649.6,1153.5 654.1,1154.1 658.6,1146.3 661.6,1145.5 665.4,1135.8 672.1,1136.5 681.1,1132.8 691.7,1125.6 696.2,1127 705.2,1122.2 720.2,1116.2 723.2,1111.8 726.9,1117.7 739.7,1117.7 754.7,1115.5 762.2,1117.4 766.7,1114 771.2,1099.1 777.2,1098.2 786.2,1112.4 795.3,1114.4 816.3,1105 825.3,1104.2 845,1112.1 846.3,1111.5 851,1106.8 857,1098.1 862,1093.6 868.8,1077 876.3,1083 880.8,1078.5 884,1080.4 887,1077.6 890,1074.1 894.3,1075.5 899,1085.5 900,1087.1 907.1,1092.8 913.1,1089 917,1088.4 926,1091.1 928.1,1094.3 935,1108.1 936.4,1107.5 943.9,1089.8 947,1094.8 950,1090.6 952,1086.3 953,1086.3 958.9,1088.2 964.1,1081.6 971.7,1077.8 982.2,1077.8 986.7,1080.8 991.2,1088.1 994,1074.1 994.9,1075.4 997.2,1082.3 1002.4,1087.5 1005.4,1086 1013.7,1090.5 1018.2,1086 1022.7,1074.8 1033.2,1069.5 1039.2,1071 1048.2,1069.5 1058.7,1075.5 1067.7,1073.3 1073.8,1075.5 1079.8,1080 1088.8,1083 1092.5,1080 1097.8,1084.5 1103.8,1083 1109,1083.5 1112,1085.1 1120.3,1071.6 1127.8,1076 1132.3,1065.5 1139,1055.1 1143.5,1060.3 1155.6,1049.8 1166.8,1050.6 1170.9,1043.1 1175,1049.7 1176.6,1050.3 1182.6,1052 1186.3,1044.6 1191.6,1053.6 1197.6,1055.1 1205,1052.8 1210.4,1056.8 1214,1052.1 1217.9,1045.1 1220,1044.2 1229,1046.8 1233.6,1040.8 1238,1039.3 1245.6,1042.3 1257.7,1052 1262.2,1048.3 1265,1047.6 1272.7,1038.6 1289,1041.6 1296.7,1026.7 1303.5,1026 1308.7,1033.4 1317.7,1031.2 1323.7,1033.5 1331,1029.2 1343,1023.9 1352,1026 1355,1022.7 1358,1023 1364,1024.5 1376,1024.5 1386.8,1028.2 1394,1023.9 1399.5,1022.7 1408.5,1025 1416,1030.9 1422.8,1035.4 1427.3,1035.4 1429.5,1009 1434.1,990.3 1440,979.9 1446.1,973.7 1458,920 1461.8,921.1 1467.8,915.2 1477.6,914.4 1482,907 1488.9,903.2 1492,909.4 1493,910.5 1503.1,906.1 1512,912.8 1518,904.8 1524.1,891.9 1532.4,887.3 1536,898.1 1536.9,898.1 1543.7,893.3 1552.7,878.3 1563.2,873.1 1570.7,871.6 1575,878 1575.9,878.1 1581.2,876.1 1588.7,876.8 1594.7,860.4 1602.2,860.3 1614.2,857.3 1618.7,852.9 1623.2,845.4 1628,828.3 1629.2,826.9 1638,830.9 1642,825.8 1647.3,801.8 1653.3,801 1662,795.9 1669.8,781.5 1674.1,780.8 1678.8,774 1684.5,739.5 1692,733.5 1696.5,736.5 1702.5,724.5 1707.8,706.4 1711.5,702.7 1716.8,713.2 1725,699.8 1728,680.2 1730,690.9 1731.8,705 1735.6,695.2 1744.6,695.2 1748,691.8 1749.1,693.4 1752.8,702.7 1756.6,687 1764.1,679.5 1770,675.1 1776.1,673.5 1779.1,655.5 1785.1,634.5 1791,631.5 1799.4,624.6 1801.6,619 1804.6,609.1 1810.6,591.1 1815.1,582.8 1821.1,586.4 1827.9,597 1831.7,580.3 1838,560.3 1841,566.2 1842.2,567.3 1849.7,570 1857.2,566.3 1863.2,572.1 1867.7,539.9 1870.7,531 1881,535.4 1887.2,534.7 1890.2,520.5 1893.2,516 1897.7,518.6 1898.5,518.4 1910,309.7 1910.8,309.8 1913.8,312.2 1924.7,286.1 1928.8,268.8 1935.3,266 1942.8,258.7 1948.8,249.9 1954.8,243.8 1960.2,233.3 1965.6,231.6 1970,225.8 1972.3,199.1 1973,198.8 1976,199.4 1982,199.4 1982,1283"/>
<path id="q27" d="M556,1253.5L556,1253.2 559.5,1252.7 562.5,1250.5 567.8,1244.5 575,1241.6 577.5,1231.9 580.5,1225.1 588,1213.8 592.6,1207.6 595.6,1201.7 597.8,1202.5 601.6,1208.5 606.1,1209.2 608,1204.5 610.6,1194.2 618.1,1183.8 633.1,1165.9 635,1165.6 636.8,1166.5 642.1,1159.8 645.1,1160.5 649.6,1153.5 654.1,1154.1 658.6,1146.3 661.6,1145.5 665.4,1135.8 672.1,1136.5 681.1,1132.8 691.7,1125.6 696.2,1127 705.2,1122.2 720.2,1116.2 723.2,1111.8 726.9,1117.7 739.7,1117.7 754.7,1115.5 762.2,1117.4 766.7,1114 771.2,1099.1 777.2,1098.2 786.2,1112.4 795.3,1114.4 816.3,1105 825.3,1104.2 845,1112.1 846.3,1111.5 851,1106.8 857,1098.1 862,1093.6 868.8,1077 876.3,1083 880.8,1078.5 884,1080.4 887,1077.6 890,1074.1 894.3,1075.5 899,1085.5 900,1087.1 907.1,1092.8 913.1,1089 917,1088.4 926,1091.1 928.1,1094.3 935,1108.1 936.4,1107.5 943.9,1089.8 947,1094.8 950,1090.6 952,1086.3 953,1086.3 958.9,1088.2 964.1,1081.6 971.7,1077.8 982.2,1077.8 986.7,1080.8 991.2,1088.1 994,1074.1 994.9,1075.4 997.2,1082.3 1002.4,1087.5 1005.4,1086 1013.7,1090.5 1018.2,1086 1022.7,1074.8 1033.2,1069.5 1039.2,1071 1048.2,1069.5 1058.7,1075.5 1067.7,1073.3 1073.8,1075.5 1079.8,1080 1088.8,1083 1092.5,1080 1097.8,1084.5 1103.8,1083 1109,1083.5 1112,1085.1 1120.3,1071.6 1127.8,1076 1132.3,1065.5 1139,1055.1 1143.5,1060.3 1155.6,1049.8 1166.8,1050.6 1170.9,1043.1 1175,1049.7 1176.6,1050.3 1182.6,1052 1186.3,1044.6 1191.6,1053.6 1197.6,1055.1 1205,1052.8 1210.4,1056.8 1214,1052.1 1217.9,1045.1 1220,1044.2 1229,1046.8 1233.6,1040.8 1238,1039.3 1245.6,1042.3 1257.7,1052 1262.2,1048.3 1265,1047.6 1272.7,1038.6 1289,1041.6 1296.7,1026.7 1303.5,1026 1308.7,1033.4 1317.7,1031.2 1323.7,1033.5 1331,1029.2 1343,1023.9 1352,1026 1355,1022.7 1358,1023 1364,1024.5 1376,1024.5 1386.8,1028.2 1394,1023.9 1399.5,1022.7 1408.5,1025 1416,1030.9 1422.8,1035.4 1427.3,1035.4 1429.5,1009 1434.1,990.3 1440,979.9 1446.1,973.7 1458,920 1461.8,921.1 1467.8,915.2 1477.6,914.4 1482,907 1488.9,903.2 1492,909.4 1493,910.5 1503.1,906.1 1512,912.8 1518,904.8 1524.1,891.9 1532.4,887.3 1536,898.1 1536.9,898.1 1543.7,893.3 1552.7,878.3 1563.2,873.1 1570.7,871.6 1575,878 1575.9,878.1 1581.2,876.1 1588.7,876.8 1594.7,860.4 1602.2,860.3 1614.2,857.3 1618.7,852.9 1623.2,845.4 1628,828.3 1629.2,826.9 1638,830.9 1642,825.8 1647.3,801.8 1653.3,801 1662,795.9 1669.8,781.5 1674.1,780.8 1678.8,774 1684.5,739.5 1692,733.5 1696.5,736.5 1702.5,724.5 1707.8,706.4 1711.5,702.7 1716.8,713.2 1725,699.8 1728,680.2 1730,690.9 1731.8,705 1735.6,695.2 1744.6,695.2 1748,691.8 1749.1,693.4 1752.8,702.7 1756.6,687 1764.1,679.5 1770,675.1 1776.1,673.5 1779.1,655.5 1785.1,634.5 1791,631.5 1799.4,624.6 1801.6,619 1804.6,609.1 1810.6,591.1 1815.1,582.8 1821.1,586.4 1827.9,597 1831.7,580.3 1838,560.3 1841,566.2 1842.2,567.3 1849.7,570 1857.2,566.3 1863.2,572.1 1867.7,539.9 1870.7,531 1881,535.4 1887.2,534.7 1890.2,520.5 1893.2,516 1897.7,518.6 1898.5,518.4 1910,309.7 1910.8,309.8 1913.8,312.2 1924.7,286.1 1928.8,268.8 1935.3,266 1942.8,258.7 1948.8,249.9 1954.8,243.8 1960.2,233.3 1965.6,231.6 1970,225.8 1972.3,199.1 1973,198.8 1976,199.4 1982,199.4 1982,1283"/>
<path id="p28" d="M324.6,1283L324.6,1269.2 330,1266.2 367,1264 420,1265.8 455,1262.5 478,1259.5 530,1256 559.5,1251.7 562.5,1249.4 567.8,1243.4 575,1240.5 577.5,1230.8 580.5,1224 588,1212.7 592.6,1206.5 595.6,1200.5 597.8,1201.4 601.6,1207.4 606.1,1208 608,1203.4 610.6,1193.1 618.1,1182.6 633.1,1164.7 635,1164.4 636.8,1165.3 642.1,1158.6 645.1,1159.3 649.6,1152.3 654.1,1152.9 658.6,1145.1 661.6,1144.3 665.4,1134.6 672.1,1135.3 681.1,1131.6 691.7,1124.4 696.2,1125.8 705.2,1121 720.2,1115 723.2,1110.6 726.9,1116.5 739.7,1116.5 754.7,1114.3 762.2,1116.2 766.7,1112.8 771.2,1097.9 773,1097.5 777.2,1097 786.2,1111.2 795.3,1113.2 816.3,1103.8 825.3,1103 845,1110.9 846.3,1110.3 851,1105.6 857,1096.9 862,1092.4 868.8,1075.8 876.3,1081.8 880.8,1077.3 884,1079.2 887,1076.4 890,1072.9 894.3,1074.3 899,1084.3 900,1085.9 907.1,1091.6 913.1,1087.8 917,1087.2 926,1089.9 928.1,1093.1 935,1106.9 936.4,1106.3 943.9,1088.6 947,1093.6 950,1089.4 952,1085.1 953,1085.1 958.9,1087 964.1,1080.4 971.7,1076.6 982.2,1076.6 986.7,1079.6 991.2,1086.9 994,1072.9 994.9,1074.2 997.2,1081.1 1002.4,1086.3 1005.4,1084.8 1013.7,1089.3 1018.2,1084.8 1022.7,1073.6 1033.2,1068.3 1039.2,1069.8 1048.2,1068.3 1058.7,1074.3 1067.7,1072.1 1073.8,1074.3 1079.8,1078.8 1088.8,1081.8 1092.5,1078.8 1097.8,1083.3 1103.8,1081.8 1109,1082.3 1112,1083.9 1120.3,1070.4 1127.8,1074.8 1132.3,1064.3 1139,1053.9 1143.5,1059.1 1155.6,1048.6 1166.8,1049.4 1170.9,1041.9 1175,1048.5 1176.6,1049.1 1182.6,1050.8 1186.3,1043.4 1191.6,1052.4 1197.6,1053.9 1205,1051.6 1210.4,1055.6 1214,1050.9 1217.9,1043.9 1220,1043 1229,1045.6 1233.6,1039.6 1238,1038.1 1245.6,1041.1 1257.7,1050.8 1262.2,1047.1 1265,1046.4 1272.7,1037.4 1289,1040.3 1296.7,1025.3 1303.5,1024.7 1308.7,1032.1 1317.7,1029.8 1323.7,1032.1 1331,1027.7 1343,1022.4 1352,1024.5 1355,1021.2 1358,1021.5 1364,1023 1376,1023.1 1386.8,1026.8 1394,1022.5 1399.5,1021.4 1408.5,1023.6 1416,1029.6 1422.8,1034.1 1427.3,1034.1 1429.5,1007.7 1434.1,989 1440,978.7 1446.1,972.4 1458,918.8 1461.8,919.9 1467.8,914 1477.6,913.2 1482,905.8 1488.9,902 1492,908.2 1493,909.3 1503.1,904.9 1512,911.6 1518,903.6 1524.1,890.7 1532.4,886.1 1536,896.9 1536.9,896.9 1543.7,892.1 1552.7,877.1 1563.2,871.9 1570.7,870.4 1575,876.8 1575.9,876.9 1581.2,874.9 1588.7,875.6 1594.7,859.2 1602.2,859.1 1614.2,856.1 1618.7,851.7 1623.2,844.2 1628,827.1 1629.2,825.7 1638,829.7 1642,824.6 1647.3,800.6 1653.3,799.8 1662,794.7 1669.8,780.3 1674.1,779.6 1678.8,772.8 1684.5,738.2 1692,732.2 1696.5,735.2 1702.5,723.2 1707.8,705.2 1711.5,701.5 1716.8,711.9 1725,698.5 1728,679 1730,689.6 1731.8,703.7 1735.6,693.9 1744.6,693.9 1748,690.5 1749.1,692.1 1752.8,701.4 1756.6,685.6 1764.1,678.1 1770,673.7 1776.1,672.1 1779.1,654.1 1785.1,633.1 1791,630.2 1799.4,623.2 1801.6,617.7 1804.6,607.7 1810.6,589.7 1815.1,581.4 1821.1,585 1827.9,595.6 1831.7,578.9 1838,558.9 1841,564.7 1842.2,565.8 1849.7,568.5 1857.2,564.8 1863.2,570.7 1867.7,538.5 1870.7,529.5 1881,533.9 1887.2,533.3 1890.2,519 1893.2,514.5 1897.7,517.1 1898.5,516.9 1910,307.7 1910.8,307.8 1913.8,310.1 1924.7,284 1928.8,266.6 1935.3,263.7 1942.8,256.4 1948.8,247.5 1954.8,241.4 1960.2,230.9 1965.6,229.1 1970,223.2 1972.3,196.6 1973,196.2 1976,196.8 1982,196.8 1982,1283"/>
<path id="p29" d="M176,1283L176,1275.2 182,1275.2 198,1274.4 200,1273.5 203,1273.3 255,1271.2 321,1269.2 324.6,1266.2 330,1264.4 367,1263.2 420,1264.3 492,1256.5 530,1253.5 559.5,1246.7 567.8,1237.7 575,1235.5 577.5,1225.1 583.5,1215.2 592.6,1196.3 597.8,1193.8 603.1,1202.3 606.1,1200 609.8,1185.2 618.1,1176.1 630,1161.2 639.1,1146.1 648.1,1129.6 657.1,1122.8 660.1,1117.6 663.1,1108.6 672.1,1107.8 681.1,1104 690,1098.9 702.2,1094.3 717.2,1089.7 723.2,1082.7 727.7,1089 739.7,1088.3 750.2,1086.8 762.2,1085.7 765.2,1083.8 769,1075.5 774.2,1068.8 778.7,1068 784,1077 789.2,1082.2 795.3,1083 804.3,1080.7 814.8,1076.2 825.3,1074 837.3,1078.5 846.3,1081.3 851,1073.9 857,1066.2 862,1061.8 868,1047.3 875,1050.3 876.3,1049.7 880,1045.3 884,1046.6 887,1044.3 889.1,1042.3 893,1042.7 894.3,1043.7 898.1,1049.1 902,1057.4 907.1,1060.3 913.1,1055.8 917,1055.8 925.1,1058.8 930.4,1065.6 935,1078.1 936.4,1077.8 943.1,1061.1 946.1,1066.2 950,1058.5 952,1057.3 958.1,1057.3 962,1052.1 964.1,1050.8 970,1049.1 976.2,1048.3 983,1050.3 983.7,1050.6 989.7,1058.6 991.2,1054.9 992.7,1046 994.9,1044.5 998.7,1051.3 1002.4,1056.5 1015.2,1055 1019.7,1044.5 1025.7,1040 1033.2,1036.3 1039.2,1037.8 1045,1037 1046,1037.3 1051.2,1039.3 1058,1044.5 1063.2,1040.8 1069.2,1040 1075.3,1043.1 1078.3,1047.5 1087.3,1051.3 1091.8,1049.8 1097.8,1055 1103.8,1052.8 1112,1052.6 1119.5,1042.1 1127,1043.6 1131.5,1033.2 1139.8,1024.8 1143.5,1028.5 1151,1024.1 1155.6,1016.6 1166,1012.1 1170,1004.9 1170.9,1004.1 1176.6,1009.8 1182.6,1009.1 1186.3,1005.4 1193,1013.5 1199,1010.6 1206.6,1004.6 1210.4,1006.5 1214,1003.1 1217.9,998 1220,997.2 1229,997.8 1233.6,990.4 1244,990.3 1257.7,997.8 1262.2,992.5 1265,991.1 1272.7,981.3 1280,980.6 1287.7,976 1295,962.9 1296.7,961.9 1304.2,958.8 1308.7,967 1319,960.4 1323.7,962.5 1331,956 1338.7,952.8 1343,946.4 1346,946.3 1350.8,946.7 1355,943.9 1361,944.5 1368.8,940 1377.8,937 1385,940.6 1392.8,937.7 1399.5,934.5 1407,936.8 1414.5,939.8 1419.8,946.6 1422.8,957.8 1426.5,949.7 1431.1,960 1436,952.3 1443.1,946.4 1447.6,931.3 1452.1,904.4 1455,896.4 1456.6,890.9 1461.1,890.9 1467.1,886.4 1476.1,884.9 1479.8,878.2 1488.9,872.9 1492,876.7 1493,877.3 1504.6,874.4 1512,881.8 1518,873.8 1522.6,861.7 1533.2,857.2 1536.9,864.6 1542.2,860.8 1549.7,848.1 1557.2,844.3 1563.2,839.8 1572.2,839.1 1575.9,842.1 1581.2,838.3 1588,836 1590.2,829.4 1594.7,821.9 1602.2,823.3 1609.7,820.3 1617.2,816.6 1621.7,806.2 1626.2,792.7 1630.8,791.1 1635,793.2 1636.8,789.6 1641.3,778.9 1645.8,762.5 1654.7,760.3 1662,756.7 1668,746.5 1674.1,741.6 1678.8,740 1684.5,701.7 1692,694.2 1696.5,697.2 1702.5,685.2 1707,668 1712.3,664.9 1716.8,671.6 1723.5,662.7 1728,640.4 1730,646.3 1732.6,658.1 1736.3,655.9 1744.6,655.1 1748,653.1 1749.1,654.8 1752.8,664.1 1756.6,650.6 1764.1,638.6 1770,634.9 1776.1,633.3 1779.1,616.1 1785.1,595.1 1793,584.2 1798.6,579.3 1803.1,563.6 1809.1,547.1 1815.1,539.6 1824.1,542.5 1827.9,547.8 1831.7,534.9 1838,519.7 1841,519.6 1846.1,526.7 1855.1,523.7 1861.1,525.1 1864.1,502.6 1869.2,484.4 1870.7,484.5 1883,489.7 1889,470.7 1890.2,469.6 1894,474 1898.5,465.4 1906.7,269.5 1907.6,261.4 1910.8,260.1 1915.3,251.1 1923.5,237.7 1927.3,219.6 1935.3,215.2 1941.3,210.8 1947.3,197.7 1948,196.7 1953.6,192.5 1957.8,184.8 1964.8,180.6 1968.3,169.5 1970.7,153 1972.3,152 1976,152 1982,152 1982,1283"/>
</defs>
<g clip-path="url(#cp)" fill="none" stroke-linejoin="round">
<use href="#p29" fill="#baece8"/>
<use href="#p28" fill="#e88a87"/>
<use href="#p27" fill="#72aaaa"/>
<use href="#p26" fill="#e9de8b"/>
<use href="#p25" fill="#e68aa0"/>
<use href="#p24" fill="#a0a3e9"/>
<use href="#p23" fill="#efbd8d"/>
<use href="#p22" fill="#bbf0a6"/>
<use href="#p21" fill="#727275"/>
<use href="#p20" fill="#a5c6ed"/>
<use href="#p19" fill="#baece8"/>
<use href="#p18" fill="#e88a87"/>
<use href="#p17" fill="#72aaaa"/>
<use href="#p16" fill="#e9de8b"/>
<use href="#p15" fill="#e68aa0"/>
<use href="#p14" fill="#a0a3e9"/>
<use href="#p13" fill="#efbd8d"/>
<use href="#p12" fill="#bbf0a6"/>
<use href="#p11" fill="#727275"/>
<use href="#p10" fill="#a5c6ed"/>
<use href="#p9" fill="#baece8"/>
<use href="#p8" fill="#e88a87"/>
<use href="#p7" fill="#72aaaa"/>
<use href="#p6" fill="#e9de8b"/>
<use href="#p5" fill="#e68aa0"/>
<use href="#p4" fill="#a0a3e9"/>
<use href="#p3" fill="#efbd8d"/>
<use href="#p2" fill="#bbf0a6"/>
<use href="#p1" fill="#727275"/>
<use href="#p0" fill="#a5c6ed"/>
</g><clipPath id="ca"><use href="#p29"/></clipPath><g clip-path="url(#ca)"><g clip-path="url(#cp)" fill="#000" opacity="0.018">
<rect x="182" y="132" width="1794" height="2"/>
<rect x="182" y="275" width="1794" height="2"/>
<rect x="182" y="418" width="1794" height="2"/>
<rect x="182" y="561" width="1794" height="2"/>
<rect x="182" y="704" width="1794" height="2"/>
<rect x="182" y="847" width="1794" height="2"/>
<rect x="182" y="990" width="1794" height="2"/>
<rect x="182" y="1133" width="1794" height="2"/>
</g></g><g clip-path="url(#cp)" fill="none" stroke-linejoin="round">
<use href="#p0" stroke="#545f6f" stroke-width="2" transform="translate(0,-1)"/>
<use href="#p0" stroke="#88b3e7" stroke-width="2" transform="translate(0,1)"/>
<use href="#p1" stroke="#8dc179" stroke-width="2" transform="translate(0,-1)"/>
<use href="#p1" stroke="#434348" stroke-width="2" transform="translate(0,1)"/>
<use href="#p2" stroke="#d7b770" stroke-width="2" transform="translate(0,-1)"/>
<use href="#p2" stroke="#a6eb8a" stroke-width="2" transform="translate(0,1)"/>
<use href="#p3" stroke="#9b8dc2" stroke-width="2" transform="translate(0,-1)"/>
<use href="#p3" stroke="#eba768" stroke-width="2" transform="translate(0,1)"/>
<use href="#p4" stroke="#c76c98" stroke-width="2" transform="translate(0,-1)"/>
<use href="#p4" stroke="#8185e2" stroke-width="2" transform="translate(0,1)"/>
<use href="#q5" stroke="#dfb76c" stroke-width="2" transform="translate(0,-1)"/>
<use href="#q5" stroke="#e06681" stroke-width="2" transform="translate(0,1)"/>
<use href="#q6" stroke="#6b9f82" stroke-width="2" transform="translate(0,-1)"/>
<use href="#q6" stroke="#e1d469" stroke-width="2" transform="translate(0,1)"/>
<use href="#q7" stroke="#b66d6a" stroke-width="2" transform="translate(0,-1)"/>
<use href="#q7" stroke="#4a8e8e" stroke-width="2" transform="translate(0,1)"/>
<use href="#p8" stroke="#afc4c0" stroke-width="2" transform="translate(0,-1)"/>
<use href="#p8" stroke="#e26561" stroke-width="2" transform="translate(0,1)"/>
<use href="#p9" stroke="#90c0e5" stroke-width="2" transform="translate(0,-1)"/>
<use href="#p9" stroke="#a5e6e0" stroke-width="2" transform="translate(0,1)"/>
<use href="#q10" stroke="#545f6f" stroke-width="2" transform="translate(0,-1)"/>
<use href="#q10" stroke="#88b3e7" stroke-width="2" transform="translate(0,1)"/>
<use href="#p11" stroke="#8dc179" stroke-width="2" transform="translate(0,-1)"/>
<use href="#p11" stroke="#434348" stroke-width="2" transform="translate(0,1)"/>
<use href="#p12" stroke="#d7b770" stroke-width="2" transform="translate(0,-1)"/>
<use href="#p12" stroke="#a6eb8a" stroke-width="2" transform="translate(0,1)"/>
<use href="#q13" stroke="#9b8dc2" stroke-width="2" transform="translate(0,-1)"/>
<use href="#q13" stroke="#eba768" stroke-width="2" transform="translate(0,1)"/>
<use href="#p14" stroke="#c76c98" stroke-width="2" transform="translate(0,-1)"/>
<use href="#p14" stroke="#8185e2" stroke-width="2" transform="translate(0,1)"/>
<use href="#q15" stroke="#dfb76c" stroke-width="2" transform="translate(0,-1)"/>
<use href="#q15" stroke="#e06681" stroke-width="2" transform="translate(0,1)"/>
<use href="#q16" stroke="#6b9f82" stroke-width="2" transform="translate(0,-1)"/>
<use href="#q16" stroke="#e1d469" stroke-width="2" transform="translate(0,1)"/>
<use href="#q17" stroke="#b66d6a" stroke-width="2" transform="translate(0,-1)"/>
<use href="#q17" stroke="#4a8e8e" stroke-width="2" transform="translate(0,1)"/>
<use href="#q18" stroke="#afc4c0" stroke-width="2" transform="translate(0,-1)"/>
<use href="#q18" stroke="#e26561" stroke-width="2" transform="translate(0,1)"/>
<use href="#p19" stroke="#90c0e5" stroke-width="2" transform="translate(0,-1)"/>
<use href="#p19" stroke="#a5e6e0" stroke-width="2" transform="translate(0,1)"/>
<use href="#p20" stroke="#545f6f" stroke-width="2" transform="translate(0,-1)"/>
<use href="#p20" stroke="#88b3e7" stroke-width="2" transform="translate(0,1)"/>
<use href="#q21" stroke="#8dc179" stroke-width="2" transform="translate(0,-1)"/>
<use href="#q21" stroke="#434348" stroke-width="2" transform="translate(0,1)"/>
<use href="#q22" stroke="#d7b770" stroke-width="2" transform="translate(0,-1)"/>
<use href="#q22" stroke="#a6eb8a" stroke-width="2" transform="translate(0,1)"/>
<use href="#q23" stroke="#9b8dc2" stroke-width="2" transform="translate(0,-1)"/>
<use href="#q23" stroke="#eba768" stroke-width="2" transform="translate(0,1)"/>
<use href="#q24" stroke="#c76c98" stroke-width="2" transform="translate(0,-1)"/>
<use href="#q24" stroke="#8185e2" stroke-width="2" transform="translate(0,1)"/>
<use href="#q25" stroke="#dfb76c" stroke-width="2" transform="translate(0,-1)"/>
<use href="#q25" stroke="#e06681" stroke-width="2" transform="translate(0,1)"/>
<use href="#q26" stroke="#6b9f82" stroke-width="2" transform="translate(0,-1)"/>
<use href="#q26" stroke="#e1d469" stroke-width="2" transform="translate(0,1)"/>
<use href="#q27" stroke="#b66d6a" stroke-width="2" transform="translate(0,-1)"/>
<use href="#q27" stroke="#4a8e8e" stroke-width="2" transform="translate(0,1)"/>
<use href="#p28" stroke="#afc4c0" stroke-width="2" transform="translate(0,-1)"/>
<use href="#p28" stroke="#e26561" stroke-width="2" transform="translate(0,1)"/>
<use href="#p29" stroke="#a5e6e0" stroke-width="4"/>
</g>
<rect x="182" y="1276" width="1794" height="2" fill="#ccd6eb"/>
<rect x="416" y="1277" width="2" height="20" fill="#ccd6eb"/>
<rect x="636" y="1277" width="2" height="20" fill="#ccd6eb"/>
<rect x="874" y="1277" width="2" height="20" fill="#ccd6eb"/>
<rect x="1113.6" y="1277" width="2" height="20" fill="#ccd6eb"/>
<rect x="1358" y="1277" width="2" height="20" fill="#ccd6eb"/>
<rect x="1597.6" y="1277" width="2" height="20" fill="#ccd6eb"/>
<rect x="1836" y="1277" width="2" height="20" fill="#ccd6eb"/>
<text x="22" y="128.3" textLength="129" lengthAdjust="spacingAndGlyphs">160000 ETH</text>
<text x="22" y="271.3" textLength="129" lengthAdjust="spacingAndGlyphs">140000 ETH</text>
<text x="22" y="414.3" textLength="129" lengthAdjust="spacingAndGlyphs">120000 ETH</text>
<text x="22" y="557.3" textLength="129" lengthAdjust="spacingAndGlyphs">100000 ETH</text>
<text x="34.8" y="700.3" textLength="116.2" lengthAdjust="spacingAndGlyphs">80000 ETH</text>
<text x="34.8" y="843.3" textLength="116.2" lengthAdjust="spacingAndGlyphs">60000 ETH</text>
<text x="34.8" y="986.3" textLength="116.2" lengthAdjust="spacingAndGlyphs">40000 ETH</text>
<text x="34.8" y="1129.3" textLength="116.2" lengthAdjust="spacingAndGlyphs">20000 ETH</text>
<text x="90" y="1272.3" textLength="61" lengthAdjust="spacingAndGlyphs">0 ETH</text>
<text x="380.6" y="1315" textLength="73.4" lengthAdjust="spacingAndGlyphs">Jan &#39;19</text>
<text x="597.8" y="1315" textLength="79" lengthAdjust="spacingAndGlyphs">Mar &#39;19</text>
<text x="834.3" y="1315" textLength="82" lengthAdjust="spacingAndGlyphs">May &#39;19</text>
<text x="1081.4" y="1315" textLength="67" lengthAdjust="spacingAndGlyphs">Jul &#39;19</text>
<text x="1320.8" y="1315" textLength="77" lengthAdjust="spacingAndGlyphs">Sep &#39;19</text>
<text x="1558.9" y="1315" textLength="80" lengthAdjust="spacingAndGlyphs">Nov &#39;19</text>
<text x="1800.5" y="1315" textLength="73.5" lengthAdjust="spacingAndGlyphs">Jan &#39;20</text>
</svg></body></html>
